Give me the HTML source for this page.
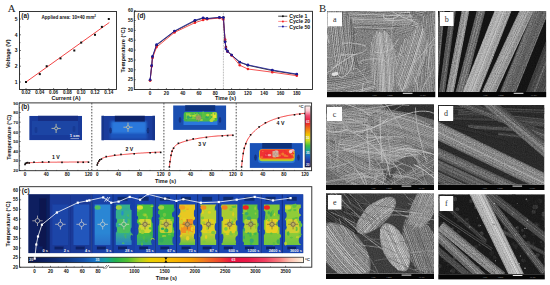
<!DOCTYPE html>
<html><head><meta charset="utf-8"><style>
html,body{margin:0;padding:0;background:#fff;}
body{width:550px;height:285px;overflow:hidden;}
svg{display:block;font-family:"Liberation Sans",sans-serif;}
</style></head><body>
<svg width="550" height="285" viewBox="0 0 550 285">
<defs>
<filter id="bl1" x="-20%" y="-20%" width="140%" height="140%"><feGaussianBlur stdDeviation="0.7"/></filter>
<filter id="bl0" x="-5%" y="-5%" width="110%" height="110%"><feGaussianBlur stdDeviation="0.45"/></filter>
<filter id="bl15" x="-20%" y="-20%" width="140%" height="140%"><feGaussianBlur stdDeviation="1.3"/></filter>
<filter id="grain" x="0" y="0" width="100%" height="100%" color-interpolation-filters="sRGB"><feTurbulence type="fractalNoise" baseFrequency="0.9" numOctaves="2" seed="3"/><feColorMatrix values="0.33 0.33 0.33 0 0  0.33 0.33 0.33 0 0  0.33 0.33 0.33 0 0  0 0 0 0 1"/></filter>
<filter id="bl2" x="-30%" y="-30%" width="160%" height="160%"><feGaussianBlur stdDeviation="2.5"/></filter>
</defs>
<rect width="550" height="285" fill="#fff"/>
<rect x="19.5" y="11.5" width="97.0" height="78.0" fill="none" stroke="#222" stroke-width="0.9"/>
<line x1="19.5" y1="82.0" x2="21.0" y2="82.0" stroke="#222" stroke-width="0.6"/>
<text x="16.2" y="83.8" font-size="5" text-anchor="middle" font-weight="bold" fill="#111" >1</text>
<line x1="19.5" y1="66.2" x2="21.0" y2="66.2" stroke="#222" stroke-width="0.6"/>
<text x="16.2" y="68.0" font-size="5" text-anchor="middle" font-weight="bold" fill="#111" >2</text>
<line x1="19.5" y1="50.5" x2="21.0" y2="50.5" stroke="#222" stroke-width="0.6"/>
<text x="16.2" y="52.3" font-size="5" text-anchor="middle" font-weight="bold" fill="#111" >3</text>
<line x1="19.5" y1="34.8" x2="21.0" y2="34.8" stroke="#222" stroke-width="0.6"/>
<text x="16.2" y="36.5" font-size="5" text-anchor="middle" font-weight="bold" fill="#111" >4</text>
<line x1="19.5" y1="19.0" x2="21.0" y2="19.0" stroke="#222" stroke-width="0.6"/>
<text x="16.2" y="20.8" font-size="5" text-anchor="middle" font-weight="bold" fill="#111" >5</text>
<line x1="19.5" y1="74.1" x2="20.5" y2="74.1" stroke="#222" stroke-width="0.5"/>
<line x1="19.5" y1="58.4" x2="20.5" y2="58.4" stroke="#222" stroke-width="0.5"/>
<line x1="19.5" y1="42.6" x2="20.5" y2="42.6" stroke="#222" stroke-width="0.5"/>
<line x1="19.5" y1="26.9" x2="20.5" y2="26.9" stroke="#222" stroke-width="0.5"/>
<line x1="26.0" y1="89.5" x2="26.0" y2="88.0" stroke="#222" stroke-width="0.6"/>
<text x="26.0" y="94.3" font-size="4.6" text-anchor="middle" font-weight="bold" fill="#111" >0.02</text>
<line x1="39.8" y1="89.5" x2="39.8" y2="88.0" stroke="#222" stroke-width="0.6"/>
<text x="39.8" y="94.3" font-size="4.6" text-anchor="middle" font-weight="bold" fill="#111" >0.04</text>
<line x1="53.6" y1="89.5" x2="53.6" y2="88.0" stroke="#222" stroke-width="0.6"/>
<text x="53.6" y="94.3" font-size="4.6" text-anchor="middle" font-weight="bold" fill="#111" >0.06</text>
<line x1="67.4" y1="89.5" x2="67.4" y2="88.0" stroke="#222" stroke-width="0.6"/>
<text x="67.4" y="94.3" font-size="4.6" text-anchor="middle" font-weight="bold" fill="#111" >0.08</text>
<line x1="81.2" y1="89.5" x2="81.2" y2="88.0" stroke="#222" stroke-width="0.6"/>
<text x="81.2" y="94.3" font-size="4.6" text-anchor="middle" font-weight="bold" fill="#111" >0.10</text>
<line x1="95.0" y1="89.5" x2="95.0" y2="88.0" stroke="#222" stroke-width="0.6"/>
<text x="95.0" y="94.3" font-size="4.6" text-anchor="middle" font-weight="bold" fill="#111" >0.12</text>
<line x1="108.8" y1="89.5" x2="108.8" y2="88.0" stroke="#222" stroke-width="0.6"/>
<text x="108.8" y="94.3" font-size="4.6" text-anchor="middle" font-weight="bold" fill="#111" >0.14</text>
<text x="66.0" y="99.6" font-size="5.5" text-anchor="middle" font-weight="bold" fill="#111" >Current (A)</text>
<text transform="translate(9.8,53.7) rotate(-90)" font-size="5.6" text-anchor="middle" font-weight="bold" fill="#111">Voltage (V)</text>
<text x="21.3" y="18.2" font-size="6.4" text-anchor="start" font-weight="bold" fill="#111" >(a)</text>
<text x="41.5" y="18.5" font-size="4.6" text-anchor="start" font-weight="bold" fill="#111" >Applied area: 10×40 mm<tspan font-size="3" dy="-2">2</tspan></text>
<line x1="26.0" y1="82.0" x2="109.3" y2="22.5" stroke="#f03030" stroke-width="0.9"/>
<rect x="25.0" y="81.0" width="2" height="2" fill="#111"/>
<rect x="38.8" y="73.1" width="2" height="2" fill="#111"/>
<rect x="45.7" y="65.2" width="2" height="2" fill="#111"/>
<rect x="59.5" y="57.4" width="2" height="2" fill="#111"/>
<rect x="73.3" y="49.5" width="2" height="2" fill="#111"/>
<rect x="80.2" y="41.6" width="2" height="2" fill="#111"/>
<rect x="94.0" y="33.8" width="2" height="2" fill="#111"/>
<rect x="100.9" y="25.9" width="2" height="2" fill="#111"/>
<rect x="107.8" y="18.0" width="2" height="2" fill="#111"/>
<rect x="134.3" y="11.3" width="178.2" height="78.2" fill="none" stroke="#222" stroke-width="0.9"/>
<line x1="134.3" y1="89.5" x2="135.8" y2="89.5" stroke="#222" stroke-width="0.6"/>
<text x="130.5" y="91.2" font-size="4.6" text-anchor="middle" font-weight="bold" fill="#111" >20</text>
<line x1="134.3" y1="79.7" x2="135.8" y2="79.7" stroke="#222" stroke-width="0.6"/>
<text x="130.5" y="81.4" font-size="4.6" text-anchor="middle" font-weight="bold" fill="#111" >25</text>
<line x1="134.3" y1="69.8" x2="135.8" y2="69.8" stroke="#222" stroke-width="0.6"/>
<text x="130.5" y="71.5" font-size="4.6" text-anchor="middle" font-weight="bold" fill="#111" >30</text>
<line x1="134.3" y1="60.0" x2="135.8" y2="60.0" stroke="#222" stroke-width="0.6"/>
<text x="130.5" y="61.7" font-size="4.6" text-anchor="middle" font-weight="bold" fill="#111" >35</text>
<line x1="134.3" y1="50.1" x2="135.8" y2="50.1" stroke="#222" stroke-width="0.6"/>
<text x="130.5" y="51.8" font-size="4.6" text-anchor="middle" font-weight="bold" fill="#111" >40</text>
<line x1="134.3" y1="40.2" x2="135.8" y2="40.2" stroke="#222" stroke-width="0.6"/>
<text x="130.5" y="42.0" font-size="4.6" text-anchor="middle" font-weight="bold" fill="#111" >45</text>
<line x1="134.3" y1="30.4" x2="135.8" y2="30.4" stroke="#222" stroke-width="0.6"/>
<text x="130.5" y="32.1" font-size="4.6" text-anchor="middle" font-weight="bold" fill="#111" >50</text>
<line x1="134.3" y1="20.5" x2="135.8" y2="20.5" stroke="#222" stroke-width="0.6"/>
<text x="130.5" y="22.2" font-size="4.6" text-anchor="middle" font-weight="bold" fill="#111" >55</text>
<line x1="134.3" y1="10.7" x2="135.8" y2="10.7" stroke="#222" stroke-width="0.6"/>
<text x="130.5" y="12.4" font-size="4.6" text-anchor="middle" font-weight="bold" fill="#111" >60</text>
<line x1="134.3" y1="89.5" x2="135.10000000000002" y2="89.5" stroke="#222" stroke-width="0.4"/>
<line x1="134.3" y1="87.5" x2="135.10000000000002" y2="87.5" stroke="#222" stroke-width="0.4"/>
<line x1="134.3" y1="85.6" x2="135.10000000000002" y2="85.6" stroke="#222" stroke-width="0.4"/>
<line x1="134.3" y1="83.6" x2="135.10000000000002" y2="83.6" stroke="#222" stroke-width="0.4"/>
<line x1="134.3" y1="81.6" x2="135.10000000000002" y2="81.6" stroke="#222" stroke-width="0.4"/>
<line x1="134.3" y1="79.7" x2="135.10000000000002" y2="79.7" stroke="#222" stroke-width="0.4"/>
<line x1="134.3" y1="77.7" x2="135.10000000000002" y2="77.7" stroke="#222" stroke-width="0.4"/>
<line x1="134.3" y1="75.7" x2="135.10000000000002" y2="75.7" stroke="#222" stroke-width="0.4"/>
<line x1="134.3" y1="73.7" x2="135.10000000000002" y2="73.7" stroke="#222" stroke-width="0.4"/>
<line x1="134.3" y1="71.8" x2="135.10000000000002" y2="71.8" stroke="#222" stroke-width="0.4"/>
<line x1="134.3" y1="69.8" x2="135.10000000000002" y2="69.8" stroke="#222" stroke-width="0.4"/>
<line x1="134.3" y1="67.8" x2="135.10000000000002" y2="67.8" stroke="#222" stroke-width="0.4"/>
<line x1="134.3" y1="65.9" x2="135.10000000000002" y2="65.9" stroke="#222" stroke-width="0.4"/>
<line x1="134.3" y1="63.9" x2="135.10000000000002" y2="63.9" stroke="#222" stroke-width="0.4"/>
<line x1="134.3" y1="61.9" x2="135.10000000000002" y2="61.9" stroke="#222" stroke-width="0.4"/>
<line x1="134.3" y1="60.0" x2="135.10000000000002" y2="60.0" stroke="#222" stroke-width="0.4"/>
<line x1="134.3" y1="58.0" x2="135.10000000000002" y2="58.0" stroke="#222" stroke-width="0.4"/>
<line x1="134.3" y1="56.0" x2="135.10000000000002" y2="56.0" stroke="#222" stroke-width="0.4"/>
<line x1="134.3" y1="54.0" x2="135.10000000000002" y2="54.0" stroke="#222" stroke-width="0.4"/>
<line x1="134.3" y1="52.1" x2="135.10000000000002" y2="52.1" stroke="#222" stroke-width="0.4"/>
<line x1="134.3" y1="50.1" x2="135.10000000000002" y2="50.1" stroke="#222" stroke-width="0.4"/>
<line x1="134.3" y1="48.1" x2="135.10000000000002" y2="48.1" stroke="#222" stroke-width="0.4"/>
<line x1="134.3" y1="46.2" x2="135.10000000000002" y2="46.2" stroke="#222" stroke-width="0.4"/>
<line x1="134.3" y1="44.2" x2="135.10000000000002" y2="44.2" stroke="#222" stroke-width="0.4"/>
<line x1="134.3" y1="42.2" x2="135.10000000000002" y2="42.2" stroke="#222" stroke-width="0.4"/>
<line x1="134.3" y1="40.2" x2="135.10000000000002" y2="40.2" stroke="#222" stroke-width="0.4"/>
<line x1="134.3" y1="38.3" x2="135.10000000000002" y2="38.3" stroke="#222" stroke-width="0.4"/>
<line x1="134.3" y1="36.3" x2="135.10000000000002" y2="36.3" stroke="#222" stroke-width="0.4"/>
<line x1="134.3" y1="34.3" x2="135.10000000000002" y2="34.3" stroke="#222" stroke-width="0.4"/>
<line x1="134.3" y1="32.4" x2="135.10000000000002" y2="32.4" stroke="#222" stroke-width="0.4"/>
<line x1="134.3" y1="30.4" x2="135.10000000000002" y2="30.4" stroke="#222" stroke-width="0.4"/>
<line x1="134.3" y1="28.4" x2="135.10000000000002" y2="28.4" stroke="#222" stroke-width="0.4"/>
<line x1="134.3" y1="26.5" x2="135.10000000000002" y2="26.5" stroke="#222" stroke-width="0.4"/>
<line x1="134.3" y1="24.5" x2="135.10000000000002" y2="24.5" stroke="#222" stroke-width="0.4"/>
<line x1="134.3" y1="22.5" x2="135.10000000000002" y2="22.5" stroke="#222" stroke-width="0.4"/>
<line x1="134.3" y1="20.5" x2="135.10000000000002" y2="20.5" stroke="#222" stroke-width="0.4"/>
<line x1="134.3" y1="18.6" x2="135.10000000000002" y2="18.6" stroke="#222" stroke-width="0.4"/>
<line x1="134.3" y1="16.6" x2="135.10000000000002" y2="16.6" stroke="#222" stroke-width="0.4"/>
<line x1="134.3" y1="14.6" x2="135.10000000000002" y2="14.6" stroke="#222" stroke-width="0.4"/>
<line x1="134.3" y1="12.7" x2="135.10000000000002" y2="12.7" stroke="#222" stroke-width="0.4"/>
<line x1="134.3" y1="10.7" x2="135.10000000000002" y2="10.7" stroke="#222" stroke-width="0.4"/>
<line x1="150.1" y1="89.5" x2="150.1" y2="88.0" stroke="#222" stroke-width="0.6"/>
<text x="150.1" y="94.5" font-size="4.6" text-anchor="middle" font-weight="bold" fill="#111" >0</text>
<line x1="166.4" y1="89.5" x2="166.4" y2="88.0" stroke="#222" stroke-width="0.6"/>
<text x="166.4" y="94.5" font-size="4.6" text-anchor="middle" font-weight="bold" fill="#111" >20</text>
<line x1="182.7" y1="89.5" x2="182.7" y2="88.0" stroke="#222" stroke-width="0.6"/>
<text x="182.7" y="94.5" font-size="4.6" text-anchor="middle" font-weight="bold" fill="#111" >40</text>
<line x1="199.0" y1="89.5" x2="199.0" y2="88.0" stroke="#222" stroke-width="0.6"/>
<text x="199.0" y="94.5" font-size="4.6" text-anchor="middle" font-weight="bold" fill="#111" >60</text>
<line x1="215.3" y1="89.5" x2="215.3" y2="88.0" stroke="#222" stroke-width="0.6"/>
<text x="215.3" y="94.5" font-size="4.6" text-anchor="middle" font-weight="bold" fill="#111" >80</text>
<line x1="231.6" y1="89.5" x2="231.6" y2="88.0" stroke="#222" stroke-width="0.6"/>
<text x="231.6" y="94.5" font-size="4.6" text-anchor="middle" font-weight="bold" fill="#111" >100</text>
<line x1="247.9" y1="89.5" x2="247.9" y2="88.0" stroke="#222" stroke-width="0.6"/>
<text x="247.9" y="94.5" font-size="4.6" text-anchor="middle" font-weight="bold" fill="#111" >120</text>
<line x1="264.2" y1="89.5" x2="264.2" y2="88.0" stroke="#222" stroke-width="0.6"/>
<text x="264.2" y="94.5" font-size="4.6" text-anchor="middle" font-weight="bold" fill="#111" >140</text>
<line x1="280.5" y1="89.5" x2="280.5" y2="88.0" stroke="#222" stroke-width="0.6"/>
<text x="280.5" y="94.5" font-size="4.6" text-anchor="middle" font-weight="bold" fill="#111" >160</text>
<line x1="296.8" y1="89.5" x2="296.8" y2="88.0" stroke="#222" stroke-width="0.6"/>
<text x="296.8" y="94.5" font-size="4.6" text-anchor="middle" font-weight="bold" fill="#111" >180</text>
<line x1="158.2" y1="89.5" x2="158.2" y2="88.6" stroke="#222" stroke-width="0.5"/>
<line x1="174.5" y1="89.5" x2="174.5" y2="88.6" stroke="#222" stroke-width="0.5"/>
<line x1="190.8" y1="89.5" x2="190.8" y2="88.6" stroke="#222" stroke-width="0.5"/>
<line x1="207.1" y1="89.5" x2="207.1" y2="88.6" stroke="#222" stroke-width="0.5"/>
<line x1="223.4" y1="89.5" x2="223.4" y2="88.6" stroke="#222" stroke-width="0.5"/>
<line x1="239.8" y1="89.5" x2="239.8" y2="88.6" stroke="#222" stroke-width="0.5"/>
<line x1="256.0" y1="89.5" x2="256.0" y2="88.6" stroke="#222" stroke-width="0.5"/>
<line x1="272.3" y1="89.5" x2="272.3" y2="88.6" stroke="#222" stroke-width="0.5"/>
<line x1="288.6" y1="89.5" x2="288.6" y2="88.6" stroke="#222" stroke-width="0.5"/>
<text x="225.5" y="100.0" font-size="5.5" text-anchor="middle" font-weight="bold" fill="#111" >Time (s)</text>
<text transform="translate(124.6,50) rotate(-90)" font-size="5.6" text-anchor="middle" font-weight="bold" fill="#111">Temperature (°C)</text>
<text x="137.3" y="18.2" font-size="6.4" text-anchor="start" font-weight="bold" fill="#111" >(d)</text>
<line x1="223.4" y1="11.3" x2="223.4" y2="89.5" stroke="#555" stroke-width="0.5" stroke-dasharray="0.8,0.8"/>
<polyline points="150.1,80.2 151.7,65.9 152.5,57.0 156.6,45.2 174.5,31.4 194.9,20.9 203.1,18.2 207.1,18.6 219.4,17.6 223.4,17.6 225.1,41.2 225.9,47.1 227.5,51.1 231.6,55.0 239.8,62.3 247.9,65.3 272.3,70.6 296.8,74.5" fill="none" stroke="#111" stroke-width="0.8"/>
<circle cx="150.1" cy="80.2" r="1.3" fill="#111"/>
<circle cx="151.7" cy="65.9" r="1.3" fill="#111"/>
<circle cx="152.5" cy="57.0" r="1.3" fill="#111"/>
<circle cx="156.6" cy="45.2" r="1.3" fill="#111"/>
<circle cx="174.5" cy="31.4" r="1.3" fill="#111"/>
<circle cx="194.9" cy="20.9" r="1.3" fill="#111"/>
<circle cx="203.1" cy="18.2" r="1.3" fill="#111"/>
<circle cx="207.1" cy="18.6" r="1.3" fill="#111"/>
<circle cx="219.4" cy="17.6" r="1.3" fill="#111"/>
<circle cx="223.4" cy="17.6" r="1.3" fill="#111"/>
<circle cx="225.1" cy="41.2" r="1.3" fill="#111"/>
<circle cx="225.9" cy="47.1" r="1.3" fill="#111"/>
<circle cx="227.5" cy="51.1" r="1.3" fill="#111"/>
<circle cx="231.6" cy="55.0" r="1.3" fill="#111"/>
<circle cx="239.8" cy="62.3" r="1.3" fill="#111"/>
<circle cx="247.9" cy="65.3" r="1.3" fill="#111"/>
<circle cx="272.3" cy="70.6" r="1.3" fill="#111"/>
<circle cx="296.8" cy="74.5" r="1.3" fill="#111"/>
<polyline points="150.1,80.6 151.7,66.3 152.5,58.0 156.6,47.1 174.5,32.4 194.9,22.7 203.1,20.0 207.1,19.2 219.4,18.0 223.4,19.6 225.1,39.5 225.9,47.7 227.5,51.7 231.6,55.4 239.8,65.3 247.9,69.0 272.3,72.2 296.8,75.7" fill="none" stroke="#f02525" stroke-width="0.8"/>
<circle cx="150.1" cy="80.6" r="1.3" fill="#f02525"/>
<circle cx="151.7" cy="66.3" r="1.3" fill="#f02525"/>
<circle cx="152.5" cy="58.0" r="1.3" fill="#f02525"/>
<circle cx="156.6" cy="47.1" r="1.3" fill="#f02525"/>
<circle cx="174.5" cy="32.4" r="1.3" fill="#f02525"/>
<circle cx="194.9" cy="22.7" r="1.3" fill="#f02525"/>
<circle cx="203.1" cy="20.0" r="1.3" fill="#f02525"/>
<circle cx="207.1" cy="19.2" r="1.3" fill="#f02525"/>
<circle cx="219.4" cy="18.0" r="1.3" fill="#f02525"/>
<circle cx="223.4" cy="19.6" r="1.3" fill="#f02525"/>
<circle cx="225.1" cy="39.5" r="1.3" fill="#f02525"/>
<circle cx="225.9" cy="47.7" r="1.3" fill="#f02525"/>
<circle cx="227.5" cy="51.7" r="1.3" fill="#f02525"/>
<circle cx="231.6" cy="55.4" r="1.3" fill="#f02525"/>
<circle cx="239.8" cy="65.3" r="1.3" fill="#f02525"/>
<circle cx="247.9" cy="69.0" r="1.3" fill="#f02525"/>
<circle cx="272.3" cy="72.2" r="1.3" fill="#f02525"/>
<circle cx="296.8" cy="75.7" r="1.3" fill="#f02525"/>
<polyline points="150.1,79.8 151.7,65.5 152.5,56.4 156.6,44.6 174.5,31.0 194.9,20.2 203.1,17.8 207.1,18.6 219.4,17.4 223.4,17.6 225.1,42.0 225.9,48.9 227.5,51.5 231.6,55.0 239.8,62.1 247.9,64.9 272.3,70.0 296.8,74.1" fill="none" stroke="#1a1a9a" stroke-width="0.8"/>
<circle cx="150.1" cy="79.8" r="1.3" fill="#1a1a9a"/>
<circle cx="151.7" cy="65.5" r="1.3" fill="#1a1a9a"/>
<circle cx="152.5" cy="56.4" r="1.3" fill="#1a1a9a"/>
<circle cx="156.6" cy="44.6" r="1.3" fill="#1a1a9a"/>
<circle cx="174.5" cy="31.0" r="1.3" fill="#1a1a9a"/>
<circle cx="194.9" cy="20.2" r="1.3" fill="#1a1a9a"/>
<circle cx="203.1" cy="17.8" r="1.3" fill="#1a1a9a"/>
<circle cx="207.1" cy="18.6" r="1.3" fill="#1a1a9a"/>
<circle cx="219.4" cy="17.4" r="1.3" fill="#1a1a9a"/>
<circle cx="223.4" cy="17.6" r="1.3" fill="#1a1a9a"/>
<circle cx="225.1" cy="42.0" r="1.3" fill="#1a1a9a"/>
<circle cx="225.9" cy="48.9" r="1.3" fill="#1a1a9a"/>
<circle cx="227.5" cy="51.5" r="1.3" fill="#1a1a9a"/>
<circle cx="231.6" cy="55.0" r="1.3" fill="#1a1a9a"/>
<circle cx="239.8" cy="62.1" r="1.3" fill="#1a1a9a"/>
<circle cx="247.9" cy="64.9" r="1.3" fill="#1a1a9a"/>
<circle cx="272.3" cy="70.0" r="1.3" fill="#1a1a9a"/>
<circle cx="296.8" cy="74.1" r="1.3" fill="#1a1a9a"/>
<line x1="278.2" y1="16.2" x2="287.3" y2="16.2" stroke="#111" stroke-width="0.8"/>
<circle cx="282.9" cy="16.2" r="1" fill="#111"/>
<text x="289.2" y="18.1" font-size="5.2" text-anchor="start" font-weight="bold" fill="#111" >Cycle 1</text>
<line x1="278.2" y1="21.4" x2="287.3" y2="21.4" stroke="#ff7070" stroke-width="0.8"/>
<circle cx="282.9" cy="21.4" r="1" fill="#f02525"/>
<text x="289.2" y="23.3" font-size="5.2" text-anchor="start" font-weight="bold" fill="#111" >Cycle 20</text>
<line x1="278.2" y1="26.6" x2="287.3" y2="26.6" stroke="#8080d0" stroke-width="0.8"/>
<circle cx="282.9" cy="26.6" r="1" fill="#1a1a9a"/>
<text x="289.2" y="28.5" font-size="5.2" text-anchor="start" font-weight="bold" fill="#111" >Cycle 50</text>
<rect x="19.2" y="102.9" width="292.40000000000003" height="67.79999999999998" fill="none" stroke="#222" stroke-width="0.9"/>
<line x1="19.2" y1="170.5" x2="20.7" y2="170.5" stroke="#222" stroke-width="0.6"/>
<text x="15.8" y="172.1" font-size="4.4" text-anchor="middle" font-weight="bold" fill="#111" >20</text>
<line x1="19.2" y1="160.8" x2="20.7" y2="160.8" stroke="#222" stroke-width="0.6"/>
<text x="15.8" y="162.4" font-size="4.4" text-anchor="middle" font-weight="bold" fill="#111" >30</text>
<line x1="19.2" y1="151.2" x2="20.7" y2="151.2" stroke="#222" stroke-width="0.6"/>
<text x="15.8" y="152.8" font-size="4.4" text-anchor="middle" font-weight="bold" fill="#111" >40</text>
<line x1="19.2" y1="141.5" x2="20.7" y2="141.5" stroke="#222" stroke-width="0.6"/>
<text x="15.8" y="143.1" font-size="4.4" text-anchor="middle" font-weight="bold" fill="#111" >50</text>
<line x1="19.2" y1="131.9" x2="20.7" y2="131.9" stroke="#222" stroke-width="0.6"/>
<text x="15.8" y="133.5" font-size="4.4" text-anchor="middle" font-weight="bold" fill="#111" >60</text>
<line x1="19.2" y1="122.2" x2="20.7" y2="122.2" stroke="#222" stroke-width="0.6"/>
<text x="15.8" y="123.8" font-size="4.4" text-anchor="middle" font-weight="bold" fill="#111" >70</text>
<line x1="19.2" y1="112.5" x2="20.7" y2="112.5" stroke="#222" stroke-width="0.6"/>
<text x="15.8" y="114.1" font-size="4.4" text-anchor="middle" font-weight="bold" fill="#111" >80</text>
<line x1="19.2" y1="102.9" x2="20.7" y2="102.9" stroke="#222" stroke-width="0.6"/>
<text x="15.8" y="104.5" font-size="4.4" text-anchor="middle" font-weight="bold" fill="#111" >90</text>
<line x1="19.2" y1="165.7" x2="20.099999999999998" y2="165.7" stroke="#222" stroke-width="0.5"/>
<line x1="19.2" y1="156.0" x2="20.099999999999998" y2="156.0" stroke="#222" stroke-width="0.5"/>
<line x1="19.2" y1="146.3" x2="20.099999999999998" y2="146.3" stroke="#222" stroke-width="0.5"/>
<line x1="19.2" y1="136.7" x2="20.099999999999998" y2="136.7" stroke="#222" stroke-width="0.5"/>
<line x1="19.2" y1="127.0" x2="20.099999999999998" y2="127.0" stroke="#222" stroke-width="0.5"/>
<line x1="19.2" y1="117.4" x2="20.099999999999998" y2="117.4" stroke="#222" stroke-width="0.5"/>
<line x1="19.2" y1="107.7" x2="20.099999999999998" y2="107.7" stroke="#222" stroke-width="0.5"/>
<line x1="25.0" y1="170.7" x2="25.0" y2="169.29999999999998" stroke="#222" stroke-width="0.6"/>
<text x="25.0" y="176.2" font-size="4.6" text-anchor="middle" font-weight="bold" fill="#111" >0</text>
<line x1="46.2" y1="170.7" x2="46.2" y2="169.29999999999998" stroke="#222" stroke-width="0.6"/>
<text x="46.2" y="176.2" font-size="4.6" text-anchor="middle" font-weight="bold" fill="#111" >40</text>
<line x1="67.3" y1="170.7" x2="67.3" y2="169.29999999999998" stroke="#222" stroke-width="0.6"/>
<text x="67.3" y="176.2" font-size="4.6" text-anchor="middle" font-weight="bold" fill="#111" >80</text>
<line x1="88.5" y1="170.7" x2="88.5" y2="169.29999999999998" stroke="#222" stroke-width="0.6"/>
<text x="88.5" y="176.2" font-size="4.6" text-anchor="middle" font-weight="bold" fill="#111" >120</text>
<line x1="35.6" y1="170.7" x2="35.6" y2="169.89999999999998" stroke="#222" stroke-width="0.5"/>
<line x1="56.7" y1="170.7" x2="56.7" y2="169.89999999999998" stroke="#222" stroke-width="0.5"/>
<line x1="77.9" y1="170.7" x2="77.9" y2="169.89999999999998" stroke="#222" stroke-width="0.5"/>
<line x1="97.2" y1="170.7" x2="97.2" y2="169.29999999999998" stroke="#222" stroke-width="0.6"/>
<text x="97.2" y="176.2" font-size="4.6" text-anchor="middle" font-weight="bold" fill="#111" >0</text>
<line x1="118.4" y1="170.7" x2="118.4" y2="169.29999999999998" stroke="#222" stroke-width="0.6"/>
<text x="118.4" y="176.2" font-size="4.6" text-anchor="middle" font-weight="bold" fill="#111" >40</text>
<line x1="139.5" y1="170.7" x2="139.5" y2="169.29999999999998" stroke="#222" stroke-width="0.6"/>
<text x="139.5" y="176.2" font-size="4.6" text-anchor="middle" font-weight="bold" fill="#111" >80</text>
<line x1="160.7" y1="170.7" x2="160.7" y2="169.29999999999998" stroke="#222" stroke-width="0.6"/>
<text x="160.7" y="176.2" font-size="4.6" text-anchor="middle" font-weight="bold" fill="#111" >120</text>
<line x1="107.8" y1="170.7" x2="107.8" y2="169.89999999999998" stroke="#222" stroke-width="0.5"/>
<line x1="128.9" y1="170.7" x2="128.9" y2="169.89999999999998" stroke="#222" stroke-width="0.5"/>
<line x1="150.1" y1="170.7" x2="150.1" y2="169.89999999999998" stroke="#222" stroke-width="0.5"/>
<line x1="169.4" y1="170.7" x2="169.4" y2="169.29999999999998" stroke="#222" stroke-width="0.6"/>
<text x="169.4" y="176.2" font-size="4.6" text-anchor="middle" font-weight="bold" fill="#111" >0</text>
<line x1="190.6" y1="170.7" x2="190.6" y2="169.29999999999998" stroke="#222" stroke-width="0.6"/>
<text x="190.6" y="176.2" font-size="4.6" text-anchor="middle" font-weight="bold" fill="#111" >40</text>
<line x1="211.7" y1="170.7" x2="211.7" y2="169.29999999999998" stroke="#222" stroke-width="0.6"/>
<text x="211.7" y="176.2" font-size="4.6" text-anchor="middle" font-weight="bold" fill="#111" >80</text>
<line x1="232.9" y1="170.7" x2="232.9" y2="169.29999999999998" stroke="#222" stroke-width="0.6"/>
<text x="232.9" y="176.2" font-size="4.6" text-anchor="middle" font-weight="bold" fill="#111" >120</text>
<line x1="180.0" y1="170.7" x2="180.0" y2="169.89999999999998" stroke="#222" stroke-width="0.5"/>
<line x1="201.1" y1="170.7" x2="201.1" y2="169.89999999999998" stroke="#222" stroke-width="0.5"/>
<line x1="222.3" y1="170.7" x2="222.3" y2="169.89999999999998" stroke="#222" stroke-width="0.5"/>
<line x1="241.6" y1="170.7" x2="241.6" y2="169.29999999999998" stroke="#222" stroke-width="0.6"/>
<text x="241.6" y="176.2" font-size="4.6" text-anchor="middle" font-weight="bold" fill="#111" >0</text>
<line x1="262.8" y1="170.7" x2="262.8" y2="169.29999999999998" stroke="#222" stroke-width="0.6"/>
<text x="262.8" y="176.2" font-size="4.6" text-anchor="middle" font-weight="bold" fill="#111" >40</text>
<line x1="283.9" y1="170.7" x2="283.9" y2="169.29999999999998" stroke="#222" stroke-width="0.6"/>
<text x="283.9" y="176.2" font-size="4.6" text-anchor="middle" font-weight="bold" fill="#111" >80</text>
<line x1="305.1" y1="170.7" x2="305.1" y2="169.29999999999998" stroke="#222" stroke-width="0.6"/>
<text x="305.1" y="176.2" font-size="4.6" text-anchor="middle" font-weight="bold" fill="#111" >120</text>
<line x1="252.2" y1="170.7" x2="252.2" y2="169.89999999999998" stroke="#222" stroke-width="0.5"/>
<line x1="273.3" y1="170.7" x2="273.3" y2="169.89999999999998" stroke="#222" stroke-width="0.5"/>
<line x1="294.5" y1="170.7" x2="294.5" y2="169.89999999999998" stroke="#222" stroke-width="0.5"/>
<line x1="91.8" y1="102.9" x2="91.8" y2="170.7" stroke="#505050" stroke-width="1.0" stroke-dasharray="1.6,1.4"/>
<line x1="163.9" y1="102.9" x2="163.9" y2="170.7" stroke="#505050" stroke-width="1.0" stroke-dasharray="1.6,1.4"/>
<line x1="236.2" y1="102.9" x2="236.2" y2="170.7" stroke="#505050" stroke-width="1.0" stroke-dasharray="1.6,1.4"/>
<text x="165.5" y="182.8" font-size="5.5" text-anchor="middle" font-weight="bold" fill="#111" >Time (s)</text>
<text transform="translate(11,137.3) rotate(-90)" font-size="5.6" text-anchor="middle" font-weight="bold" fill="#111">Temperature (°C)</text>
<text x="21.2" y="109.4" font-size="6.4" text-anchor="start" font-weight="bold" fill="#111" >(b)</text>
<polyline points="25.0,164.2 26.1,163.5 27.1,163.1 28.2,162.9 29.2,162.8 30.3,162.7 31.3,162.6 32.4,162.6 33.5,162.6 34.5,162.5 35.6,162.5 36.6,162.5 37.7,162.5 38.8,162.4 39.8,162.4 40.9,162.4 41.9,162.4 43.0,162.4 44.0,162.3 45.1,162.3 46.2,162.3 47.2,162.3 48.3,162.3 49.3,162.3 50.4,162.2 51.5,162.2 52.5,162.2 53.6,162.2 54.6,162.2 55.7,162.2 56.7,162.2 57.8,162.1 58.9,162.1 59.9,162.1 61.0,162.1 62.0,162.1 63.1,162.1 64.1,162.1 65.2,162.1 66.3,162.1 67.3,162.1 68.4,162.1 69.4,162.0 70.5,162.0 71.6,162.0 72.6,162.0 73.7,162.0 74.7,162.0 75.8,162.0 76.8,162.0 77.9,162.0 79.0,162.0 80.0,162.0 81.1,162.0 82.1,162.0 83.2,162.0 84.2,162.0 85.3,162.0 86.4,161.9 87.4,161.9 88.5,161.9" fill="none" stroke="#f03535" stroke-width="0.9"/>
<rect x="24.2" y="163.7" width="1.6" height="1.6" fill="#111"/>
<rect x="24.7" y="162.6" width="1.6" height="1.6" fill="#111"/>
<rect x="25.8" y="162.1" width="1.6" height="1.6" fill="#111"/>
<rect x="26.8" y="161.8" width="1.6" height="1.6" fill="#111"/>
<rect x="28.4" y="162.2" width="1.6" height="1.6" fill="#111"/>
<rect x="33.2" y="161.4" width="1.6" height="1.6" fill="#111"/>
<rect x="41.7" y="161.2" width="1.6" height="1.6" fill="#111"/>
<rect x="48.0" y="161.1" width="1.6" height="1.6" fill="#111"/>
<rect x="61.2" y="161.6" width="1.6" height="1.6" fill="#111"/>
<rect x="77.1" y="161.5" width="1.6" height="1.6" fill="#111"/>
<rect x="82.4" y="161.5" width="1.6" height="1.6" fill="#111"/>
<rect x="87.7" y="161.4" width="1.6" height="1.6" fill="#111"/>
<polyline points="97.2,164.7 98.3,162.4 99.3,160.8 100.4,159.7 101.4,158.9 102.5,158.2 103.5,157.8 104.6,157.4 105.7,157.1 106.7,156.8 107.8,156.6 108.8,156.4 109.9,156.2 111.0,156.1 112.0,155.9 113.1,155.7 114.1,155.6 115.2,155.5 116.2,155.3 117.3,155.2 118.4,155.1 119.4,154.9 120.5,154.8 121.5,154.7 122.6,154.6 123.7,154.5 124.7,154.4 125.8,154.3 126.8,154.2 127.9,154.1 128.9,154.0 130.0,153.9 131.1,153.8 132.1,153.7 133.2,153.6 134.2,153.5 135.3,153.5 136.3,153.4 137.4,153.3 138.5,153.2 139.5,153.2 140.6,153.1 141.6,153.0 142.7,153.0 143.8,152.9 144.8,152.8 145.9,152.8 146.9,152.7 148.0,152.7 149.0,152.6 150.1,152.5 151.2,152.5 152.2,152.4 153.3,152.4 154.3,152.3 155.4,152.3 156.4,152.3 157.5,152.2 158.6,152.2 159.6,152.1 160.7,152.1" fill="none" stroke="#f03535" stroke-width="0.9"/>
<rect x="96.4" y="164.2" width="1.6" height="1.6" fill="#111"/>
<rect x="96.9" y="162.3" width="1.6" height="1.6" fill="#111"/>
<rect x="98.0" y="160.4" width="1.6" height="1.6" fill="#111"/>
<rect x="99.0" y="159.0" width="1.6" height="1.6" fill="#111"/>
<rect x="100.6" y="158.3" width="1.6" height="1.6" fill="#111"/>
<rect x="105.4" y="155.8" width="1.6" height="1.6" fill="#111"/>
<rect x="113.9" y="154.3" width="1.6" height="1.6" fill="#111"/>
<rect x="120.2" y="153.6" width="1.6" height="1.6" fill="#111"/>
<rect x="133.4" y="153.0" width="1.6" height="1.6" fill="#111"/>
<rect x="149.3" y="152.0" width="1.6" height="1.6" fill="#111"/>
<rect x="154.6" y="151.8" width="1.6" height="1.6" fill="#111"/>
<rect x="159.9" y="151.6" width="1.6" height="1.6" fill="#111"/>
<polyline points="169.4,166.6 170.5,158.5 171.5,153.4 172.6,150.1 173.6,147.9 174.7,146.5 175.7,145.4 176.8,144.6 177.9,144.0 178.9,143.4 180.0,143.0 181.0,142.6 182.1,142.2 183.2,141.9 184.2,141.5 185.3,141.2 186.3,140.9 187.4,140.6 188.4,140.4 189.5,140.1 190.6,139.9 191.6,139.6 192.7,139.4 193.7,139.2 194.8,139.0 195.9,138.8 196.9,138.6 198.0,138.4 199.0,138.2 200.1,138.0 201.1,137.9 202.2,137.7 203.3,137.6 204.3,137.4 205.4,137.3 206.4,137.1 207.5,137.0 208.5,136.9 209.6,136.7 210.7,136.6 211.7,136.5 212.8,136.4 213.8,136.3 214.9,136.2 216.0,136.1 217.0,136.0 218.1,135.9 219.1,135.9 220.2,135.8 221.2,135.7 222.3,135.6 223.4,135.6 224.4,135.5 225.5,135.4 226.5,135.4 227.6,135.3 228.6,135.2 229.7,135.2 230.8,135.1 231.8,135.1 232.9,135.0" fill="none" stroke="#f03535" stroke-width="0.9"/>
<rect x="168.6" y="166.1" width="1.6" height="1.6" fill="#111"/>
<rect x="169.1" y="160.9" width="1.6" height="1.6" fill="#111"/>
<rect x="170.2" y="154.5" width="1.6" height="1.6" fill="#111"/>
<rect x="171.2" y="150.4" width="1.6" height="1.6" fill="#111"/>
<rect x="172.8" y="147.4" width="1.6" height="1.6" fill="#111"/>
<rect x="177.6" y="142.5" width="1.6" height="1.6" fill="#111"/>
<rect x="186.1" y="139.6" width="1.6" height="1.6" fill="#111"/>
<rect x="192.4" y="138.1" width="1.6" height="1.6" fill="#111"/>
<rect x="205.6" y="136.6" width="1.6" height="1.6" fill="#111"/>
<rect x="221.5" y="135.1" width="1.6" height="1.6" fill="#111"/>
<rect x="226.8" y="134.8" width="1.6" height="1.6" fill="#111"/>
<rect x="232.1" y="134.5" width="1.6" height="1.6" fill="#111"/>
<polyline points="241.6,166.6 242.7,157.3 243.7,151.0 244.8,146.6 245.8,143.5 246.9,141.0 247.9,139.0 249.0,137.3 250.1,135.9 251.1,134.6 252.2,133.4 253.2,132.3 254.3,131.2 255.4,130.3 256.4,129.3 257.5,128.5 258.5,127.6 259.6,126.9 260.6,126.1 261.7,125.4 262.8,124.7 263.8,124.1 264.9,123.5 265.9,122.9 267.0,122.3 268.1,121.8 269.1,121.3 270.2,120.8 271.2,120.4 272.3,120.0 273.3,119.5 274.4,119.2 275.5,118.8 276.5,118.4 277.6,118.1 278.6,117.8 279.7,117.5 280.7,117.2 281.8,116.9 282.9,116.7 283.9,116.4 285.0,116.2 286.0,116.0 287.1,115.7 288.2,115.5 289.2,115.3 290.3,115.2 291.3,115.0 292.4,114.8 293.4,114.7 294.5,114.5 295.6,114.4 296.6,114.2 297.7,114.1 298.7,114.0 299.8,113.9 300.8,113.7 301.9,113.6 303.0,113.5 304.0,113.4 305.1,113.4" fill="none" stroke="#f03535" stroke-width="0.9"/>
<rect x="240.8" y="166.1" width="1.6" height="1.6" fill="#111"/>
<rect x="241.3" y="160.3" width="1.6" height="1.6" fill="#111"/>
<rect x="242.4" y="152.7" width="1.6" height="1.6" fill="#111"/>
<rect x="243.4" y="147.5" width="1.6" height="1.6" fill="#111"/>
<rect x="245.0" y="142.9" width="1.6" height="1.6" fill="#111"/>
<rect x="249.8" y="134.0" width="1.6" height="1.6" fill="#111"/>
<rect x="258.3" y="126.1" width="1.6" height="1.6" fill="#111"/>
<rect x="264.6" y="122.0" width="1.6" height="1.6" fill="#111"/>
<rect x="277.8" y="117.3" width="1.6" height="1.6" fill="#111"/>
<rect x="293.7" y="114.0" width="1.6" height="1.6" fill="#111"/>
<rect x="299.0" y="113.3" width="1.6" height="1.6" fill="#111"/>
<rect x="304.3" y="112.8" width="1.6" height="1.6" fill="#111"/>
<text x="55.8" y="159.4" font-size="5.2" text-anchor="middle" font-weight="bold" fill="#111" >1 V</text>
<text x="129.3" y="150.6" font-size="5.2" text-anchor="middle" font-weight="bold" fill="#111" >2 V</text>
<text x="202.2" y="145.5" font-size="5.2" text-anchor="middle" font-weight="bold" fill="#111" >3 V</text>
<text x="280.5" y="125.3" font-size="5.2" text-anchor="middle" font-weight="bold" fill="#111" >4 V</text>
<clipPath id="cT1"><rect x="29.2" y="115.8" width="52.8" height="24.500000000000014"/></clipPath>
<g clip-path="url(#cT1)"><rect x="29.2" y="115.8" width="52.8" height="24.500000000000014" fill="#183a9a"/><g filter="url(#bl1)"><rect x="38" y="115" width="40" height="6.5" fill="#142e84"/><rect x="32" y="121" width="46" height="14" fill="#1d44a4"/><ellipse cx="36" cy="130" rx="1.5" ry="3" fill="#183a94"/><ellipse cx="74" cy="129" rx="1.5" ry="3" fill="#183a94"/></g></g>
<g stroke="#c8c8a8" stroke-width="0.85" fill="none"><circle cx="56.1" cy="128.4" r="1.5"/><line x1="51.5" y1="128.4" x2="54.6" y2="128.4"/><line x1="57.6" y1="128.4" x2="60.7" y2="128.4"/><line x1="56.1" y1="123.80000000000001" x2="56.1" y2="126.9"/><line x1="56.1" y1="129.9" x2="56.1" y2="133.0"/></g>
<text x="74.6" y="137.4" font-size="4.2" text-anchor="middle" font-weight="bold" fill="#fff" >1 cm</text>
<line x1="70.5" y1="138.6" x2="79" y2="138.6" stroke="#fff" stroke-width="0.5"/>
<clipPath id="cT2"><rect x="101.5" y="115.8" width="53.5" height="24.500000000000014"/></clipPath>
<g clip-path="url(#cT2)"><rect x="101.5" y="115.8" width="53.5" height="24.500000000000014" fill="#1a3c9c"/><g filter="url(#bl15)"><rect x="110" y="121" width="37" height="18" fill="#1e54bc"/><rect x="112" y="121.6" width="34" height="11.5" fill="#2c78dc"/></g><g filter="url(#bl1)"><rect x="114.8" y="115" width="30" height="6.6" fill="#0c2468"/><rect x="101" y="115" width="3" height="26" fill="#14358c"/><rect x="152.5" y="115" width="3" height="26" fill="#14358c"/><ellipse cx="110.5" cy="130.5" rx="1.3" ry="3" fill="#123080"/><ellipse cx="148" cy="130.5" rx="1.3" ry="3" fill="#123080"/></g></g>
<g stroke="#c8c0a0" stroke-width="0.85" fill="none"><circle cx="128" cy="127.2" r="1.5"/><line x1="123.4" y1="127.2" x2="126.5" y2="127.2"/><line x1="129.5" y1="127.2" x2="132.6" y2="127.2"/><line x1="128" y1="122.60000000000001" x2="128" y2="125.7"/><line x1="128" y1="128.7" x2="128" y2="131.8"/></g>
<clipPath id="cT3"><rect x="173.1" y="105.3" width="53.20000000000002" height="24.60000000000001"/></clipPath>
<g clip-path="url(#cT3)"><rect x="173.1" y="105.3" width="53.20000000000002" height="24.60000000000001" fill="#1a4eb0"/><g filter="url(#bl1)"><rect x="183.5" y="119" width="34" height="6" fill="#2a78dc"/><rect x="183.7" y="112" width="33.7" height="9.5" rx="2" fill="#48b84a"/><rect x="186" y="113" width="12" height="6" fill="#7ccc3a"/><rect x="202" y="113.5" width="9" height="5" fill="#5cc040"/><rect x="212.5" y="112.5" width="4" height="5.5" fill="#e8e030"/><ellipse cx="195.0" cy="113.8" rx="1.7" ry="0.7" fill="#30a868"/><ellipse cx="187.9" cy="117.5" rx="2.1" ry="0.9" fill="#9ad040"/><ellipse cx="198.4" cy="113.1" rx="0.9" ry="1.1" fill="#30a868"/><ellipse cx="188.8" cy="114.4" rx="1.7" ry="1.7" fill="#30a868"/><ellipse cx="203.2" cy="112.9" rx="1.1" ry="1.3" fill="#60c048"/><ellipse cx="194.0" cy="113.7" rx="1.0" ry="1.0" fill="#80c840"/><ellipse cx="190.6" cy="117.4" rx="1.7" ry="1.1" fill="#30a868"/><ellipse cx="207.1" cy="117.3" rx="1.7" ry="1.2" fill="#30a868"/><ellipse cx="198.3" cy="115.2" rx="1.6" ry="1.1" fill="#40b050"/><ellipse cx="192.7" cy="114.0" rx="1.9" ry="0.7" fill="#40b050"/><ellipse cx="201.3" cy="119.9" rx="1.8" ry="1.0" fill="#9ad040"/><ellipse cx="188.7" cy="116.1" rx="1.9" ry="0.8" fill="#b8d838"/><ellipse cx="198.1" cy="120.7" rx="0.9" ry="1.3" fill="#40b050"/><ellipse cx="195.5" cy="115.5" rx="1.5" ry="1.5" fill="#9ad040"/><ellipse cx="211.0" cy="120.5" rx="1.5" ry="1.4" fill="#9ad040"/><ellipse cx="207.7" cy="115.1" rx="1.6" ry="1.4" fill="#b8d838"/><ellipse cx="193.8" cy="115.8" rx="1.7" ry="0.7" fill="#b8d838"/><ellipse cx="196.0" cy="117.7" rx="1.5" ry="0.9" fill="#40b050"/><ellipse cx="189.0" cy="114.6" rx="1.3" ry="1.6" fill="#9ad040"/><ellipse cx="190.2" cy="115.9" rx="1.2" ry="0.8" fill="#b8d838"/><ellipse cx="211.8" cy="114.9" rx="1.4" ry="1.0" fill="#b8d838"/><ellipse cx="214.7" cy="113.8" rx="1.0" ry="0.9" fill="#60c048"/><ellipse cx="185.4" cy="119.6" rx="1.1" ry="1.0" fill="#60c048"/><ellipse cx="198.0" cy="115.6" rx="1.6" ry="1.7" fill="#80c840"/><ellipse cx="211.6" cy="120.6" rx="1.7" ry="1.5" fill="#b8d838"/><ellipse cx="212.9" cy="119.1" rx="2.0" ry="1.5" fill="#b8d838"/><ellipse cx="197.3" cy="115.9" rx="1.5" ry="1.1" fill="#60c048"/><ellipse cx="187.1" cy="114.3" rx="1.0" ry="1.0" fill="#9ad040"/><ellipse cx="188.2" cy="117.3" rx="1.6" ry="1.7" fill="#30a868"/><ellipse cx="185.8" cy="119.9" rx="1.7" ry="0.8" fill="#40b050"/><rect x="185.2" y="104" width="30" height="6.9" fill="#11307c"/><ellipse cx="180" cy="120" rx="1.3" ry="3" fill="#123080"/><ellipse cx="220" cy="120" rx="1.3" ry="3" fill="#123080"/></g><rect x="196" y="115.5" width="5" height="4.5" fill="#a89060" opacity="0.8"/></g>
<g stroke="#b09a70" stroke-width="0.5" fill="none"><circle cx="198.6" cy="117.8" r="1.4"/><line x1="194.79999999999998" y1="117.8" x2="197.2" y2="117.8"/><line x1="200.0" y1="117.8" x2="202.4" y2="117.8"/><line x1="198.6" y1="114.0" x2="198.6" y2="116.39999999999999"/><line x1="198.6" y1="119.2" x2="198.6" y2="121.6"/></g>
<clipPath id="cT4"><rect x="249.6" y="143.1" width="53.29999999999998" height="24.80000000000001"/></clipPath>
<g clip-path="url(#cT4)"><rect x="249.6" y="143.1" width="53.29999999999998" height="24.80000000000001" fill="#1a52b8"/><g filter="url(#bl1)"><rect x="258" y="156" width="37" height="7" rx="3" fill="#2a7ad8"/><rect x="259" y="149.2" width="35.5" height="12" rx="3" fill="#a8d030"/><rect x="259.5" y="149.3" width="35" height="10.5" rx="3" fill="#f0a020"/><rect x="260" y="149.4" width="33" height="9" rx="2" fill="#f03030"/><rect x="262.2" y="142" width="29.6" height="6.3" fill="#11307c"/><ellipse cx="291.6" cy="154.5" rx="1.5" ry="0.8" fill="#f86040"/><ellipse cx="292.8" cy="153.5" rx="1.5" ry="0.7" fill="#f03030"/><ellipse cx="285.0" cy="155.6" rx="1.5" ry="1.4" fill="#f07830"/><ellipse cx="261.7" cy="157.1" rx="1.5" ry="0.8" fill="#f07830"/><ellipse cx="290.3" cy="155.7" rx="1.2" ry="1.4" fill="#f03030"/><ellipse cx="283.3" cy="152.0" rx="1.3" ry="0.8" fill="#f04828"/><ellipse cx="278.0" cy="155.8" rx="1.3" ry="0.9" fill="#f04828"/><ellipse cx="286.8" cy="156.1" rx="1.8" ry="0.9" fill="#f07830"/><ellipse cx="276.8" cy="155.5" rx="2.2" ry="1.5" fill="#f86040"/><ellipse cx="269.3" cy="155.2" rx="2.1" ry="1.1" fill="#f8a0a0"/><ellipse cx="292.6" cy="157.2" rx="1.3" ry="0.9" fill="#f04828"/><ellipse cx="276.0" cy="152.5" rx="1.5" ry="1.7" fill="#f07830"/><ellipse cx="287.9" cy="153.6" rx="1.7" ry="1.5" fill="#f03030"/><ellipse cx="287.7" cy="150.9" rx="1.3" ry="1.4" fill="#f04828"/><ellipse cx="276.3" cy="151.3" rx="1.9" ry="1.0" fill="#f8a0a0"/><ellipse cx="273.7" cy="153.0" rx="2.1" ry="1.5" fill="#f04828"/><ellipse cx="292.8" cy="150.2" rx="1.6" ry="1.2" fill="#f8a0a0"/><ellipse cx="265.7" cy="156.2" rx="2.2" ry="1.4" fill="#e82838"/><ellipse cx="266.0" cy="154.1" rx="0.8" ry="1.5" fill="#f8a0a0"/><ellipse cx="281.8" cy="153.9" rx="2.1" ry="1.1" fill="#f04828"/><ellipse cx="287.4" cy="151.6" rx="1.2" ry="1.0" fill="#f04828"/><ellipse cx="285.4" cy="152.4" rx="1.6" ry="1.6" fill="#f03030"/><ellipse cx="290.1" cy="152.7" rx="1.4" ry="1.3" fill="#f07830"/><ellipse cx="274.5" cy="156.9" rx="1.5" ry="1.2" fill="#f07830"/><ellipse cx="277.3" cy="156.5" rx="1.9" ry="1.3" fill="#f04828"/><ellipse cx="266.5" cy="153.6" rx="1.8" ry="1.3" fill="#e82838"/><ellipse cx="282.8" cy="154.0" rx="1.5" ry="1.5" fill="#f07830"/><ellipse cx="262.8" cy="151.4" rx="0.9" ry="0.7" fill="#f86040"/><ellipse cx="279.0" cy="155.7" rx="2.1" ry="1.1" fill="#f07830"/><ellipse cx="292.1" cy="154.5" rx="1.1" ry="1.0" fill="#f07830"/><circle cx="290.7" cy="151.5" r="1.8" fill="#f8c8c8"/><ellipse cx="255.5" cy="157.5" rx="1.3" ry="3" fill="#123080"/><ellipse cx="298.5" cy="157.5" rx="1.3" ry="3" fill="#123080"/></g><rect x="272.5" y="151" width="6" height="6" fill="#d0c0b0" opacity="0.8"/></g>
<g stroke="#a09890" stroke-width="0.5" fill="none"><circle cx="275.6" cy="154.2" r="1.4"/><line x1="271.8" y1="154.2" x2="274.20000000000005" y2="154.2"/><line x1="277.0" y1="154.2" x2="279.40000000000003" y2="154.2"/><line x1="275.6" y1="150.39999999999998" x2="275.6" y2="152.79999999999998"/><line x1="275.6" y1="155.6" x2="275.6" y2="158.0"/></g>
<linearGradient id="gcb" x1="0" y1="0" x2="0" y2="1"><stop offset="0" stop-color="#fff4f0"/><stop offset="0.08" stop-color="#fcc8d0"/><stop offset="0.16" stop-color="#f04a70"/><stop offset="0.26" stop-color="#e81430"/><stop offset="0.37" stop-color="#f07418"/><stop offset="0.47" stop-color="#f2c400"/><stop offset="0.56" stop-color="#d4e020"/><stop offset="0.65" stop-color="#40c040"/><stop offset="0.74" stop-color="#14a0a0"/><stop offset="0.82" stop-color="#1a62c0"/><stop offset="0.91" stop-color="#2234a0"/><stop offset="1" stop-color="#14145a"/></linearGradient>
<rect x="305" y="106" width="5.6" height="61" fill="url(#gcb)" stroke="#222" stroke-width="0.6"/>
<text x="307.8" y="123.2" font-size="3.2" text-anchor="middle" font-weight="bold" fill="#f4f4f4" >65</text>
<text x="307.8" y="138.7" font-size="3.2" text-anchor="middle" font-weight="bold" fill="#f4f4f4" >50</text>
<text x="307.8" y="153.5" font-size="3.2" text-anchor="middle" font-weight="bold" fill="#f4f4f4" >35</text>
<text x="307.8" y="166.4" font-size="3.2" text-anchor="middle" font-weight="bold" fill="#f4f4f4" >20</text>
<text x="301.2" y="107.6" font-size="4.2" text-anchor="middle" font-weight="bold" fill="#111" >°C</text>
<clipPath id="cS"><rect x="28.4" y="194.2" width="275.0" height="59.10000000000002"/></clipPath>
<g clip-path="url(#cS)"><rect x="28.4" y="194.2" width="275.0" height="59.10000000000002" fill="#122a78"/>
<rect x="28.40" y="194.2" width="21.15" height="59.10000000000002" fill="#0e1f60"/>
<g filter="url(#bl1)">
<rect x="39.40" y="198.2" width="7" height="51.10000000000002" fill="#0b1850"/>
<rect x="33.40" y="246.5" width="9" height="3" fill="#0e2468"/>
</g>
<line x1="28.40" y1="194.2" x2="28.40" y2="253.3" stroke="#0c1c58" stroke-width="0.5"/>
<g stroke="#e4dccc" stroke-width="0.65" fill="none"><circle cx="37.5" cy="220.8" r="2.2"/><line x1="32.3" y1="220.8" x2="35.3" y2="220.8"/><line x1="39.7" y1="220.8" x2="42.7" y2="220.8"/><line x1="37.5" y1="215.60000000000002" x2="37.5" y2="218.60000000000002"/><line x1="37.5" y1="223.0" x2="37.5" y2="226.0"/></g>
<text x="48.0" y="252.2" font-size="3.9" text-anchor="end" font-weight="bold" fill="#f0f0f0" >0 s</text>
<rect x="49.55" y="194.2" width="21.15" height="59.10000000000002" fill="#1a3a98"/>
<g filter="url(#bl1)">
<linearGradient id="gs1" x1="0" y1="0" x2="0" y2="1"><stop offset="0" stop-color="#1c44a8"/><stop offset="0.7" stop-color="#1c44a8"/><stop offset="1" stop-color="#1c44a8"/></linearGradient>
<rect x="52.35" y="204.5" width="15.75" height="40.5" fill="url(#gs1)"/>
<rect x="54.55" y="246.5" width="9" height="3" fill="#0e2468"/>
</g>
<line x1="49.55" y1="194.2" x2="49.55" y2="253.3" stroke="#0c1c58" stroke-width="0.5"/>
<g stroke="#e4dccc" stroke-width="0.65" fill="none"><circle cx="60.4" cy="224.3" r="2.2"/><line x1="55.199999999999996" y1="224.3" x2="58.199999999999996" y2="224.3"/><line x1="62.6" y1="224.3" x2="65.6" y2="224.3"/><line x1="60.4" y1="219.10000000000002" x2="60.4" y2="222.10000000000002"/><line x1="60.4" y1="226.5" x2="60.4" y2="229.5"/></g>
<text x="69.1" y="252.2" font-size="3.9" text-anchor="end" font-weight="bold" fill="#f0f0f0" >2 s</text>
<rect x="70.71" y="194.2" width="21.15" height="59.10000000000002" fill="#1a3a98"/>
<g filter="url(#bl1)">
<linearGradient id="gs2" x1="0" y1="0" x2="0" y2="1"><stop offset="0" stop-color="#2256bc"/><stop offset="0.7" stop-color="#2256bc"/><stop offset="1" stop-color="#2256bc"/></linearGradient>
<rect x="73.51" y="204.5" width="15.75" height="40.5" fill="url(#gs2)"/>
<rect x="75.71" y="246.5" width="9" height="3" fill="#0e2468"/>
</g>
<line x1="91.86" y1="194.2" x2="91.86" y2="253.3" stroke="#8aa0d0" stroke-width="0.5"/>
<g stroke="#e4dccc" stroke-width="0.65" fill="none"><circle cx="81.6" cy="224.3" r="2.2"/><line x1="76.39999999999999" y1="224.3" x2="79.39999999999999" y2="224.3"/><line x1="83.8" y1="224.3" x2="86.8" y2="224.3"/><line x1="81.6" y1="219.10000000000002" x2="81.6" y2="222.10000000000002"/><line x1="81.6" y1="226.5" x2="81.6" y2="229.5"/></g>
<text x="90.3" y="252.2" font-size="3.9" text-anchor="end" font-weight="bold" fill="#f0f0f0" >4 s</text>
<rect x="91.86" y="194.2" width="21.15" height="59.10000000000002" fill="#1a42a8"/>
<g filter="url(#bl1)">
<linearGradient id="gs3" x1="0" y1="0" x2="0" y2="1"><stop offset="0" stop-color="#2a86d4"/><stop offset="0.7" stop-color="#2a86d4"/><stop offset="1" stop-color="#2a70c8"/></linearGradient>
<rect x="94.66" y="204.5" width="15.75" height="40.5" fill="url(#gs3)"/>
<ellipse cx="97.66" cy="207.5" rx="3" ry="2.2" fill="#50c060"/>
<rect x="96.86" y="246.5" width="9" height="3" fill="#0e2468"/>
</g>
<line x1="91.86" y1="194.2" x2="91.86" y2="253.3" stroke="#0c1c58" stroke-width="0.5"/>
<g stroke="#e4dccc" stroke-width="0.65" fill="none"><circle cx="102.7" cy="224.3" r="2.2"/><line x1="97.5" y1="224.3" x2="100.5" y2="224.3"/><line x1="104.9" y1="224.3" x2="107.9" y2="224.3"/><line x1="102.7" y1="219.10000000000002" x2="102.7" y2="222.10000000000002"/><line x1="102.7" y1="226.5" x2="102.7" y2="229.5"/></g>
<text x="111.4" y="252.2" font-size="3.9" text-anchor="end" font-weight="bold" fill="#f0f0f0" >9 s</text>
<rect x="113.02" y="194.2" width="21.15" height="59.10000000000002" fill="#1840a8"/>
<g filter="url(#bl1)">
<linearGradient id="gs4" x1="0" y1="0" x2="0" y2="1"><stop offset="0" stop-color="#34b08c"/><stop offset="0.7" stop-color="#34b08c"/><stop offset="1" stop-color="#2a7cc8"/></linearGradient>
<rect x="115.82" y="204.5" width="15.75" height="40.5" fill="url(#gs4)"/>
<rect x="117.32" y="219" width="12.75" height="14" rx="2" fill="#48c060"/>
<ellipse cx="122.9" cy="226.8" rx="2.1" ry="1.5" fill="#40b070"/>
<ellipse cx="118.7" cy="225.0" rx="1.7" ry="2.1" fill="#30a8a0"/>
<ellipse cx="122.9" cy="210.5" rx="1.6" ry="2.2" fill="#30a8a0"/>
<ellipse cx="125.2" cy="220.5" rx="1.4" ry="2.0" fill="#40b070"/>
<ellipse cx="125.6" cy="237.4" rx="0.9" ry="0.9" fill="#40b070"/>
<ellipse cx="125.3" cy="235.3" rx="1.3" ry="1.7" fill="#40b070"/>
<ellipse cx="124.0" cy="230.0" rx="1.5" ry="1.9" fill="#50b860"/>
<ellipse cx="126.1" cy="220.9" rx="1.6" ry="2.3" fill="#30a8a0"/>
<ellipse cx="127.0" cy="217.3" rx="1.1" ry="1.3" fill="#30a8a0"/>
<ellipse cx="124.7" cy="209.2" rx="1.0" ry="1.3" fill="#30a8a0"/>
<ellipse cx="130.9" cy="238.0" rx="0.8" ry="1.1" fill="#30a8a0"/>
<ellipse cx="123.2" cy="243.2" rx="1.4" ry="0.9" fill="#40b070"/>
<ellipse cx="128.1" cy="215.5" rx="0.9" ry="1.3" fill="#50b860"/>
<ellipse cx="127.8" cy="209.6" rx="1.1" ry="1.0" fill="#30a8a0"/>
<ellipse cx="123.1" cy="224.0" rx="1.8" ry="1.1" fill="#40b070"/>
<ellipse cx="131.3" cy="235.0" rx="1.4" ry="1.4" fill="#50b860"/>
<ellipse cx="122.4" cy="213.3" rx="1.2" ry="2.4" fill="#2890c8"/>
<ellipse cx="131.5" cy="205.8" rx="1.1" ry="2.4" fill="#30a8a0"/>
<ellipse cx="115.8" cy="207.6" rx="1.1" ry="2.9" fill="#1840a8"/>
<ellipse cx="131.6" cy="206.4" rx="1.6" ry="3.7" fill="#1840a8"/>
<ellipse cx="115.8" cy="220.7" rx="1.1" ry="2.4" fill="#1840a8"/>
<ellipse cx="131.6" cy="230.2" rx="1.0" ry="2.7" fill="#1840a8"/>
<ellipse cx="115.8" cy="229.6" rx="1.1" ry="3.2" fill="#1840a8"/>
<ellipse cx="131.6" cy="237.6" rx="1.1" ry="2.8" fill="#1840a8"/>
<ellipse cx="118.82" cy="207.5" rx="3" ry="2.2" fill="#a0d040"/>
<rect x="118.02" y="246.5" width="9" height="3" fill="#0e2468"/>
<rect x="117.52" y="196.8" width="10" height="4" fill="#0f2a70"/>
</g>
<line x1="113.02" y1="194.2" x2="113.02" y2="253.3" stroke="#0c1c58" stroke-width="0.5"/>
<g stroke="#e4dccc" stroke-width="0.65" fill="none"><circle cx="123.9" cy="224.3" r="2.2"/><line x1="118.7" y1="224.3" x2="121.7" y2="224.3"/><line x1="126.10000000000001" y1="224.3" x2="129.1" y2="224.3"/><line x1="123.9" y1="219.10000000000002" x2="123.9" y2="222.10000000000002"/><line x1="123.9" y1="226.5" x2="123.9" y2="229.5"/></g>
<text x="132.6" y="252.2" font-size="3.9" text-anchor="end" font-weight="bold" fill="#f0f0f0" >28 s</text>
<rect x="134.17" y="194.2" width="21.15" height="59.10000000000002" fill="#1a44b0"/>
<g filter="url(#bl1)">
<linearGradient id="gs5" x1="0" y1="0" x2="0" y2="1"><stop offset="0" stop-color="#48c040"/><stop offset="0.7" stop-color="#48c040"/><stop offset="1" stop-color="#30a088"/></linearGradient>
<rect x="136.97" y="204.5" width="15.75" height="40.5" fill="url(#gs5)"/>
<rect x="138.47" y="219" width="12.75" height="14" rx="2" fill="#d0d830"/>
<ellipse cx="146.9" cy="217.1" rx="1.1" ry="1.8" fill="#80c838"/>
<ellipse cx="139.5" cy="229.5" rx="1.6" ry="1.9" fill="#a0d030"/>
<ellipse cx="150.9" cy="228.5" rx="1.4" ry="1.0" fill="#50c040"/>
<ellipse cx="145.0" cy="215.0" rx="1.8" ry="1.4" fill="#a0d030"/>
<ellipse cx="149.9" cy="228.3" rx="1.2" ry="1.1" fill="#50c040"/>
<ellipse cx="139.0" cy="223.7" rx="1.7" ry="1.8" fill="#50c040"/>
<ellipse cx="141.4" cy="240.8" rx="1.1" ry="0.8" fill="#38b050"/>
<ellipse cx="143.5" cy="214.7" rx="0.9" ry="1.3" fill="#80c838"/>
<ellipse cx="138.4" cy="210.4" rx="1.4" ry="1.3" fill="#80c838"/>
<ellipse cx="146.3" cy="241.0" rx="1.5" ry="1.4" fill="#38b050"/>
<ellipse cx="152.1" cy="205.8" rx="1.7" ry="1.6" fill="#38b050"/>
<ellipse cx="142.0" cy="244.0" rx="0.9" ry="1.7" fill="#50c040"/>
<ellipse cx="151.2" cy="233.7" rx="1.8" ry="2.1" fill="#38b050"/>
<ellipse cx="142.5" cy="231.7" rx="2.1" ry="2.2" fill="#a0d030"/>
<ellipse cx="151.8" cy="206.2" rx="1.5" ry="0.8" fill="#a0d030"/>
<ellipse cx="142.9" cy="205.5" rx="0.9" ry="0.9" fill="#50c040"/>
<ellipse cx="152.6" cy="239.3" rx="1.8" ry="1.4" fill="#a0d030"/>
<ellipse cx="143.9" cy="237.7" rx="0.9" ry="2.0" fill="#50c040"/>
<ellipse cx="137.0" cy="217.8" rx="1.1" ry="2.0" fill="#1a44b0"/>
<ellipse cx="152.7" cy="242.4" rx="1.1" ry="3.6" fill="#1a44b0"/>
<ellipse cx="137.0" cy="231.1" rx="1.5" ry="3.8" fill="#1a44b0"/>
<ellipse cx="152.7" cy="220.0" rx="1.1" ry="3.2" fill="#1a44b0"/>
<ellipse cx="137.0" cy="225.7" rx="1.8" ry="2.7" fill="#1a44b0"/>
<ellipse cx="152.7" cy="241.4" rx="1.5" ry="2.5" fill="#1a44b0"/>
<ellipse cx="139.97" cy="207.5" rx="3" ry="2.2" fill="#d8e030"/>
<rect x="139.17" y="246.5" width="9" height="3" fill="#0e2468"/>
<rect x="138.67" y="196.8" width="10" height="4" fill="#0f2a70"/>
</g>
<line x1="155.32" y1="194.2" x2="155.32" y2="253.3" stroke="#8aa0d0" stroke-width="0.5"/>
<rect x="142.4" y="221.7" width="5.2" height="5.2" fill="#b0a070" opacity="0.7"/>
<g stroke="#605838" stroke-width="0.6" fill="none"><circle cx="145.0" cy="224.3" r="2.0"/><line x1="140.0" y1="224.3" x2="143.0" y2="224.3"/><line x1="147.0" y1="224.3" x2="150.0" y2="224.3"/><line x1="145.0" y1="219.3" x2="145.0" y2="222.3"/><line x1="145.0" y1="226.3" x2="145.0" y2="229.3"/></g>
<text x="153.7" y="252.2" font-size="3.9" text-anchor="end" font-weight="bold" fill="#f0f0f0" >55 s</text>
<rect x="155.32" y="194.2" width="21.15" height="59.10000000000002" fill="#1a46b2"/>
<g filter="url(#bl1)">
<linearGradient id="gs6" x1="0" y1="0" x2="0" y2="1"><stop offset="0" stop-color="#40bc40"/><stop offset="0.7" stop-color="#40bc40"/><stop offset="1" stop-color="#40b060"/></linearGradient>
<rect x="158.12" y="204.5" width="15.75" height="40.5" fill="url(#gs6)"/>
<rect x="159.62" y="219" width="12.75" height="14" rx="2" fill="#c8d030"/>
<ellipse cx="164.5" cy="214.8" rx="1.7" ry="2.1" fill="#70c440"/>
<ellipse cx="172.0" cy="220.0" rx="1.6" ry="1.3" fill="#70c440"/>
<ellipse cx="160.2" cy="218.7" rx="2.1" ry="0.9" fill="#40bc40"/>
<ellipse cx="173.1" cy="215.8" rx="1.0" ry="1.5" fill="#30a860"/>
<ellipse cx="172.7" cy="237.4" rx="1.3" ry="1.6" fill="#30a860"/>
<ellipse cx="169.4" cy="237.8" rx="1.7" ry="1.3" fill="#40bc40"/>
<ellipse cx="162.5" cy="228.7" rx="1.7" ry="1.2" fill="#30a860"/>
<ellipse cx="163.0" cy="235.9" rx="0.8" ry="1.0" fill="#a0cc38"/>
<ellipse cx="161.1" cy="235.0" rx="1.2" ry="2.0" fill="#40bc40"/>
<ellipse cx="173.6" cy="209.5" rx="1.0" ry="1.7" fill="#30a860"/>
<ellipse cx="173.2" cy="231.7" rx="1.1" ry="1.6" fill="#70c440"/>
<ellipse cx="169.4" cy="234.4" rx="1.5" ry="0.9" fill="#70c440"/>
<ellipse cx="162.4" cy="218.5" rx="1.8" ry="1.6" fill="#70c440"/>
<ellipse cx="164.3" cy="235.9" rx="2.1" ry="0.9" fill="#a0cc38"/>
<ellipse cx="160.2" cy="222.7" rx="1.7" ry="2.3" fill="#a0cc38"/>
<ellipse cx="166.8" cy="230.5" rx="1.5" ry="2.1" fill="#30a860"/>
<ellipse cx="165.4" cy="230.4" rx="1.1" ry="2.0" fill="#40bc40"/>
<ellipse cx="161.5" cy="240.1" rx="2.2" ry="2.4" fill="#30a860"/>
<ellipse cx="158.1" cy="216.0" rx="1.7" ry="2.0" fill="#1a46b2"/>
<ellipse cx="173.9" cy="225.2" rx="1.0" ry="2.7" fill="#1a46b2"/>
<ellipse cx="158.1" cy="222.0" rx="1.3" ry="3.8" fill="#1a46b2"/>
<ellipse cx="173.9" cy="214.3" rx="1.9" ry="2.9" fill="#1a46b2"/>
<ellipse cx="158.1" cy="207.3" rx="1.5" ry="3.4" fill="#1a46b2"/>
<ellipse cx="173.9" cy="240.8" rx="1.5" ry="4.0" fill="#1a46b2"/>
<ellipse cx="161.12" cy="207.5" rx="3" ry="2.2" fill="#a0d040"/>
<rect x="160.32" y="246.5" width="9" height="3" fill="#0e2468"/>
<rect x="159.82" y="196.8" width="10" height="4" fill="#0f2a70"/>
</g>
<line x1="155.32" y1="194.2" x2="155.32" y2="253.3" stroke="#0c1c58" stroke-width="0.5"/>
<rect x="163.6" y="221.7" width="5.2" height="5.2" fill="#b0a070" opacity="0.7"/>
<g stroke="#605838" stroke-width="0.6" fill="none"><circle cx="166.2" cy="224.3" r="2.0"/><line x1="161.2" y1="224.3" x2="164.2" y2="224.3"/><line x1="168.2" y1="224.3" x2="171.2" y2="224.3"/><line x1="166.2" y1="219.3" x2="166.2" y2="222.3"/><line x1="166.2" y1="226.3" x2="166.2" y2="229.3"/></g>
<text x="174.9" y="252.2" font-size="3.9" text-anchor="end" font-weight="bold" fill="#f0f0f0" >67 s</text>
<rect x="176.48" y="194.2" width="21.15" height="59.10000000000002" fill="#1a46b2"/>
<g filter="url(#bl1)">
<linearGradient id="gs7" x1="0" y1="0" x2="0" y2="1"><stop offset="0" stop-color="#e8c820"/><stop offset="0.7" stop-color="#e8c820"/><stop offset="1" stop-color="#60c048"/></linearGradient>
<rect x="179.28" y="204.5" width="15.75" height="40.5" fill="url(#gs7)"/>
<rect x="180.78" y="219" width="12.75" height="14" rx="2" fill="#f09020"/>
<ellipse cx="193.5" cy="225.2" rx="1.7" ry="1.5" fill="#c8d030"/>
<ellipse cx="188.4" cy="231.9" rx="1.9" ry="1.5" fill="#f0a828"/>
<ellipse cx="192.4" cy="226.9" rx="1.0" ry="1.6" fill="#f0a828"/>
<ellipse cx="184.2" cy="219.9" rx="2.0" ry="2.2" fill="#e8d028"/>
<ellipse cx="184.1" cy="210.5" rx="1.6" ry="1.2" fill="#c8d030"/>
<ellipse cx="182.4" cy="225.9" rx="1.5" ry="1.8" fill="#f0c020"/>
<ellipse cx="187.8" cy="206.7" rx="2.1" ry="1.7" fill="#f0c020"/>
<ellipse cx="187.0" cy="231.9" rx="0.9" ry="1.7" fill="#c8d030"/>
<ellipse cx="193.8" cy="236.2" rx="1.4" ry="1.2" fill="#c8d030"/>
<ellipse cx="181.3" cy="221.9" rx="1.9" ry="2.2" fill="#c8d030"/>
<ellipse cx="187.5" cy="209.2" rx="1.4" ry="0.8" fill="#f0a828"/>
<ellipse cx="181.3" cy="235.4" rx="0.8" ry="1.1" fill="#e8d028"/>
<ellipse cx="179.5" cy="216.1" rx="1.8" ry="1.2" fill="#c8d030"/>
<ellipse cx="180.9" cy="233.5" rx="1.0" ry="1.6" fill="#f0a828"/>
<ellipse cx="190.6" cy="232.4" rx="2.0" ry="0.8" fill="#c8d030"/>
<ellipse cx="192.3" cy="229.0" rx="1.6" ry="2.2" fill="#e8d028"/>
<ellipse cx="187.6" cy="238.2" rx="1.7" ry="2.2" fill="#e8d028"/>
<ellipse cx="193.7" cy="229.5" rx="1.3" ry="1.1" fill="#f0a828"/>
<ellipse cx="179.3" cy="239.8" rx="1.2" ry="3.6" fill="#1a46b2"/>
<ellipse cx="195.0" cy="213.4" rx="1.1" ry="3.8" fill="#1a46b2"/>
<ellipse cx="179.3" cy="211.0" rx="1.1" ry="2.8" fill="#1a46b2"/>
<ellipse cx="195.0" cy="222.5" rx="1.9" ry="3.1" fill="#1a46b2"/>
<ellipse cx="179.3" cy="232.8" rx="1.2" ry="3.3" fill="#1a46b2"/>
<ellipse cx="195.0" cy="236.4" rx="1.1" ry="3.1" fill="#1a46b2"/>
<ellipse cx="182.28" cy="207.5" rx="3" ry="2.2" fill="#f0a020"/>
<rect x="181.48" y="246.5" width="9" height="3" fill="#0e2468"/>
<rect x="180.98" y="196.8" width="10" height="4" fill="#0f2a70"/>
</g>
<line x1="176.48" y1="194.2" x2="176.48" y2="253.3" stroke="#0c1c58" stroke-width="0.5"/>
<rect x="184.8" y="221.7" width="5.2" height="5.2" fill="#b0a070" opacity="0.7"/>
<g stroke="#605838" stroke-width="0.6" fill="none"><circle cx="187.4" cy="224.3" r="2.0"/><line x1="182.4" y1="224.3" x2="185.4" y2="224.3"/><line x1="189.4" y1="224.3" x2="192.4" y2="224.3"/><line x1="187.4" y1="219.3" x2="187.4" y2="222.3"/><line x1="187.4" y1="226.3" x2="187.4" y2="229.3"/></g>
<text x="196.0" y="252.2" font-size="3.9" text-anchor="end" font-weight="bold" fill="#f0f0f0" >73 s</text>
<rect x="197.63" y="194.2" width="21.15" height="59.10000000000002" fill="#1a46b2"/>
<g filter="url(#bl1)">
<linearGradient id="gs8" x1="0" y1="0" x2="0" y2="1"><stop offset="0" stop-color="#b8d030"/><stop offset="0.7" stop-color="#b8d030"/><stop offset="1" stop-color="#80c840"/></linearGradient>
<rect x="200.43" y="204.5" width="15.75" height="40.5" fill="url(#gs8)"/>
<rect x="201.93" y="219" width="12.75" height="14" rx="2" fill="#e0d020"/>
<ellipse cx="206.1" cy="237.0" rx="1.3" ry="1.9" fill="#e0d020"/>
<ellipse cx="208.4" cy="231.7" rx="1.1" ry="0.9" fill="#c0d030"/>
<ellipse cx="200.8" cy="234.7" rx="1.7" ry="2.2" fill="#80c840"/>
<ellipse cx="202.7" cy="212.2" rx="1.1" ry="2.1" fill="#e0d020"/>
<ellipse cx="215.0" cy="208.7" rx="0.9" ry="2.3" fill="#80c840"/>
<ellipse cx="201.7" cy="208.8" rx="1.3" ry="1.5" fill="#e0d020"/>
<ellipse cx="207.2" cy="228.4" rx="0.8" ry="1.9" fill="#a8cc30"/>
<ellipse cx="203.3" cy="222.7" rx="1.8" ry="1.4" fill="#a8cc30"/>
<ellipse cx="210.0" cy="208.7" rx="1.9" ry="1.3" fill="#c0d030"/>
<ellipse cx="213.1" cy="232.5" rx="2.0" ry="1.8" fill="#80c840"/>
<ellipse cx="209.4" cy="212.4" rx="1.6" ry="1.3" fill="#e0d020"/>
<ellipse cx="204.8" cy="209.5" rx="1.8" ry="1.1" fill="#80c840"/>
<ellipse cx="202.5" cy="217.9" rx="1.6" ry="1.4" fill="#80c840"/>
<ellipse cx="212.5" cy="220.8" rx="1.8" ry="0.9" fill="#e0d020"/>
<ellipse cx="205.2" cy="208.9" rx="2.0" ry="2.4" fill="#c0d030"/>
<ellipse cx="204.1" cy="241.8" rx="1.7" ry="1.3" fill="#80c840"/>
<ellipse cx="209.4" cy="225.8" rx="1.3" ry="2.4" fill="#a8cc30"/>
<ellipse cx="211.5" cy="234.7" rx="2.2" ry="0.8" fill="#c0d030"/>
<ellipse cx="200.4" cy="234.1" rx="1.3" ry="2.8" fill="#1a46b2"/>
<ellipse cx="216.2" cy="207.9" rx="1.2" ry="2.8" fill="#1a46b2"/>
<ellipse cx="200.4" cy="209.7" rx="1.3" ry="3.8" fill="#1a46b2"/>
<ellipse cx="216.2" cy="226.9" rx="1.5" ry="3.9" fill="#1a46b2"/>
<ellipse cx="200.4" cy="227.6" rx="2.0" ry="3.3" fill="#1a46b2"/>
<ellipse cx="216.2" cy="236.8" rx="1.1" ry="3.2" fill="#1a46b2"/>
<ellipse cx="203.43" cy="207.5" rx="3" ry="2.2" fill="#f09020"/>
<rect x="202.63" y="246.5" width="9" height="3" fill="#0e2468"/>
<rect x="202.13" y="196.8" width="10" height="4" fill="#0f2a70"/>
</g>
<line x1="197.63" y1="194.2" x2="197.63" y2="253.3" stroke="#0c1c58" stroke-width="0.5"/>
<rect x="205.9" y="221.7" width="5.2" height="5.2" fill="#b0a070" opacity="0.7"/>
<g stroke="#605838" stroke-width="0.6" fill="none"><circle cx="208.5" cy="224.3" r="2.0"/><line x1="203.5" y1="224.3" x2="206.5" y2="224.3"/><line x1="210.5" y1="224.3" x2="213.5" y2="224.3"/><line x1="208.5" y1="219.3" x2="208.5" y2="222.3"/><line x1="208.5" y1="226.3" x2="208.5" y2="229.3"/></g>
<text x="217.2" y="252.2" font-size="3.9" text-anchor="end" font-weight="bold" fill="#f0f0f0" >87 s</text>
<rect x="218.78" y="194.2" width="21.15" height="59.10000000000002" fill="#1a46b2"/>
<g filter="url(#bl1)">
<linearGradient id="gs9" x1="0" y1="0" x2="0" y2="1"><stop offset="0" stop-color="#a8cc30"/><stop offset="0.7" stop-color="#a8cc30"/><stop offset="1" stop-color="#70c040"/></linearGradient>
<rect x="221.58" y="204.5" width="15.75" height="40.5" fill="url(#gs9)"/>
<rect x="223.08" y="219" width="12.75" height="14" rx="2" fill="#e0d020"/>
<ellipse cx="233.5" cy="206.8" rx="2.1" ry="1.1" fill="#60c040"/>
<ellipse cx="236.9" cy="238.4" rx="1.6" ry="1.8" fill="#60c040"/>
<ellipse cx="236.5" cy="221.4" rx="1.5" ry="1.8" fill="#d8d020"/>
<ellipse cx="229.9" cy="223.8" rx="1.2" ry="2.3" fill="#d8d020"/>
<ellipse cx="222.0" cy="235.1" rx="1.6" ry="1.8" fill="#60c040"/>
<ellipse cx="233.5" cy="220.2" rx="2.1" ry="2.0" fill="#a8cc30"/>
<ellipse cx="230.7" cy="233.2" rx="1.2" ry="2.1" fill="#80c840"/>
<ellipse cx="228.4" cy="223.6" rx="2.2" ry="1.2" fill="#a8cc30"/>
<ellipse cx="236.4" cy="233.2" rx="1.5" ry="2.4" fill="#80c840"/>
<ellipse cx="231.1" cy="209.5" rx="1.7" ry="1.5" fill="#80c840"/>
<ellipse cx="235.2" cy="218.9" rx="1.0" ry="1.4" fill="#80c840"/>
<ellipse cx="232.1" cy="222.8" rx="1.2" ry="1.7" fill="#60c040"/>
<ellipse cx="227.3" cy="234.0" rx="1.9" ry="1.0" fill="#d8d020"/>
<ellipse cx="233.2" cy="214.3" rx="1.0" ry="2.2" fill="#d8d020"/>
<ellipse cx="225.9" cy="228.8" rx="1.8" ry="1.9" fill="#80c840"/>
<ellipse cx="231.6" cy="234.4" rx="1.1" ry="1.2" fill="#80c840"/>
<ellipse cx="235.4" cy="206.5" rx="0.9" ry="1.2" fill="#60c040"/>
<ellipse cx="222.0" cy="206.5" rx="1.1" ry="1.2" fill="#a8cc30"/>
<ellipse cx="221.6" cy="240.7" rx="1.2" ry="2.5" fill="#1a46b2"/>
<ellipse cx="237.3" cy="243.3" rx="1.5" ry="2.7" fill="#1a46b2"/>
<ellipse cx="221.6" cy="218.9" rx="1.5" ry="2.3" fill="#1a46b2"/>
<ellipse cx="237.3" cy="239.0" rx="1.8" ry="2.9" fill="#1a46b2"/>
<ellipse cx="221.6" cy="237.2" rx="1.8" ry="3.5" fill="#1a46b2"/>
<ellipse cx="237.3" cy="222.9" rx="1.7" ry="2.8" fill="#1a46b2"/>
<ellipse cx="224.58" cy="207.5" rx="3" ry="2.2" fill="#f08020"/>
<rect x="223.78" y="246.5" width="9" height="3" fill="#0e2468"/>
<rect x="223.28" y="196.8" width="10" height="4" fill="#0f2a70"/>
</g>
<line x1="218.78" y1="194.2" x2="218.78" y2="253.3" stroke="#0c1c58" stroke-width="0.5"/>
<rect x="227.1" y="221.7" width="5.2" height="5.2" fill="#b0a070" opacity="0.7"/>
<g stroke="#605838" stroke-width="0.6" fill="none"><circle cx="229.7" cy="224.3" r="2.0"/><line x1="224.7" y1="224.3" x2="227.7" y2="224.3"/><line x1="231.7" y1="224.3" x2="234.7" y2="224.3"/><line x1="229.7" y1="219.3" x2="229.7" y2="222.3"/><line x1="229.7" y1="226.3" x2="229.7" y2="229.3"/></g>
<text x="238.3" y="252.2" font-size="3.9" text-anchor="end" font-weight="bold" fill="#f0f0f0" >600 s</text>
<rect x="239.94" y="194.2" width="21.15" height="59.10000000000002" fill="#1a46b2"/>
<g filter="url(#bl1)">
<linearGradient id="gs10" x1="0" y1="0" x2="0" y2="1"><stop offset="0" stop-color="#60c040"/><stop offset="0.7" stop-color="#60c040"/><stop offset="1" stop-color="#60c040"/></linearGradient>
<rect x="242.74" y="204.5" width="15.75" height="40.5" fill="url(#gs10)"/>
<rect x="244.24" y="219" width="12.75" height="14" rx="2" fill="#b8d030"/>
<ellipse cx="245.1" cy="211.0" rx="2.0" ry="1.8" fill="#90cc38"/>
<ellipse cx="251.4" cy="234.1" rx="2.1" ry="1.5" fill="#90cc38"/>
<ellipse cx="251.9" cy="223.0" rx="1.3" ry="1.7" fill="#38a870"/>
<ellipse cx="251.6" cy="223.9" rx="1.8" ry="1.3" fill="#60c040"/>
<ellipse cx="243.9" cy="213.3" rx="1.7" ry="0.9" fill="#90cc38"/>
<ellipse cx="250.5" cy="234.8" rx="1.3" ry="2.2" fill="#40b850"/>
<ellipse cx="248.4" cy="233.3" rx="1.3" ry="1.0" fill="#38a870"/>
<ellipse cx="251.7" cy="240.8" rx="2.1" ry="2.3" fill="#38a870"/>
<ellipse cx="251.1" cy="243.7" rx="1.4" ry="1.2" fill="#40b850"/>
<ellipse cx="244.1" cy="237.3" rx="0.8" ry="1.9" fill="#38a870"/>
<ellipse cx="255.3" cy="233.8" rx="1.3" ry="1.4" fill="#40b850"/>
<ellipse cx="255.9" cy="226.9" rx="1.0" ry="2.0" fill="#90cc38"/>
<ellipse cx="255.5" cy="213.6" rx="0.9" ry="1.1" fill="#90cc38"/>
<ellipse cx="258.0" cy="230.4" rx="1.9" ry="0.9" fill="#90cc38"/>
<ellipse cx="255.2" cy="208.3" rx="0.9" ry="2.0" fill="#90cc38"/>
<ellipse cx="244.1" cy="229.7" rx="1.0" ry="2.0" fill="#38a870"/>
<ellipse cx="246.6" cy="213.6" rx="1.9" ry="1.6" fill="#38a870"/>
<ellipse cx="249.0" cy="218.2" rx="2.2" ry="1.9" fill="#38a870"/>
<ellipse cx="242.7" cy="224.5" rx="1.8" ry="2.1" fill="#1a46b2"/>
<ellipse cx="258.5" cy="229.5" rx="1.0" ry="3.5" fill="#1a46b2"/>
<ellipse cx="242.7" cy="243.5" rx="1.3" ry="2.0" fill="#1a46b2"/>
<ellipse cx="258.5" cy="220.4" rx="1.1" ry="2.9" fill="#1a46b2"/>
<ellipse cx="242.7" cy="226.6" rx="1.0" ry="2.7" fill="#1a46b2"/>
<ellipse cx="258.5" cy="206.4" rx="1.1" ry="3.8" fill="#1a46b2"/>
<ellipse cx="245.74" cy="207.5" rx="3" ry="2.2" fill="#f02020"/>
<rect x="244.94" y="246.5" width="9" height="3" fill="#0e2468"/>
<rect x="244.44" y="196.8" width="10" height="4" fill="#0f2a70"/>
</g>
<line x1="261.09" y1="194.2" x2="261.09" y2="253.3" stroke="#8aa0d0" stroke-width="0.5"/>
<rect x="248.2" y="221.7" width="5.2" height="5.2" fill="#b0a070" opacity="0.7"/>
<g stroke="#605838" stroke-width="0.6" fill="none"><circle cx="250.8" cy="224.3" r="2.0"/><line x1="245.8" y1="224.3" x2="248.8" y2="224.3"/><line x1="252.8" y1="224.3" x2="255.8" y2="224.3"/><line x1="250.8" y1="219.3" x2="250.8" y2="222.3"/><line x1="250.8" y1="226.3" x2="250.8" y2="229.3"/></g>
<text x="259.5" y="252.2" font-size="3.9" text-anchor="end" font-weight="bold" fill="#f0f0f0" >1200 s</text>
<rect x="261.09" y="194.2" width="21.15" height="59.10000000000002" fill="#1a46b2"/>
<g filter="url(#bl1)">
<linearGradient id="gs11" x1="0" y1="0" x2="0" y2="1"><stop offset="0" stop-color="#80c838"/><stop offset="0.7" stop-color="#80c838"/><stop offset="1" stop-color="#70c440"/></linearGradient>
<rect x="263.89" y="204.5" width="15.75" height="40.5" fill="url(#gs11)"/>
<rect x="265.39" y="219" width="12.75" height="14" rx="2" fill="#e8d020"/>
<ellipse cx="278.3" cy="214.6" rx="1.0" ry="1.8" fill="#60c040"/>
<ellipse cx="268.9" cy="220.2" rx="1.5" ry="1.2" fill="#80c838"/>
<ellipse cx="271.3" cy="233.5" rx="1.2" ry="1.0" fill="#60c040"/>
<ellipse cx="278.3" cy="234.4" rx="0.8" ry="1.6" fill="#80c838"/>
<ellipse cx="268.8" cy="212.7" rx="1.3" ry="1.7" fill="#40b050"/>
<ellipse cx="273.3" cy="213.7" rx="1.1" ry="1.2" fill="#60c040"/>
<ellipse cx="278.2" cy="241.6" rx="1.7" ry="2.3" fill="#40b050"/>
<ellipse cx="277.3" cy="223.9" rx="1.4" ry="2.3" fill="#80c838"/>
<ellipse cx="271.5" cy="213.6" rx="0.9" ry="2.3" fill="#40b050"/>
<ellipse cx="279.3" cy="236.0" rx="1.9" ry="2.1" fill="#80c838"/>
<ellipse cx="274.3" cy="214.3" rx="0.8" ry="1.6" fill="#c8d028"/>
<ellipse cx="271.0" cy="214.6" rx="1.4" ry="2.2" fill="#40b050"/>
<ellipse cx="266.4" cy="217.6" rx="1.2" ry="2.2" fill="#60c040"/>
<ellipse cx="273.9" cy="243.7" rx="1.2" ry="1.7" fill="#60c040"/>
<ellipse cx="272.9" cy="212.0" rx="1.1" ry="2.3" fill="#60c040"/>
<ellipse cx="276.8" cy="208.2" rx="1.2" ry="1.9" fill="#80c838"/>
<ellipse cx="277.9" cy="232.1" rx="0.9" ry="2.0" fill="#c8d028"/>
<ellipse cx="264.2" cy="212.3" rx="1.1" ry="1.9" fill="#40b050"/>
<ellipse cx="263.9" cy="213.9" rx="1.5" ry="3.1" fill="#1a46b2"/>
<ellipse cx="279.6" cy="212.0" rx="1.8" ry="2.6" fill="#1a46b2"/>
<ellipse cx="263.9" cy="217.8" rx="1.1" ry="2.6" fill="#1a46b2"/>
<ellipse cx="279.6" cy="223.8" rx="1.7" ry="2.7" fill="#1a46b2"/>
<ellipse cx="263.9" cy="232.1" rx="1.1" ry="2.8" fill="#1a46b2"/>
<ellipse cx="279.6" cy="223.5" rx="2.0" ry="3.7" fill="#1a46b2"/>
<ellipse cx="266.89" cy="207.5" rx="3" ry="2.2" fill="#f02020"/>
<rect x="266.09" y="246.5" width="9" height="3" fill="#0e2468"/>
<rect x="265.59" y="196.8" width="10" height="4" fill="#0f2a70"/>
</g>
<line x1="261.09" y1="194.2" x2="261.09" y2="253.3" stroke="#0c1c58" stroke-width="0.5"/>
<rect x="269.4" y="221.7" width="5.2" height="5.2" fill="#b0a070" opacity="0.7"/>
<g stroke="#605838" stroke-width="0.6" fill="none"><circle cx="272.0" cy="224.3" r="2.0"/><line x1="267.0" y1="224.3" x2="270.0" y2="224.3"/><line x1="274.0" y1="224.3" x2="277.0" y2="224.3"/><line x1="272.0" y1="219.3" x2="272.0" y2="222.3"/><line x1="272.0" y1="226.3" x2="272.0" y2="229.3"/></g>
<text x="280.6" y="252.2" font-size="3.9" text-anchor="end" font-weight="bold" fill="#f0f0f0" >2400 s</text>
<rect x="282.25" y="194.2" width="21.15" height="59.10000000000002" fill="#1a46b2"/>
<g filter="url(#bl1)">
<linearGradient id="gs12" x1="0" y1="0" x2="0" y2="1"><stop offset="0" stop-color="#90cc38"/><stop offset="0.7" stop-color="#90cc38"/><stop offset="1" stop-color="#70c440"/></linearGradient>
<rect x="285.05" y="204.5" width="15.75" height="40.5" fill="url(#gs12)"/>
<rect x="286.55" y="219" width="12.75" height="14" rx="2" fill="#d0d030"/>
<ellipse cx="295.3" cy="205.5" rx="1.3" ry="1.9" fill="#60c040"/>
<ellipse cx="289.7" cy="209.4" rx="1.9" ry="2.2" fill="#60c040"/>
<ellipse cx="299.2" cy="210.9" rx="1.7" ry="2.3" fill="#b8d030"/>
<ellipse cx="300.1" cy="234.4" rx="1.6" ry="0.9" fill="#60c040"/>
<ellipse cx="288.2" cy="233.5" rx="1.3" ry="2.3" fill="#48b848"/>
<ellipse cx="296.4" cy="217.9" rx="2.0" ry="0.9" fill="#60c040"/>
<ellipse cx="294.8" cy="210.1" rx="1.7" ry="1.1" fill="#60c040"/>
<ellipse cx="291.4" cy="237.6" rx="1.6" ry="0.9" fill="#60c040"/>
<ellipse cx="285.6" cy="243.5" rx="1.4" ry="2.0" fill="#b8d030"/>
<ellipse cx="299.5" cy="221.7" rx="1.5" ry="1.8" fill="#60c040"/>
<ellipse cx="298.0" cy="220.1" rx="1.3" ry="1.5" fill="#90cc38"/>
<ellipse cx="296.5" cy="228.9" rx="1.2" ry="2.1" fill="#60c040"/>
<ellipse cx="295.4" cy="228.7" rx="0.8" ry="1.3" fill="#b8d030"/>
<ellipse cx="289.9" cy="222.2" rx="1.6" ry="1.1" fill="#b8d030"/>
<ellipse cx="297.5" cy="237.2" rx="1.7" ry="1.1" fill="#b8d030"/>
<ellipse cx="293.7" cy="218.7" rx="1.5" ry="1.0" fill="#60c040"/>
<ellipse cx="300.6" cy="225.1" rx="1.8" ry="2.1" fill="#60c040"/>
<ellipse cx="294.0" cy="206.0" rx="1.7" ry="2.0" fill="#60c040"/>
<ellipse cx="285.0" cy="215.3" rx="1.6" ry="3.4" fill="#1a46b2"/>
<ellipse cx="300.8" cy="218.5" rx="1.9" ry="2.7" fill="#1a46b2"/>
<ellipse cx="285.0" cy="223.6" rx="1.1" ry="3.9" fill="#1a46b2"/>
<ellipse cx="300.8" cy="211.2" rx="1.9" ry="3.1" fill="#1a46b2"/>
<ellipse cx="285.0" cy="227.3" rx="1.6" ry="2.5" fill="#1a46b2"/>
<ellipse cx="300.8" cy="240.6" rx="2.0" ry="3.6" fill="#1a46b2"/>
<ellipse cx="288.05" cy="207.5" rx="3" ry="2.2" fill="#d0d830"/>
<rect x="287.25" y="246.5" width="9" height="3" fill="#0e2468"/>
<rect x="286.75" y="196.8" width="10" height="4" fill="#0f2a70"/>
</g>
<line x1="282.25" y1="194.2" x2="282.25" y2="253.3" stroke="#0c1c58" stroke-width="0.5"/>
<rect x="290.5" y="221.7" width="5.2" height="5.2" fill="#b0a070" opacity="0.7"/>
<g stroke="#605838" stroke-width="0.6" fill="none"><circle cx="293.1" cy="224.3" r="2.0"/><line x1="288.1" y1="224.3" x2="291.1" y2="224.3"/><line x1="295.1" y1="224.3" x2="298.1" y2="224.3"/><line x1="293.1" y1="219.3" x2="293.1" y2="222.3"/><line x1="293.1" y1="226.3" x2="293.1" y2="229.3"/></g>
<text x="301.8" y="252.2" font-size="3.9" text-anchor="end" font-weight="bold" fill="#f0f0f0" >3600 s</text>
</g>
<rect x="19.6" y="186.7" width="292.2" height="80.5" fill="none" stroke="#222" stroke-width="0.9"/>
<line x1="19.6" y1="267.3" x2="21.1" y2="267.3" stroke="#222" stroke-width="0.6"/>
<text x="15.6" y="268.9" font-size="4.6" text-anchor="middle" font-weight="bold" fill="#111" >20</text>
<line x1="19.6" y1="257.7" x2="21.1" y2="257.7" stroke="#222" stroke-width="0.6"/>
<text x="15.6" y="259.3" font-size="4.6" text-anchor="middle" font-weight="bold" fill="#111" >25</text>
<line x1="19.6" y1="248.0" x2="21.1" y2="248.0" stroke="#222" stroke-width="0.6"/>
<text x="15.6" y="249.6" font-size="4.6" text-anchor="middle" font-weight="bold" fill="#111" >30</text>
<line x1="19.6" y1="238.4" x2="21.1" y2="238.4" stroke="#222" stroke-width="0.6"/>
<text x="15.6" y="240.0" font-size="4.6" text-anchor="middle" font-weight="bold" fill="#111" >35</text>
<line x1="19.6" y1="228.7" x2="21.1" y2="228.7" stroke="#222" stroke-width="0.6"/>
<text x="15.6" y="230.3" font-size="4.6" text-anchor="middle" font-weight="bold" fill="#111" >40</text>
<line x1="19.6" y1="219.1" x2="21.1" y2="219.1" stroke="#222" stroke-width="0.6"/>
<text x="15.6" y="220.7" font-size="4.6" text-anchor="middle" font-weight="bold" fill="#111" >45</text>
<line x1="19.6" y1="209.4" x2="21.1" y2="209.4" stroke="#222" stroke-width="0.6"/>
<text x="15.6" y="211.0" font-size="4.6" text-anchor="middle" font-weight="bold" fill="#111" >50</text>
<line x1="19.6" y1="199.8" x2="21.1" y2="199.8" stroke="#222" stroke-width="0.6"/>
<text x="15.6" y="201.3" font-size="4.6" text-anchor="middle" font-weight="bold" fill="#111" >55</text>
<line x1="19.6" y1="190.1" x2="21.1" y2="190.1" stroke="#222" stroke-width="0.6"/>
<text x="15.6" y="191.7" font-size="4.6" text-anchor="middle" font-weight="bold" fill="#111" >60</text>
<line x1="34.6" y1="267.2" x2="34.6" y2="265.8" stroke="#222" stroke-width="0.6"/>
<text x="34.6" y="272.8" font-size="4.6" text-anchor="middle" font-weight="bold" fill="#111" >0</text>
<line x1="50.5" y1="267.2" x2="50.5" y2="265.8" stroke="#222" stroke-width="0.6"/>
<text x="50.5" y="272.8" font-size="4.6" text-anchor="middle" font-weight="bold" fill="#111" >20</text>
<line x1="66.3" y1="267.2" x2="66.3" y2="265.8" stroke="#222" stroke-width="0.6"/>
<text x="66.3" y="272.8" font-size="4.6" text-anchor="middle" font-weight="bold" fill="#111" >40</text>
<line x1="82.2" y1="267.2" x2="82.2" y2="265.8" stroke="#222" stroke-width="0.6"/>
<text x="82.2" y="272.8" font-size="4.6" text-anchor="middle" font-weight="bold" fill="#111" >60</text>
<line x1="98.0" y1="267.2" x2="98.0" y2="265.8" stroke="#222" stroke-width="0.6"/>
<text x="98.0" y="272.8" font-size="4.6" text-anchor="middle" font-weight="bold" fill="#111" >80</text>
<line x1="42.5" y1="267.2" x2="42.5" y2="266.4" stroke="#222" stroke-width="0.5"/>
<line x1="58.4" y1="267.2" x2="58.4" y2="266.4" stroke="#222" stroke-width="0.5"/>
<line x1="74.2" y1="267.2" x2="74.2" y2="266.4" stroke="#222" stroke-width="0.5"/>
<line x1="90.1" y1="267.2" x2="90.1" y2="266.4" stroke="#222" stroke-width="0.5"/>
<line x1="105.9" y1="267.2" x2="105.9" y2="266.4" stroke="#222" stroke-width="0.5"/>
<line x1="134.4" y1="267.2" x2="134.4" y2="265.8" stroke="#222" stroke-width="0.6"/>
<text x="134.4" y="272.8" font-size="4.6" text-anchor="middle" font-weight="bold" fill="#111" >1000</text>
<line x1="164.7" y1="267.2" x2="164.7" y2="265.8" stroke="#222" stroke-width="0.6"/>
<text x="164.7" y="272.8" font-size="4.6" text-anchor="middle" font-weight="bold" fill="#111" >1500</text>
<line x1="194.9" y1="267.2" x2="194.9" y2="265.8" stroke="#222" stroke-width="0.6"/>
<text x="194.9" y="272.8" font-size="4.6" text-anchor="middle" font-weight="bold" fill="#111" >2000</text>
<line x1="225.2" y1="267.2" x2="225.2" y2="265.8" stroke="#222" stroke-width="0.6"/>
<text x="225.2" y="272.8" font-size="4.6" text-anchor="middle" font-weight="bold" fill="#111" >2500</text>
<line x1="255.4" y1="267.2" x2="255.4" y2="265.8" stroke="#222" stroke-width="0.6"/>
<text x="255.4" y="272.8" font-size="4.6" text-anchor="middle" font-weight="bold" fill="#111" >3000</text>
<line x1="285.6" y1="267.2" x2="285.6" y2="265.8" stroke="#222" stroke-width="0.6"/>
<text x="285.6" y="272.8" font-size="4.6" text-anchor="middle" font-weight="bold" fill="#111" >3500</text>
<line x1="149.5" y1="267.2" x2="149.5" y2="266.4" stroke="#222" stroke-width="0.5"/>
<line x1="179.8" y1="267.2" x2="179.8" y2="266.4" stroke="#222" stroke-width="0.5"/>
<line x1="210.0" y1="267.2" x2="210.0" y2="266.4" stroke="#222" stroke-width="0.5"/>
<line x1="240.3" y1="267.2" x2="240.3" y2="266.4" stroke="#222" stroke-width="0.5"/>
<line x1="270.5" y1="267.2" x2="270.5" y2="266.4" stroke="#222" stroke-width="0.5"/>
<line x1="300.8" y1="267.2" x2="300.8" y2="266.4" stroke="#222" stroke-width="0.5"/>
<rect x="104" y="265.5" width="5" height="3.5" fill="#fff"/>
<g stroke="#222" stroke-width="0.6"><line x1="103.5" y1="269" x2="107" y2="265"/><line x1="105.5" y1="269" x2="109" y2="265"/></g>
<text x="166.3" y="279.6" font-size="5.5" text-anchor="middle" font-weight="bold" fill="#111" >Time (s)</text>
<text transform="translate(9.8,224) rotate(-90)" font-size="5.6" text-anchor="middle" font-weight="bold" fill="#111">Temperature (°C)</text>
<text x="21.8" y="192.6" font-size="6.4" text-anchor="start" font-weight="bold" fill="#111" >(c)</text>
<linearGradient id="gcc" x1="0" y1="0" x2="1" y2="0"><stop offset="0" stop-color="#0a1248"/><stop offset="0.1" stop-color="#0e2a70"/><stop offset="0.2" stop-color="#1450a8"/><stop offset="0.245" stop-color="#1a78c8"/><stop offset="0.28" stop-color="#12a0a0"/><stop offset="0.315" stop-color="#20b050"/><stop offset="0.36" stop-color="#50c030"/><stop offset="0.405" stop-color="#b0d020"/><stop offset="0.44" stop-color="#e8d000"/><stop offset="0.5" stop-color="#f8c000"/><stop offset="0.59" stop-color="#f8a000"/><stop offset="0.64" stop-color="#f07820"/><stop offset="0.7" stop-color="#f04030"/><stop offset="0.74" stop-color="#e81040"/><stop offset="0.8" stop-color="#ea1a48"/><stop offset="0.86" stop-color="#f04060"/><stop offset="0.915" stop-color="#f88080"/><stop offset="0.95" stop-color="#fcc0b0"/><stop offset="1" stop-color="#fff4e0"/></linearGradient>
<rect x="28.6" y="257.2" width="274.8" height="5.5" fill="url(#gcc)" stroke="#111" stroke-width="0.7"/>
<text x="31.2" y="261.4" font-size="3.4" text-anchor="middle" font-weight="bold" fill="#f0f0f0" >20</text>
<text x="97.4" y="261.4" font-size="3.4" text-anchor="middle" font-weight="bold" fill="#f0f0f0" >35</text>
<text x="233.5" y="261.4" font-size="3.4" text-anchor="middle" font-weight="bold" fill="#f0f0f0" >65</text>
<path d="M164.2,257.2 L167.6,257.2 L165.9,259.9 Z M164.2,262.7 L167.6,262.7 L165.9,260 Z" fill="#111"/>
<text x="307.5" y="261.4" font-size="4.4" text-anchor="middle" font-weight="bold" fill="#111" >°C</text>
<polyline points="34.7,258.6 36.3,244.5 38,236.5 41.9,224.7 56.9,212.5 77.8,202.7 87,200.9 89.3,200.4 103.2,197.4" fill="none" stroke="#fff" stroke-width="0.8"/>
<polyline points="111.2,202.7 118.6,201.6 129.7,196.9 140.1,199.7 147.7,194.2 165.1,198.6 176.4,200.9 183.4,199.3 200.8,202.7 218.8,202 236.7,199.7 254.7,196.9 273,200.4 290.6,198.1" fill="none" stroke="#fff" stroke-width="0.8"/>
<line x1="103.2" y1="197.4" x2="111.2" y2="202.7" stroke="#fff" stroke-width="0.8"/>
<rect x="33.6" y="257.5" width="2.2" height="2.2" fill="#fff"/>
<rect x="35.2" y="243.4" width="2.2" height="2.2" fill="#fff"/>
<rect x="36.9" y="235.4" width="2.2" height="2.2" fill="#fff"/>
<rect x="40.8" y="223.6" width="2.2" height="2.2" fill="#fff"/>
<rect x="55.8" y="211.4" width="2.2" height="2.2" fill="#fff"/>
<rect x="76.7" y="201.6" width="2.2" height="2.2" fill="#fff"/>
<rect x="85.9" y="199.8" width="2.2" height="2.2" fill="#fff"/>
<rect x="88.2" y="199.3" width="2.2" height="2.2" fill="#fff"/>
<rect x="102.1" y="196.3" width="2.2" height="2.2" fill="#fff"/>
<rect x="110.1" y="201.6" width="2.2" height="2.2" fill="#fff"/>
<rect x="117.5" y="200.5" width="2.2" height="2.2" fill="#fff"/>
<rect x="128.6" y="195.8" width="2.2" height="2.2" fill="#fff"/>
<rect x="139.0" y="198.6" width="2.2" height="2.2" fill="#fff"/>
<rect x="146.6" y="193.1" width="2.2" height="2.2" fill="#fff"/>
<rect x="164.0" y="197.5" width="2.2" height="2.2" fill="#fff"/>
<rect x="175.3" y="199.8" width="2.2" height="2.2" fill="#fff"/>
<rect x="182.3" y="198.2" width="2.2" height="2.2" fill="#fff"/>
<rect x="199.7" y="201.6" width="2.2" height="2.2" fill="#fff"/>
<rect x="217.7" y="200.9" width="2.2" height="2.2" fill="#fff"/>
<rect x="235.6" y="198.6" width="2.2" height="2.2" fill="#fff"/>
<rect x="253.6" y="195.8" width="2.2" height="2.2" fill="#fff"/>
<rect x="271.9" y="199.3" width="2.2" height="2.2" fill="#fff"/>
<rect x="289.5" y="197.0" width="2.2" height="2.2" fill="#fff"/>
<g stroke="#fff" stroke-width="0.8"><line x1="104.5" y1="201.5" x2="108" y2="197"/><line x1="106.5" y1="201.5" x2="110" y2="197"/></g>
<clipPath id="cla"><rect x="327" y="11" width="108.3" height="81.0"/></clipPath>
<g clip-path="url(#cla)">
<rect x="327" y="11" width="108.3" height="81.0" fill="#808080"/>
<g transform="translate(327,11)" filter="url(#bl0)">
<ellipse cx="92.0" cy="14.0" rx="34.0" ry="16.0" transform="rotate(12 92.0 14.0)" fill="#737373"/>
<path d="M85.1,-3.0Q94.8,0.8 105.2,1.3" stroke="#aaaaaa" stroke-width="0.68" fill="none"/>
<path d="M80.7,-2.9Q94.6,1.8 109.2,3.2" stroke="#717171" stroke-width="0.94" fill="none"/>
<path d="M79.3,-2.4Q94.4,2.6 110.3,4.2" stroke="#b0b0b0" stroke-width="0.77" fill="none"/>
<path d="M76.3,-1.8Q94.2,3.7 112.8,5.9" stroke="#6a6a6a" stroke-width="0.91" fill="none"/>
<path d="M71.5,-2.1Q94.0,4.4 117.3,7.6" stroke="#b6b6b6" stroke-width="0.57" fill="none"/>
<path d="M71.2,-1.4Q93.9,5.2 117.3,8.4" stroke="#838383" stroke-width="0.74" fill="none"/>
<path d="M69.9,-0.6Q93.7,6.2 118.2,9.6" stroke="#919191" stroke-width="0.67" fill="none"/>
<path d="M68.0,0.0Q93.5,7.2 119.6,11.0" stroke="#656565" stroke-width="0.67" fill="none"/>
<path d="M67.0,0.6Q93.3,8.0 120.2,12.0" stroke="#9e9e9e" stroke-width="0.57" fill="none"/>
<path d="M65.2,1.4Q93.0,9.1 121.6,13.4" stroke="#797979" stroke-width="0.65" fill="none"/>
<path d="M62.8,1.9Q92.8,10.1 123.6,14.8" stroke="#999999" stroke-width="0.72" fill="none"/>
<path d="M62.8,2.7Q92.7,10.8 123.3,15.6" stroke="#888888" stroke-width="0.76" fill="none"/>
<path d="M62.2,3.6Q92.5,11.8 123.4,16.6" stroke="#a2a2a2" stroke-width="0.84" fill="none"/>
<path d="M60.7,4.2Q92.3,12.7 124.5,17.8" stroke="#757575" stroke-width="0.84" fill="none"/>
<path d="M63.4,5.4Q92.2,13.2 121.6,17.8" stroke="#b9b9b9" stroke-width="0.76" fill="none"/>
<path d="M61.4,6.0Q92.0,14.2 123.2,19.1" stroke="#7f7f7f" stroke-width="0.88" fill="none"/>
<path d="M61.7,7.0Q91.8,15.2 122.5,20.0" stroke="#acacac" stroke-width="0.93" fill="none"/>
<path d="M61.7,8.0Q91.5,16.1 122.1,20.9" stroke="#757575" stroke-width="0.57" fill="none"/>
<path d="M60.1,8.4Q91.4,16.8 123.4,21.9" stroke="#c1c1c1" stroke-width="0.84" fill="none"/>
<path d="M62.7,10.1Q91.2,17.9 120.4,22.3" stroke="#757575" stroke-width="1.03" fill="none"/>
<path d="M61.0,10.8Q91.0,18.9 121.6,23.7" stroke="#bbbbbb" stroke-width="0.67" fill="none"/>
<path d="M59.2,11.2Q90.8,19.7 123.1,24.8" stroke="#787878" stroke-width="0.78" fill="none"/>
<path d="M61.5,12.6Q90.6,20.5 120.5,25.1" stroke="#bfbfbf" stroke-width="0.56" fill="none"/>
<path d="M60.8,13.5Q90.4,21.6 120.7,26.3" stroke="#858585" stroke-width="0.92" fill="none"/>
<path d="M62.8,14.9Q90.2,22.5 118.3,26.7" stroke="#ababab" stroke-width="0.76" fill="none"/>
<path d="M61.7,15.3Q90.1,23.1 119.1,27.5" stroke="#757575" stroke-width="0.66" fill="none"/>
<path d="M64.4,17.0Q89.8,24.1 116.0,28.0" stroke="#a1a1a1" stroke-width="0.73" fill="none"/>
<path d="M64.9,18.1Q89.7,25.1 115.1,28.7" stroke="#757575" stroke-width="0.78" fill="none"/>
<path d="M67.4,19.3Q89.5,25.7 112.3,28.9" stroke="#979797" stroke-width="0.84" fill="none"/>
<path d="M67.3,20.6Q89.2,27.0 111.9,30.0" stroke="#7b7b7b" stroke-width="0.95" fill="none"/>
<path d="M68.5,21.5Q89.1,27.6 110.4,30.4" stroke="#ababab" stroke-width="0.60" fill="none"/>
<path d="M72.9,23.3Q88.9,28.4 105.7,30.2" stroke="#777777" stroke-width="0.68" fill="none"/>
<path d="M73.9,24.5Q88.7,29.4 104.3,30.9" stroke="#999999" stroke-width="0.59" fill="none"/>
<path d="M77.8,26.2Q88.5,30.3 100.0,31.0" stroke="#5a5a5a" stroke-width="0.69" fill="none"/>
<ellipse cx="46.0" cy="6.0" rx="46.0" ry="13.0" transform="rotate(2 46.0 6.0)" fill="#787878"/>
<path d="M31.0,-6.6Q46.4,-6.1 61.8,-5.6" stroke="#9b9b9b" stroke-width="0.79" fill="none"/>
<path d="M27.2,-6.2Q46.4,-5.5 65.6,-4.9" stroke="#6b6b6b" stroke-width="0.65" fill="none"/>
<path d="M20.5,-5.6Q46.4,-4.7 72.3,-3.8" stroke="#a7a7a7" stroke-width="0.66" fill="none"/>
<path d="M16.3,-4.7Q46.3,-3.6 76.4,-2.6" stroke="#5d5d5d" stroke-width="0.57" fill="none"/>
<path d="M14.4,-4.1Q46.3,-3.0 78.2,-1.8" stroke="#9a9a9a" stroke-width="0.90" fill="none"/>
<path d="M12.3,-3.1Q46.3,-1.9 80.3,-0.7" stroke="#686868" stroke-width="1.03" fill="none"/>
<path d="M10.4,-2.3Q46.2,-1.0 82.1,0.2" stroke="#a0a0a0" stroke-width="0.87" fill="none"/>
<path d="M8.7,-1.7Q46.2,-0.3 83.8,1.0" stroke="#6f6f6f" stroke-width="0.86" fill="none"/>
<path d="M9.1,-0.9Q46.2,0.4 83.3,1.7" stroke="#c3c3c3" stroke-width="0.98" fill="none"/>
<path d="M4.2,-0.2Q46.2,1.3 88.1,2.8" stroke="#707070" stroke-width="1.01" fill="none"/>
<path d="M5.9,0.9Q46.1,2.3 86.4,3.7" stroke="#a4a4a4" stroke-width="0.56" fill="none"/>
<path d="M7.7,1.9Q46.1,3.2 84.5,4.6" stroke="#888888" stroke-width="1.02" fill="none"/>
<path d="M6.3,2.5Q46.1,3.9 85.8,5.3" stroke="#c1c1c1" stroke-width="1.03" fill="none"/>
<path d="M3.6,3.3Q46.0,4.8 88.5,6.3" stroke="#757575" stroke-width="0.73" fill="none"/>
<path d="M2.3,3.9Q46.0,5.5 89.7,7.0" stroke="#adadad" stroke-width="0.65" fill="none"/>
<path d="M2.3,4.7Q46.0,6.3 89.7,7.8" stroke="#717171" stroke-width="0.80" fill="none"/>
<path d="M1.1,5.6Q46.0,7.2 90.9,8.8" stroke="#c2c2c2" stroke-width="0.57" fill="none"/>
<path d="M5.1,6.6Q45.9,8.0 86.8,9.4" stroke="#909090" stroke-width="0.94" fill="none"/>
<path d="M6.4,7.5Q45.9,8.9 85.4,10.3" stroke="#b8b8b8" stroke-width="0.96" fill="none"/>
<path d="M6.4,8.6Q45.9,10.0 85.3,11.3" stroke="#8a8a8a" stroke-width="0.89" fill="none"/>
<path d="M3.0,9.1Q45.8,10.6 88.7,12.1" stroke="#a3a3a3" stroke-width="0.91" fill="none"/>
<path d="M9.1,10.0Q45.8,11.3 82.6,12.6" stroke="#8b8b8b" stroke-width="0.66" fill="none"/>
<path d="M8.2,11.1Q45.8,12.4 83.4,13.7" stroke="#bcbcbc" stroke-width="0.74" fill="none"/>
<path d="M11.3,11.9Q45.8,13.1 80.2,14.3" stroke="#878787" stroke-width="0.85" fill="none"/>
<path d="M10.6,12.9Q45.7,14.2 80.9,15.4" stroke="#9a9a9a" stroke-width="0.82" fill="none"/>
<path d="M16.4,13.6Q45.7,14.7 75.0,15.7" stroke="#616161" stroke-width="0.98" fill="none"/>
<path d="M16.2,14.7Q45.7,15.8 75.2,16.8" stroke="#a1a1a1" stroke-width="0.86" fill="none"/>
<path d="M21.6,15.8Q45.6,16.6 69.7,17.5" stroke="#747474" stroke-width="0.67" fill="none"/>
<path d="M24.7,16.4Q45.6,17.2 66.5,17.9" stroke="#b7b7b7" stroke-width="0.83" fill="none"/>
<path d="M32.5,17.9Q45.6,18.4 58.7,18.8" stroke="#636363" stroke-width="0.94" fill="none"/>
<ellipse cx="12.0" cy="42.0" rx="58.0" ry="20.0" transform="rotate(82 12.0 42.0)" fill="#787878"/>
<path d="M28.3,22.9Q26.0,40.0 33.0,55.9" stroke="#ababab" stroke-width="0.60" fill="none"/>
<path d="M26.8,16.3Q25.5,40.1 33.3,62.7" stroke="#595959" stroke-width="0.68" fill="none"/>
<path d="M25.0,12.0Q24.2,40.3 32.7,67.3" stroke="#949494" stroke-width="0.64" fill="none"/>
<path d="M23.8,8.2Q23.7,40.4 32.7,71.3" stroke="#5f5f5f" stroke-width="1.00" fill="none"/>
<path d="M22.2,3.6Q22.7,40.5 32.4,76.0" stroke="#bababa" stroke-width="0.70" fill="none"/>
<path d="M21.4,3.9Q21.9,40.6 31.6,76.0" stroke="#606060" stroke-width="0.87" fill="none"/>
<path d="M20.8,4.8Q21.1,40.7 30.7,75.4" stroke="#bfbfbf" stroke-width="0.70" fill="none"/>
<path d="M18.9,-0.4Q20.0,40.9 30.3,80.8" stroke="#6c6c6c" stroke-width="0.59" fill="none"/>
<path d="M17.1,-5.9Q19.0,41.0 30.1,86.7" stroke="#c0c0c0" stroke-width="0.61" fill="none"/>
<path d="M16.7,-4.5Q18.4,41.1 29.3,85.4" stroke="#8b8b8b" stroke-width="0.82" fill="none"/>
<path d="M15.3,-6.5Q17.4,41.2 28.6,87.7" stroke="#a2a2a2" stroke-width="0.82" fill="none"/>
<path d="M14.9,-4.4Q16.7,41.3 27.6,85.8" stroke="#646464" stroke-width="0.69" fill="none"/>
<path d="M13.3,-7.2Q15.5,41.5 26.9,88.9" stroke="#b5b5b5" stroke-width="0.87" fill="none"/>
<path d="M12.4,-7.6Q14.7,41.6 26.1,89.5" stroke="#707070" stroke-width="0.72" fill="none"/>
<path d="M11.2,-11.8Q14.0,41.7 26.1,94.0" stroke="#c1c1c1" stroke-width="0.71" fill="none"/>
<path d="M10.5,-10.0Q13.1,41.8 24.9,92.4" stroke="#7d7d7d" stroke-width="0.85" fill="none"/>
<path d="M10.2,-6.2Q12.3,42.0 23.6,88.8" stroke="#a4a4a4" stroke-width="0.59" fill="none"/>
<path d="M9.1,-7.0Q11.3,42.1 22.7,89.9" stroke="#676767" stroke-width="0.86" fill="none"/>
<path d="M7.4,-13.4Q10.5,42.2 22.9,96.5" stroke="#b0b0b0" stroke-width="0.97" fill="none"/>
<path d="M6.9,-11.1Q9.7,42.3 21.7,94.4" stroke="#888888" stroke-width="0.60" fill="none"/>
<path d="M6.1,-8.4Q8.5,42.5 20.2,92.1" stroke="#bdbdbd" stroke-width="1.03" fill="none"/>
<path d="M5.1,-9.6Q7.7,42.6 19.6,93.5" stroke="#696969" stroke-width="0.81" fill="none"/>
<path d="M4.2,-9.2Q6.8,42.7 18.6,93.4" stroke="#c2c2c2" stroke-width="0.63" fill="none"/>
<path d="M3.6,-6.8Q5.9,42.9 17.4,91.2" stroke="#727272" stroke-width="0.99" fill="none"/>
<path d="M1.8,-13.9Q5.1,43.0 17.6,98.6" stroke="#c0c0c0" stroke-width="0.92" fill="none"/>
<path d="M1.9,-7.3Q4.3,43.1 15.9,92.2" stroke="#777777" stroke-width="0.64" fill="none"/>
<path d="M0.5,-10.9Q3.4,43.2 15.5,96.0" stroke="#a5a5a5" stroke-width="0.59" fill="none"/>
<path d="M-0.6,-11.3Q2.4,43.3 14.6,96.7" stroke="#7c7c7c" stroke-width="0.82" fill="none"/>
<path d="M-0.9,-7.6Q1.6,43.5 13.3,93.2" stroke="#ababab" stroke-width="0.72" fill="none"/>
<path d="M-1.0,-3.4Q1.0,43.6 12.1,89.3" stroke="#7f7f7f" stroke-width="0.76" fill="none"/>
<path d="M-1.9,-2.7Q-0.0,43.7 11.0,88.8" stroke="#a8a8a8" stroke-width="0.63" fill="none"/>
<path d="M-2.7,-3.4Q-0.7,43.8 10.4,89.7" stroke="#878787" stroke-width="0.75" fill="none"/>
<path d="M-3.9,-4.7Q-1.7,43.9 9.6,91.3" stroke="#a1a1a1" stroke-width="0.56" fill="none"/>
<path d="M-4.5,-2.4Q-2.6,44.1 8.4,89.2" stroke="#7d7d7d" stroke-width="0.77" fill="none"/>
<path d="M-5.4,-2.3Q-3.6,44.2 7.5,89.4" stroke="#a0a0a0" stroke-width="0.80" fill="none"/>
<path d="M-5.5,2.9Q-4.4,44.3 6.0,84.5" stroke="#717171" stroke-width="0.83" fill="none"/>
<path d="M-6.9,0.6Q-5.4,44.4 5.3,87.0" stroke="#a0a0a0" stroke-width="0.87" fill="none"/>
<path d="M-6.5,7.4Q-6.0,44.5 3.8,80.4" stroke="#747474" stroke-width="0.98" fill="none"/>
<path d="M-7.7,5.6Q-6.9,44.7 3.1,82.4" stroke="#bababa" stroke-width="0.71" fill="none"/>
<path d="M-8.3,8.7Q-8.0,44.8 1.6,79.6" stroke="#6c6c6c" stroke-width="0.90" fill="none"/>
<path d="M-8.6,13.4Q-8.8,44.9 0.1,75.1" stroke="#b6b6b6" stroke-width="0.99" fill="none"/>
<path d="M-8.9,17.8Q-9.8,45.1 -1.5,71.0" stroke="#616161" stroke-width="0.68" fill="none"/>
<path d="M-9.1,20.9Q-10.4,45.1 -2.5,68.1" stroke="#b0b0b0" stroke-width="0.59" fill="none"/>
<path d="M-9.2,27.7Q-11.4,45.3 -4.5,61.6" stroke="#666666" stroke-width="0.81" fill="none"/>
<ellipse cx="100.0" cy="50.0" rx="52.0" ry="16.0" transform="rotate(95 100.0 50.0)" fill="#737373"/>
<path d="M116.5,36.0Q115.2,51.3 113.8,66.6" stroke="#898989" stroke-width="1.03" fill="none"/>
<path d="M116.1,28.1Q114.0,51.2 112.0,74.3" stroke="#5f5f5f" stroke-width="1.00" fill="none"/>
<path d="M115.4,25.6Q113.1,51.1 110.9,76.7" stroke="#aeaeae" stroke-width="0.96" fill="none"/>
<path d="M115.1,20.0Q112.4,51.1 109.7,82.2" stroke="#6a6a6a" stroke-width="1.00" fill="none"/>
<path d="M114.3,18.2Q111.4,51.0 108.5,83.8" stroke="#b1b1b1" stroke-width="0.77" fill="none"/>
<path d="M113.8,16.9Q110.9,51.0 107.9,85.0" stroke="#5e5e5e" stroke-width="1.00" fill="none"/>
<path d="M112.8,15.2Q109.7,50.8 106.6,86.5" stroke="#aaaaaa" stroke-width="0.76" fill="none"/>
<path d="M112.5,12.9Q109.2,50.8 105.9,88.7" stroke="#656565" stroke-width="0.92" fill="none"/>
<path d="M111.7,12.0Q108.4,50.7 105.0,89.5" stroke="#a5a5a5" stroke-width="0.57" fill="none"/>
<path d="M111.0,7.2Q107.3,50.6 103.5,94.0" stroke="#818181" stroke-width="0.66" fill="none"/>
<path d="M110.4,6.6Q106.5,50.6 102.7,94.6" stroke="#9f9f9f" stroke-width="0.84" fill="none"/>
<path d="M109.7,4.4Q105.7,50.5 101.6,96.6" stroke="#818181" stroke-width="0.95" fill="none"/>
<path d="M108.6,4.1Q104.5,50.4 100.5,96.7" stroke="#aaaaaa" stroke-width="0.97" fill="none"/>
<path d="M107.9,3.2Q103.8,50.3 99.6,97.4" stroke="#6f6f6f" stroke-width="0.70" fill="none"/>
<path d="M107.5,1.0Q103.2,50.3 98.8,99.6" stroke="#9a9a9a" stroke-width="0.92" fill="none"/>
<path d="M106.6,-0.9Q102.1,50.2 97.7,101.3" stroke="#818181" stroke-width="1.03" fill="none"/>
<path d="M105.6,2.4Q101.4,50.1 97.3,97.9" stroke="#afafaf" stroke-width="0.71" fill="none"/>
<path d="M104.5,3.2Q100.4,50.0 96.3,96.8" stroke="#777777" stroke-width="0.56" fill="none"/>
<path d="M103.8,2.5Q99.6,50.0 95.4,97.5" stroke="#a3a3a3" stroke-width="0.75" fill="none"/>
<path d="M102.9,0.7Q98.6,49.9 94.3,99.0" stroke="#757575" stroke-width="0.87" fill="none"/>
<path d="M101.9,4.6Q97.9,49.8 93.9,95.0" stroke="#959595" stroke-width="0.69" fill="none"/>
<path d="M101.3,-0.2Q97.0,49.7 92.6,99.7" stroke="#848484" stroke-width="0.81" fill="none"/>
<path d="M100.0,3.6Q95.9,49.6 91.9,95.7" stroke="#bababa" stroke-width="0.76" fill="none"/>
<path d="M99.5,0.3Q95.2,49.6 90.9,98.9" stroke="#6b6b6b" stroke-width="0.64" fill="none"/>
<path d="M98.3,4.5Q94.4,49.5 90.4,94.6" stroke="#a3a3a3" stroke-width="0.56" fill="none"/>
<path d="M97.4,6.1Q93.6,49.4 89.8,92.8" stroke="#6f6f6f" stroke-width="0.97" fill="none"/>
<path d="M96.5,5.2Q92.7,49.4 88.8,93.5" stroke="#bababa" stroke-width="0.92" fill="none"/>
<path d="M95.6,6.5Q91.8,49.3 88.1,92.1" stroke="#787878" stroke-width="0.87" fill="none"/>
<path d="M94.3,10.4Q90.9,49.2 87.5,88.0" stroke="#acacac" stroke-width="0.86" fill="none"/>
<path d="M93.4,10.2Q89.9,49.1 86.5,88.0" stroke="#7f7f7f" stroke-width="0.93" fill="none"/>
<path d="M92.3,13.4Q89.1,49.0 86.0,84.7" stroke="#9e9e9e" stroke-width="0.69" fill="none"/>
<path d="M91.3,14.4Q88.3,49.0 85.3,83.6" stroke="#6f6f6f" stroke-width="0.63" fill="none"/>
<path d="M90.0,19.6Q87.4,48.9 84.8,78.2" stroke="#a1a1a1" stroke-width="0.58" fill="none"/>
<path d="M89.1,21.5Q86.7,48.8 84.3,76.2" stroke="#686868" stroke-width="0.73" fill="none"/>
<path d="M87.5,28.9Q85.8,48.8 84.0,68.6" stroke="#a0a0a0" stroke-width="1.01" fill="none"/>
<path d="M86.2,33.6Q84.9,48.7 83.6,63.7" stroke="#717171" stroke-width="0.85" fill="none"/>
<ellipse cx="30.0" cy="74.0" rx="46.0" ry="15.0" transform="rotate(-12 30.0 74.0)" fill="#787878"/>
<path d="M14.6,62.7Q28.0,64.6 39.5,57.4" stroke="#b4b4b4" stroke-width="0.69" fill="none"/>
<path d="M7.7,65.0Q28.2,65.4 46.7,56.7" stroke="#707070" stroke-width="0.74" fill="none"/>
<path d="M3.1,67.0Q28.4,66.4 51.7,56.7" stroke="#979797" stroke-width="0.87" fill="none"/>
<path d="M-0.6,68.8Q28.6,67.3 55.8,56.8" stroke="#676767" stroke-width="0.85" fill="none"/>
<path d="M-1.4,69.6Q28.7,67.9 56.9,57.2" stroke="#9a9a9a" stroke-width="0.94" fill="none"/>
<path d="M-2.9,71.1Q28.9,69.0 58.9,58.0" stroke="#686868" stroke-width="1.02" fill="none"/>
<path d="M-7.2,72.8Q29.1,69.8 63.5,57.8" stroke="#969696" stroke-width="0.99" fill="none"/>
<path d="M-5.7,73.3Q29.3,70.6 62.3,58.9" stroke="#737373" stroke-width="0.93" fill="none"/>
<path d="M-6.2,74.4Q29.5,71.5 63.2,59.6" stroke="#b3b3b3" stroke-width="0.64" fill="none"/>
<path d="M-8.8,75.9Q29.7,72.4 66.2,59.9" stroke="#8b8b8b" stroke-width="0.91" fill="none"/>
<path d="M-8.4,76.5Q29.8,73.1 66.1,60.7" stroke="#b0b0b0" stroke-width="0.63" fill="none"/>
<path d="M-11.8,77.9Q29.9,73.8 69.8,60.6" stroke="#737373" stroke-width="0.92" fill="none"/>
<path d="M-12.4,79.0Q30.1,74.6 70.7,61.3" stroke="#b9b9b9" stroke-width="0.71" fill="none"/>
<path d="M-10.7,79.4Q30.3,75.4 69.4,62.4" stroke="#797979" stroke-width="0.61" fill="none"/>
<path d="M-8.6,79.9Q30.5,76.3 67.7,63.7" stroke="#b5b5b5" stroke-width="0.99" fill="none"/>
<path d="M-8.6,80.8Q30.7,77.1 68.0,64.5" stroke="#848484" stroke-width="0.95" fill="none"/>
<path d="M-12.4,82.8Q30.9,78.3 72.3,64.8" stroke="#a9a9a9" stroke-width="0.96" fill="none"/>
<path d="M-12.9,83.4Q31.0,78.8 73.0,65.1" stroke="#686868" stroke-width="0.75" fill="none"/>
<path d="M-10.4,83.9Q31.2,79.8 70.9,66.6" stroke="#a1a1a1" stroke-width="0.67" fill="none"/>
<path d="M-10.4,84.9Q31.4,80.7 71.4,67.5" stroke="#7e7e7e" stroke-width="0.66" fill="none"/>
<path d="M-9.0,85.4Q31.6,81.5 70.3,68.6" stroke="#b4b4b4" stroke-width="1.00" fill="none"/>
<path d="M-6.3,85.9Q31.8,82.5 68.0,70.1" stroke="#878787" stroke-width="0.97" fill="none"/>
<path d="M-7.9,86.8Q31.9,83.0 69.8,70.3" stroke="#b3b3b3" stroke-width="1.00" fill="none"/>
<path d="M-9.9,88.1Q32.1,83.9 72.2,70.7" stroke="#848484" stroke-width="0.63" fill="none"/>
<path d="M-3.1,87.8Q32.3,84.9 65.8,73.1" stroke="#9e9e9e" stroke-width="0.88" fill="none"/>
<path d="M-4.5,88.6Q32.4,85.4 67.4,73.3" stroke="#666666" stroke-width="0.78" fill="none"/>
<path d="M-5.3,90.0Q32.7,86.6 68.7,74.2" stroke="#979797" stroke-width="0.59" fill="none"/>
<path d="M1.3,89.4Q32.9,87.4 62.5,76.4" stroke="#6b6b6b" stroke-width="0.62" fill="none"/>
<path d="M2.7,89.7Q33.0,88.0 61.4,77.2" stroke="#b0b0b0" stroke-width="0.92" fill="none"/>
<path d="M1.7,91.0Q33.2,89.0 62.8,78.0" stroke="#7a7a7a" stroke-width="0.75" fill="none"/>
<path d="M4.0,91.4Q33.4,89.9 60.8,79.3" stroke="#aeaeae" stroke-width="0.68" fill="none"/>
<path d="M6.8,91.4Q33.5,90.5 58.3,80.5" stroke="#757575" stroke-width="0.73" fill="none"/>
<path d="M13.4,91.1Q33.7,91.5 52.2,82.9" stroke="#a6a6a6" stroke-width="0.59" fill="none"/>
<path d="M18.7,90.8Q33.9,92.3 47.2,84.7" stroke="#606060" stroke-width="0.98" fill="none"/>
<ellipse cx="84.0" cy="48.0" rx="34.0" ry="14.0" transform="rotate(-72 84.0 48.0)" fill="#828282"/>
<path d="M68.2,53.9Q73.0,44.4 74.7,33.9" stroke="#b7b7b7" stroke-width="0.92" fill="none"/>
<path d="M67.5,58.8Q73.9,44.7 77.0,29.6" stroke="#6e6e6e" stroke-width="1.03" fill="none"/>
<path d="M67.2,61.4Q74.4,44.9 78.3,27.3" stroke="#c0c0c0" stroke-width="0.97" fill="none"/>
<path d="M67.9,61.5Q75.0,45.1 78.9,27.6" stroke="#898989" stroke-width="0.79" fill="none"/>
<path d="M67.1,66.8Q75.9,45.4 81.4,22.8" stroke="#9e9e9e" stroke-width="0.82" fill="none"/>
<path d="M68.3,65.8Q76.6,45.6 81.7,24.3" stroke="#797979" stroke-width="0.90" fill="none"/>
<path d="M68.8,67.3Q77.5,45.9 83.0,23.5" stroke="#b6b6b6" stroke-width="0.60" fill="none"/>
<path d="M69.1,68.8Q78.2,46.1 84.1,22.4" stroke="#6b6b6b" stroke-width="0.74" fill="none"/>
<path d="M69.1,70.8Q78.9,46.3 85.4,20.8" stroke="#a6a6a6" stroke-width="0.94" fill="none"/>
<path d="M68.8,74.3Q79.6,46.6 87.2,17.8" stroke="#797979" stroke-width="0.76" fill="none"/>
<path d="M69.6,73.7Q80.1,46.7 87.5,18.7" stroke="#b0b0b0" stroke-width="0.72" fill="none"/>
<path d="M69.6,76.7Q81.1,47.0 89.3,16.3" stroke="#878787" stroke-width="0.61" fill="none"/>
<path d="M70.9,75.1Q81.7,47.3 89.3,18.4" stroke="#cfcfcf" stroke-width="0.91" fill="none"/>
<path d="M71.1,77.0Q82.5,47.5 90.7,17.0" stroke="#858585" stroke-width="0.99" fill="none"/>
<path d="M72.4,75.7Q83.2,47.8 90.9,18.8" stroke="#ababab" stroke-width="0.74" fill="none"/>
<path d="M73.2,75.1Q83.8,47.9 91.2,19.7" stroke="#7d7d7d" stroke-width="0.84" fill="none"/>
<path d="M72.6,78.9Q84.4,48.1 92.9,16.3" stroke="#c1c1c1" stroke-width="0.71" fill="none"/>
<path d="M74.1,77.0Q85.2,48.4 93.0,18.7" stroke="#7d7d7d" stroke-width="0.92" fill="none"/>
<path d="M74.6,78.1Q86.0,48.6 94.1,18.1" stroke="#ababab" stroke-width="1.00" fill="none"/>
<path d="M75.6,77.3Q86.6,48.9 94.4,19.3" stroke="#717171" stroke-width="1.03" fill="none"/>
<path d="M75.5,80.2Q87.4,49.1 96.1,17.0" stroke="#cdcdcd" stroke-width="1.03" fill="none"/>
<path d="M76.4,80.2Q88.2,49.4 96.8,17.5" stroke="#979797" stroke-width="0.94" fill="none"/>
<path d="M77.6,78.2Q88.7,49.5 96.6,19.8" stroke="#bdbdbd" stroke-width="1.04" fill="none"/>
<path d="M78.5,78.7Q89.7,49.8 97.6,19.9" stroke="#8e8e8e" stroke-width="0.73" fill="none"/>
<path d="M79.6,78.1Q90.4,50.1 98.1,21.0" stroke="#b4b4b4" stroke-width="0.78" fill="none"/>
<path d="M80.7,77.1Q91.2,50.3 98.4,22.5" stroke="#737373" stroke-width="0.63" fill="none"/>
<path d="M81.5,76.8Q91.8,50.5 98.9,23.2" stroke="#cacaca" stroke-width="0.65" fill="none"/>
<path d="M82.1,76.9Q92.4,50.7 99.5,23.5" stroke="#6c6c6c" stroke-width="0.61" fill="none"/>
<path d="M83.9,74.2Q93.2,51.0 99.3,26.8" stroke="#a4a4a4" stroke-width="0.69" fill="none"/>
<path d="M84.7,74.2Q93.9,51.2 99.9,27.2" stroke="#6c6c6c" stroke-width="0.59" fill="none"/>
<path d="M85.8,73.3Q94.7,51.5 100.4,28.6" stroke="#a5a5a5" stroke-width="0.97" fill="none"/>
<path d="M86.8,71.6Q95.1,51.6 100.2,30.6" stroke="#8c8c8c" stroke-width="0.90" fill="none"/>
<path d="M87.8,71.4Q95.9,51.9 100.9,31.3" stroke="#b6b6b6" stroke-width="0.98" fill="none"/>
<path d="M90.2,67.4Q96.9,52.2 100.4,35.9" stroke="#828282" stroke-width="0.82" fill="none"/>
<path d="M91.6,65.4Q97.6,52.4 100.4,38.4" stroke="#b8b8b8" stroke-width="0.95" fill="none"/>
<path d="M94.0,60.4Q98.4,52.7 99.4,43.8" stroke="#696969" stroke-width="0.92" fill="none"/>
<ellipse cx="56.0" cy="52.0" rx="34.0" ry="13.0" transform="rotate(86 56.0 52.0)" fill="#8a8a8a"/>
<path d="M67.3,39.8Q69.8,51.0 68.9,62.5" stroke="#b5b5b5" stroke-width="0.75" fill="none"/>
<path d="M66.2,35.2Q69.0,51.1 68.4,67.3" stroke="#858585" stroke-width="0.58" fill="none"/>
<path d="M65.3,33.3Q68.3,51.1 67.8,69.2" stroke="#ababab" stroke-width="0.70" fill="none"/>
<path d="M64.6,32.7Q67.6,51.2 67.2,69.9" stroke="#737373" stroke-width="0.71" fill="none"/>
<path d="M63.5,28.1Q66.8,51.2 66.7,74.6" stroke="#d0d0d0" stroke-width="0.82" fill="none"/>
<path d="M62.8,27.5Q66.2,51.3 66.2,75.3" stroke="#878787" stroke-width="0.82" fill="none"/>
<path d="M61.7,24.3Q65.3,51.3 65.5,78.7" stroke="#b9b9b9" stroke-width="0.86" fill="none"/>
<path d="M61.3,26.1Q64.8,51.4 64.9,76.9" stroke="#888888" stroke-width="0.84" fill="none"/>
<path d="M60.2,22.0Q64.0,51.4 64.3,81.1" stroke="#b0b0b0" stroke-width="0.87" fill="none"/>
<path d="M59.3,22.0Q63.0,51.5 63.4,81.3" stroke="#8d8d8d" stroke-width="0.74" fill="none"/>
<path d="M58.7,20.5Q62.5,51.5 63.0,82.8" stroke="#d2d2d2" stroke-width="0.88" fill="none"/>
<path d="M57.7,19.8Q61.6,51.6 62.1,83.7" stroke="#9b9b9b" stroke-width="0.74" fill="none"/>
<path d="M57.1,20.0Q61.0,51.6 61.6,83.5" stroke="#bcbcbc" stroke-width="0.92" fill="none"/>
<path d="M56.5,21.9Q60.3,51.7 60.7,81.7" stroke="#8a8a8a" stroke-width="0.62" fill="none"/>
<path d="M55.8,21.3Q59.6,51.7 60.0,82.5" stroke="#acacac" stroke-width="0.64" fill="none"/>
<path d="M54.9,18.9Q58.9,51.8 59.5,85.0" stroke="#909090" stroke-width="0.70" fill="none"/>
<path d="M54.1,21.8Q57.9,51.9 58.3,82.1" stroke="#c3c3c3" stroke-width="0.91" fill="none"/>
<path d="M53.4,21.0Q57.2,51.9 57.7,83.0" stroke="#999999" stroke-width="0.79" fill="none"/>
<path d="M52.6,20.9Q56.5,52.0 57.0,83.3" stroke="#d8d8d8" stroke-width="0.90" fill="none"/>
<path d="M52.3,22.9Q56.0,52.0 56.4,81.4" stroke="#a1a1a1" stroke-width="0.67" fill="none"/>
<path d="M51.5,22.6Q55.3,52.0 55.7,81.8" stroke="#c1c1c1" stroke-width="1.02" fill="none"/>
<path d="M50.5,20.8Q54.4,52.1 54.9,83.7" stroke="#9b9b9b" stroke-width="0.60" fill="none"/>
<path d="M49.6,20.1Q53.6,52.2 54.1,84.4" stroke="#c3c3c3" stroke-width="0.82" fill="none"/>
<path d="M49.1,21.0Q52.9,52.2 53.4,83.6" stroke="#a0a0a0" stroke-width="0.61" fill="none"/>
<path d="M48.5,24.4Q52.1,52.3 52.4,80.4" stroke="#c7c7c7" stroke-width="0.62" fill="none"/>
<path d="M47.9,25.9Q51.5,52.3 51.7,79.0" stroke="#888888" stroke-width="0.94" fill="none"/>
<path d="M46.9,25.1Q50.5,52.4 50.7,79.9" stroke="#c6c6c6" stroke-width="0.60" fill="none"/>
<path d="M46.5,26.7Q50.0,52.4 50.1,78.4" stroke="#7e7e7e" stroke-width="0.80" fill="none"/>
<path d="M45.8,30.7Q49.0,52.5 48.9,74.5" stroke="#cccccc" stroke-width="0.61" fill="none"/>
<path d="M45.1,29.1Q48.5,52.5 48.4,76.2" stroke="#777777" stroke-width="0.81" fill="none"/>
<path d="M44.5,31.3Q47.7,52.6 47.5,74.1" stroke="#d0d0d0" stroke-width="0.70" fill="none"/>
<path d="M44.0,34.0Q47.0,52.6 46.6,71.5" stroke="#848484" stroke-width="0.66" fill="none"/>
<path d="M43.5,39.0Q46.1,52.7 45.4,66.6" stroke="#b6b6b6" stroke-width="0.56" fill="none"/>
<path d="M42.9,43.5Q45.3,52.7 44.3,62.3" stroke="#929292" stroke-width="1.02" fill="none"/>
<path d="M28.9,43.8 Q16.3,42.0 8.7,45.1 T-0.6,45.0" stroke="#b9b9b9" stroke-width="0.54" fill="none"/>
<path d="M60.6,48.5 Q71.3,46.5 77.1,39.3 T79.9,28.0" stroke="#bebebe" stroke-width="0.54" fill="none"/>
<path d="M39.7,38.1 Q34.5,43.5 23.0,44.0 T16.5,43.8" stroke="#c1c1c1" stroke-width="0.69" fill="none"/>
<path d="M69.7,65.8 Q74.6,57.1 75.9,50.2 T71.7,43.3" stroke="#b7b7b7" stroke-width="0.64" fill="none"/>
<path d="M75.9,45.6 Q69.7,41.2 60.1,32.3 T55.1,29.0" stroke="#b4b4b4" stroke-width="0.57" fill="none"/>
<path d="M66.5,6.8 Q63.7,20.4 64.9,31.2 T65.4,37.4" stroke="#c1c1c1" stroke-width="0.52" fill="none"/>
<path d="M27.1,62.4 Q20.6,60.9 15.3,56.7 T7.5,54.2" stroke="#b5b5b5" stroke-width="0.49" fill="none"/>
<path d="M15.0,32.3 Q22.9,31.2 30.9,33.0 T39.2,35.1" stroke="#d9d9d9" stroke-width="0.59" fill="none"/>
<path d="M86.8,51.9 Q96.1,42.9 102.6,33.5 T110.3,26.8" stroke="#cacaca" stroke-width="0.64" fill="none"/>
<path d="M42.5,72.8 Q38.7,67.6 34.4,61.6 T25.6,58.1" stroke="#c9c9c9" stroke-width="0.56" fill="none"/>
<path d="M29.3,42.9 Q22.9,45.4 13.7,51.8 T4.7,57.0" stroke="#d5d5d5" stroke-width="0.70" fill="none"/>
<path d="M73.9,2.5 Q69.1,7.9 62.0,8.0 T56.3,2.7" stroke="#d5d5d5" stroke-width="0.73" fill="none"/>
<path d="M36.2,72.0 Q35.0,81.0 35.0,87.9 T33.2,95.9" stroke="#cecece" stroke-width="0.72" fill="none"/>
<path d="M65.2,0.7 Q74.8,6.4 84.8,9.5 T89.5,17.9" stroke="#d3d3d3" stroke-width="0.66" fill="none"/>
<path d="M45.6,75.6 Q39.6,77.9 33.9,80.5 T27.9,80.6" stroke="#b5b5b5" stroke-width="0.51" fill="none"/>
<path d="M15.1,41.2 Q12.2,54.7 2.6,60.5 T-10.0,59.8" stroke="#bdbdbd" stroke-width="0.72" fill="none"/>
<path d="M25.9,45.6 Q26.0,57.8 19.7,63.5 T10.9,63.4" stroke="#cecece" stroke-width="0.78" fill="none"/>
<path d="M83.4,4.5 Q76.8,9.6 67.2,9.8 T56.9,5.8" stroke="#c8c8c8" stroke-width="0.50" fill="none"/>
<path d="M72.7,72.2 Q74.7,81.9 80.5,92.0 T77.9,97.6" stroke="#d7d7d7" stroke-width="0.59" fill="none"/>
<path d="M90.1,14.2 Q82.7,9.5 81.9,-1.7 T86.5,-10.2" stroke="#c6c6c6" stroke-width="0.63" fill="none"/>
<path d="M83.5,58.6 Q88.2,67.8 92.5,80.5 T90.1,87.2" stroke="#c3c3c3" stroke-width="0.51" fill="none"/>
<path d="M2.8,6.0 Q1.6,17.3 -3.8,23.6 T-4.1,37.4" stroke="#d5d5d5" stroke-width="0.76" fill="none"/>
<path d="M2.0,32.1 Q-1.4,19.3 -3.0,10.3 T-14.5,5.5" stroke="#dbdbdb" stroke-width="0.75" fill="none"/>
<path d="M71.5,27.7 Q65.3,39.7 58.0,40.9 T47.9,40.9" stroke="#c5c5c5" stroke-width="0.72" fill="none"/>
<path d="M101.1,58.7 Q101.8,47.5 103.0,39.6 T107.5,34.3" stroke="#cdcdcd" stroke-width="0.60" fill="none"/>
<path d="M60.5,52.0 Q55.1,46.2 41.6,48.2 T34.5,52.4" stroke="#c4c4c4" stroke-width="0.66" fill="none"/>
<path d="M106.5,57.3 Q101.9,65.7 97.4,73.9 T98.9,83.0" stroke="#c3c3c3" stroke-width="0.54" fill="none"/>
<path d="M88.2,29.2 Q94.2,40.4 93.3,51.4 T88.9,58.9" stroke="#b9b9b9" stroke-width="0.56" fill="none"/>
<ellipse cx="8" cy="63" rx="3.5" ry="1.8" fill="#e0e0e0" transform="rotate(-10 8 63)" opacity="1"/>
</g>
<rect x="327" y="11" width="108.3" height="81.0" filter="url(#grain)" opacity="0.6" style="mix-blend-mode:overlay"/>
</g>
<rect x="327" y="92.0" width="108.3" height="5.2" fill="#050505"/>
<g fill="#aaa" font-size="1.7" font-weight="normal"><text x="372.5" y="95.7">x 100</text><text x="387.6" y="95.7">0 3mm</text><text x="420.1" y="95.7">HV 1kV</text></g>
<rect x="402.8" y="92.8" width="9.7" height="1" fill="#eee"/>
<rect x="327.6" y="12.3" width="14.4" height="14" fill="#fff"/>
<text x="334.8" y="21.8" font-size="8" text-anchor="middle" font-family="Liberation Serif,serif" fill="#333">a</text>
<clipPath id="clb"><rect x="438" y="11" width="108.2" height="81.0"/></clipPath>
<g clip-path="url(#clb)">
<rect x="438" y="11" width="108.2" height="81.0" fill="#141414"/>
<g transform="translate(438,11)" filter="url(#bl0)">
<polygon points="2.2,-10.2 -7.8,90.7 -2.2,91.2 7.8,-9.7" fill="#4a4a4a" />
<line x1="7.0" y1="-9.8" x2="-3.0" y2="91.2" stroke="#757575" stroke-width="0.59"/>
<line x1="6.5" y1="-9.8" x2="-3.5" y2="91.1" stroke="#747474" stroke-width="0.91"/>
<line x1="5.4" y1="-9.9" x2="-4.6" y2="91.0" stroke="#5f5f5f" stroke-width="0.85"/>
<line x1="4.5" y1="-10.0" x2="-5.5" y2="90.9" stroke="#6d6d6d" stroke-width="0.64"/>
<line x1="3.7" y1="-10.1" x2="-6.3" y2="90.8" stroke="#5f5f5f" stroke-width="0.91"/>
<line x1="2.6" y1="-10.2" x2="-7.4" y2="90.7" stroke="#6f6f6f" stroke-width="0.82"/>
<polygon points="13.6,-10.3 -0.1,90.5 5.4,91.3 19.1,-9.5" fill="#4e4e4e" />
<line x1="18.6" y1="-9.6" x2="4.9" y2="91.2" stroke="#525252" stroke-width="0.58"/>
<line x1="17.8" y1="-9.7" x2="4.2" y2="91.1" stroke="#656565" stroke-width="0.71"/>
<line x1="16.8" y1="-9.8" x2="3.1" y2="91.0" stroke="#838383" stroke-width="0.81"/>
<line x1="15.9" y1="-10.0" x2="2.2" y2="90.8" stroke="#606060" stroke-width="0.57"/>
<line x1="15.1" y1="-10.1" x2="1.4" y2="90.7" stroke="#575757" stroke-width="0.80"/>
<line x1="14.0" y1="-10.2" x2="0.3" y2="90.6" stroke="#656565" stroke-width="0.65"/>
<polygon points="25.7,-10.5 6.5,90.1 13.8,91.5 33.0,-9.1" fill="#6b6b6b" />
<line x1="32.3" y1="-9.3" x2="13.0" y2="91.4" stroke="#969696" stroke-width="0.91"/>
<line x1="31.4" y1="-9.4" x2="12.1" y2="91.2" stroke="#9f9f9f" stroke-width="0.94"/>
<line x1="30.7" y1="-9.6" x2="11.5" y2="91.1" stroke="#b0b0b0" stroke-width="1.02"/>
<line x1="29.9" y1="-9.7" x2="10.7" y2="90.9" stroke="#a8a8a8" stroke-width="0.90"/>
<line x1="29.0" y1="-9.9" x2="9.7" y2="90.7" stroke="#9d9d9d" stroke-width="0.80"/>
<line x1="27.9" y1="-10.1" x2="8.7" y2="90.5" stroke="#969696" stroke-width="0.96"/>
<line x1="27.3" y1="-10.2" x2="8.0" y2="90.4" stroke="#a4a4a4" stroke-width="0.99"/>
<line x1="26.4" y1="-10.4" x2="7.1" y2="90.2" stroke="#888888" stroke-width="1.00"/>
<polygon points="41.5,-10.7 15.4,89.6 23.5,91.7 49.6,-8.6" fill="#545454" />
<line x1="48.9" y1="-8.8" x2="22.9" y2="91.6" stroke="#656565" stroke-width="0.67"/>
<line x1="48.3" y1="-9.0" x2="22.3" y2="91.4" stroke="#777777" stroke-width="0.64"/>
<line x1="47.3" y1="-9.2" x2="21.3" y2="91.1" stroke="#676767" stroke-width="1.00"/>
<line x1="46.7" y1="-9.4" x2="20.7" y2="91.0" stroke="#8e8e8e" stroke-width="0.90"/>
<line x1="45.9" y1="-9.6" x2="19.9" y2="90.8" stroke="#797979" stroke-width="0.87"/>
<line x1="45.1" y1="-9.8" x2="19.1" y2="90.6" stroke="#6f6f6f" stroke-width="0.66"/>
<line x1="44.4" y1="-10.0" x2="18.3" y2="90.4" stroke="#8d8d8d" stroke-width="0.86"/>
<line x1="43.7" y1="-10.1" x2="17.7" y2="90.2" stroke="#848484" stroke-width="0.91"/>
<line x1="42.7" y1="-10.4" x2="16.6" y2="89.9" stroke="#5b5b5b" stroke-width="0.92"/>
<line x1="42.2" y1="-10.5" x2="16.2" y2="89.8" stroke="#6f6f6f" stroke-width="0.69"/>
<polygon points="125.0,-12.7 85.7,86.9 103.0,93.7 142.3,-5.9" fill="#444444" />
<line x1="141.6" y1="-6.2" x2="102.3" y2="93.4" stroke="#616161" stroke-width="0.61"/>
<line x1="140.8" y1="-6.5" x2="101.4" y2="93.1" stroke="#646464" stroke-width="0.68"/>
<line x1="140.1" y1="-6.7" x2="100.8" y2="92.9" stroke="#676767" stroke-width="0.76"/>
<line x1="139.2" y1="-7.1" x2="99.8" y2="92.5" stroke="#3e3e3e" stroke-width="0.73"/>
<line x1="138.7" y1="-7.3" x2="99.3" y2="92.3" stroke="#626262" stroke-width="0.60"/>
<line x1="137.6" y1="-7.7" x2="98.3" y2="91.9" stroke="#424242" stroke-width="0.91"/>
<line x1="137.2" y1="-7.9" x2="97.9" y2="91.7" stroke="#4f4f4f" stroke-width="0.95"/>
<line x1="136.4" y1="-8.2" x2="97.1" y2="91.4" stroke="#4d4d4d" stroke-width="0.89"/>
<line x1="135.6" y1="-8.5" x2="96.2" y2="91.1" stroke="#474747" stroke-width="1.04"/>
<line x1="134.9" y1="-8.8" x2="95.6" y2="90.8" stroke="#474747" stroke-width="0.73"/>
<line x1="134.0" y1="-9.2" x2="94.7" y2="90.4" stroke="#6c6c6c" stroke-width="0.61"/>
<line x1="133.4" y1="-9.4" x2="94.0" y2="90.2" stroke="#474747" stroke-width="0.78"/>
<line x1="132.5" y1="-9.8" x2="93.1" y2="89.8" stroke="#6c6c6c" stroke-width="0.99"/>
<line x1="131.7" y1="-10.1" x2="92.4" y2="89.5" stroke="#727272" stroke-width="0.90"/>
<line x1="131.1" y1="-10.3" x2="91.7" y2="89.3" stroke="#4f4f4f" stroke-width="0.88"/>
<line x1="130.4" y1="-10.6" x2="91.0" y2="89.0" stroke="#484848" stroke-width="0.77"/>
<line x1="129.4" y1="-11.0" x2="90.1" y2="88.6" stroke="#474747" stroke-width="0.84"/>
<line x1="128.9" y1="-11.2" x2="89.5" y2="88.4" stroke="#5a5a5a" stroke-width="0.63"/>
<line x1="127.9" y1="-11.6" x2="88.6" y2="88.0" stroke="#494949" stroke-width="0.85"/>
<line x1="127.4" y1="-11.8" x2="88.0" y2="87.8" stroke="#3b3b3b" stroke-width="0.83"/>
<line x1="126.7" y1="-12.1" x2="87.4" y2="87.5" stroke="#3a3a3a" stroke-width="0.58"/>
<line x1="126.0" y1="-12.3" x2="86.6" y2="87.3" stroke="#393939" stroke-width="0.86"/>
<polygon points="99.9,-12.1 59.3,87.5 73.1,93.1 113.7,-6.5" fill="#515151" />
<line x1="112.9" y1="-6.8" x2="72.4" y2="92.8" stroke="#787878" stroke-width="1.01"/>
<line x1="112.0" y1="-7.1" x2="71.4" y2="92.4" stroke="#575757" stroke-width="0.77"/>
<line x1="111.5" y1="-7.3" x2="70.9" y2="92.2" stroke="#6c6c6c" stroke-width="0.86"/>
<line x1="110.5" y1="-7.7" x2="70.0" y2="91.8" stroke="#777777" stroke-width="0.68"/>
<line x1="109.9" y1="-8.0" x2="69.3" y2="91.5" stroke="#707070" stroke-width="0.56"/>
<line x1="109.3" y1="-8.2" x2="68.7" y2="91.3" stroke="#6c6c6c" stroke-width="0.61"/>
<line x1="108.2" y1="-8.7" x2="67.7" y2="90.9" stroke="#656565" stroke-width="0.61"/>
<line x1="107.7" y1="-8.9" x2="67.1" y2="90.6" stroke="#656565" stroke-width="0.66"/>
<line x1="106.8" y1="-9.3" x2="66.2" y2="90.3" stroke="#727272" stroke-width="0.71"/>
<line x1="106.0" y1="-9.6" x2="65.4" y2="89.9" stroke="#646464" stroke-width="1.00"/>
<line x1="105.1" y1="-10.0" x2="64.5" y2="89.6" stroke="#7e7e7e" stroke-width="0.77"/>
<line x1="104.5" y1="-10.2" x2="63.9" y2="89.3" stroke="#757575" stroke-width="0.58"/>
<line x1="103.7" y1="-10.5" x2="63.2" y2="89.0" stroke="#707070" stroke-width="0.65"/>
<line x1="103.1" y1="-10.8" x2="62.5" y2="88.8" stroke="#7c7c7c" stroke-width="0.74"/>
<line x1="102.1" y1="-11.1" x2="61.6" y2="88.4" stroke="#7e7e7e" stroke-width="0.85"/>
<line x1="101.5" y1="-11.4" x2="60.9" y2="88.1" stroke="#7e7e7e" stroke-width="0.74"/>
<line x1="100.8" y1="-11.7" x2="60.2" y2="87.8" stroke="#6a6a6a" stroke-width="0.61"/>
<polygon points="86.8,-11.8 40.9,87.3 52.7,92.8 98.6,-6.3" fill="#7b7b7b" />
<line x1="98.0" y1="-6.6" x2="52.1" y2="92.5" stroke="#a6a6a6" stroke-width="0.88"/>
<line x1="97.4" y1="-6.9" x2="51.5" y2="92.2" stroke="#999999" stroke-width="0.76"/>
<line x1="96.4" y1="-7.3" x2="50.5" y2="91.8" stroke="#959595" stroke-width="0.84"/>
<line x1="95.8" y1="-7.6" x2="49.9" y2="91.5" stroke="#9e9e9e" stroke-width="0.74"/>
<line x1="94.8" y1="-8.1" x2="48.9" y2="91.0" stroke="#9a9a9a" stroke-width="0.92"/>
<line x1="94.3" y1="-8.3" x2="48.4" y2="90.8" stroke="#b6b6b6" stroke-width="0.75"/>
<line x1="93.5" y1="-8.7" x2="47.6" y2="90.4" stroke="#c1c1c1" stroke-width="0.75"/>
<line x1="92.8" y1="-9.0" x2="46.9" y2="90.1" stroke="#a1a1a1" stroke-width="0.60"/>
<line x1="91.8" y1="-9.5" x2="45.9" y2="89.7" stroke="#bbbbbb" stroke-width="1.02"/>
<line x1="91.1" y1="-9.8" x2="45.2" y2="89.3" stroke="#999999" stroke-width="0.88"/>
<line x1="90.4" y1="-10.2" x2="44.5" y2="89.0" stroke="#bababa" stroke-width="0.80"/>
<line x1="89.8" y1="-10.4" x2="43.9" y2="88.7" stroke="#a9a9a9" stroke-width="0.94"/>
<line x1="89.0" y1="-10.8" x2="43.1" y2="88.4" stroke="#a7a7a7" stroke-width="0.79"/>
<line x1="88.0" y1="-11.2" x2="42.1" y2="87.9" stroke="#acacac" stroke-width="1.01"/>
<line x1="87.3" y1="-11.6" x2="41.4" y2="87.6" stroke="#898989" stroke-width="0.67"/>
<polygon points="61.3,-12.2 22.0,87.4 36.7,93.2 76.0,-6.4" fill="#878787" />
<line x1="75.3" y1="-6.7" x2="35.9" y2="92.9" stroke="#959595" stroke-width="0.77"/>
<line x1="74.4" y1="-7.0" x2="35.1" y2="92.6" stroke="#c0c0c0" stroke-width="0.84"/>
<line x1="73.6" y1="-7.4" x2="34.3" y2="92.2" stroke="#9c9c9c" stroke-width="0.73"/>
<line x1="72.8" y1="-7.7" x2="33.4" y2="91.9" stroke="#a4a4a4" stroke-width="0.76"/>
<line x1="72.3" y1="-7.9" x2="33.0" y2="91.7" stroke="#a4a4a4" stroke-width="0.99"/>
<line x1="71.2" y1="-8.3" x2="31.9" y2="91.3" stroke="#c7c7c7" stroke-width="0.62"/>
<line x1="70.7" y1="-8.5" x2="31.3" y2="91.1" stroke="#b3b3b3" stroke-width="0.88"/>
<line x1="69.8" y1="-8.9" x2="30.4" y2="90.7" stroke="#c0c0c0" stroke-width="0.81"/>
<line x1="69.2" y1="-9.1" x2="29.9" y2="90.5" stroke="#c6c6c6" stroke-width="1.02"/>
<line x1="68.2" y1="-9.5" x2="28.8" y2="90.1" stroke="#aeaeae" stroke-width="0.81"/>
<line x1="67.4" y1="-9.8" x2="28.1" y2="89.8" stroke="#b6b6b6" stroke-width="0.99"/>
<line x1="66.7" y1="-10.1" x2="27.4" y2="89.5" stroke="#cccccc" stroke-width="0.75"/>
<line x1="65.8" y1="-10.4" x2="26.4" y2="89.2" stroke="#cccccc" stroke-width="0.84"/>
<line x1="65.3" y1="-10.6" x2="26.0" y2="89.0" stroke="#b8b8b8" stroke-width="0.57"/>
<line x1="64.4" y1="-11.0" x2="25.0" y2="88.6" stroke="#c9c9c9" stroke-width="0.65"/>
<line x1="63.6" y1="-11.3" x2="24.3" y2="88.3" stroke="#afafaf" stroke-width="0.75"/>
<line x1="62.8" y1="-11.6" x2="23.4" y2="88.0" stroke="#c0c0c0" stroke-width="0.90"/>
<line x1="62.1" y1="-11.9" x2="22.7" y2="87.7" stroke="#bababa" stroke-width="0.72"/>
</g>
<rect x="438" y="11" width="108.2" height="81.0" filter="url(#grain)" opacity="0.6" style="mix-blend-mode:overlay"/>
</g>
<rect x="438" y="92.0" width="108.2" height="5.2" fill="#050505"/>
<g fill="#aaa" font-size="1.7" font-weight="normal"><text x="483.4" y="95.7">x 100</text><text x="498.6" y="95.7">0 3mm</text><text x="531.1" y="95.7">HV 1kV</text></g>
<rect x="513.7" y="92.8" width="9.7" height="1" fill="#eee"/>
<rect x="440" y="12" width="13.5" height="14" fill="#fff"/>
<text x="446.8" y="21.5" font-size="8" text-anchor="middle" font-family="Liberation Serif,serif" fill="#333">b</text>
<clipPath id="clc"><rect x="326" y="104.3" width="108.0" height="80.5"/></clipPath>
<g clip-path="url(#clc)">
<rect x="326" y="104.3" width="108.0" height="80.5" fill="#6e6e6e"/>
<g transform="translate(326,104.3)" filter="url(#bl0)">
<ellipse cx="95" cy="2" rx="20" ry="6" fill="#404040" transform="rotate(0 95 2)" opacity="1"/>
<ellipse cx="78" cy="64" rx="14" ry="8" fill="#505050" transform="rotate(-20 78 64)" opacity="1"/>
<ellipse cx="60" cy="72" rx="8" ry="5" fill="#484848" transform="rotate(0 60 72)" opacity="1"/>
<ellipse cx="25.0" cy="20.0" rx="48.0" ry="16.0" transform="rotate(-5 25.0 20.0)" fill="#737373"/>
<path d="M10.1,6.0Q23.9,7.2 37.3,3.6" stroke="#989898" stroke-width="0.85" fill="none"/>
<path d="M5.3,7.4Q24.0,8.1 42.2,4.1" stroke="#5c5c5c" stroke-width="0.96" fill="none"/>
<path d="M1.8,8.3Q24.0,8.8 45.8,4.5" stroke="#b5b5b5" stroke-width="0.79" fill="none"/>
<path d="M-3.0,9.7Q24.1,9.8 50.8,5.0" stroke="#787878" stroke-width="0.63" fill="none"/>
<path d="M-7.1,10.8Q24.2,10.5 55.0,5.4" stroke="#a5a5a5" stroke-width="0.92" fill="none"/>
<path d="M-5.4,11.4Q24.2,11.2 53.4,6.3" stroke="#7f7f7f" stroke-width="0.84" fill="none"/>
<path d="M-6.6,12.2Q24.3,11.9 54.8,6.8" stroke="#b5b5b5" stroke-width="0.79" fill="none"/>
<path d="M-13.4,13.7Q24.4,12.8 61.7,7.1" stroke="#808080" stroke-width="1.00" fill="none"/>
<path d="M-14.2,14.4Q24.4,13.5 62.6,7.7" stroke="#a6a6a6" stroke-width="1.01" fill="none"/>
<path d="M-11.5,15.2Q24.5,14.4 60.1,8.9" stroke="#6b6b6b" stroke-width="0.66" fill="none"/>
<path d="M-14.7,16.3Q24.6,15.2 63.5,9.4" stroke="#afafaf" stroke-width="0.70" fill="none"/>
<path d="M-15.1,16.9Q24.6,15.8 64.0,10.0" stroke="#757575" stroke-width="0.84" fill="none"/>
<path d="M-19.4,18.1Q24.7,16.6 68.4,10.4" stroke="#b2b2b2" stroke-width="1.01" fill="none"/>
<path d="M-20.9,19.1Q24.8,17.5 70.0,11.1" stroke="#838383" stroke-width="0.64" fill="none"/>
<path d="M-21.3,19.9Q24.8,18.3 70.6,11.9" stroke="#bdbdbd" stroke-width="0.83" fill="none"/>
<path d="M-16.5,20.2Q24.9,19.0 65.9,13.0" stroke="#8a8a8a" stroke-width="0.84" fill="none"/>
<path d="M-15.7,20.7Q25.0,19.6 65.2,13.7" stroke="#bbbbbb" stroke-width="1.04" fill="none"/>
<path d="M-21.2,21.9Q25.0,20.3 70.8,13.9" stroke="#7a7a7a" stroke-width="0.63" fill="none"/>
<path d="M-21.1,22.8Q25.1,21.1 70.9,14.7" stroke="#bcbcbc" stroke-width="0.58" fill="none"/>
<path d="M-16.0,23.2Q25.2,22.0 65.9,16.1" stroke="#868686" stroke-width="0.72" fill="none"/>
<path d="M-22.6,24.7Q25.3,22.9 72.7,16.4" stroke="#aeaeae" stroke-width="1.04" fill="none"/>
<path d="M-16.0,24.7Q25.3,23.5 66.2,17.5" stroke="#818181" stroke-width="0.58" fill="none"/>
<path d="M-18.1,25.6Q25.4,24.2 68.4,18.0" stroke="#b2b2b2" stroke-width="0.63" fill="none"/>
<path d="M-21.1,26.6Q25.4,24.9 71.5,18.5" stroke="#767676" stroke-width="1.02" fill="none"/>
<path d="M-16.9,27.3Q25.5,26.0 67.5,19.9" stroke="#ababab" stroke-width="0.81" fill="none"/>
<path d="M-17.9,28.1Q25.6,26.7 68.6,20.5" stroke="#7f7f7f" stroke-width="0.86" fill="none"/>
<path d="M-16.4,28.9Q25.7,27.6 67.3,21.5" stroke="#a9a9a9" stroke-width="0.91" fill="none"/>
<path d="M-14.5,29.2Q25.7,28.1 65.5,22.2" stroke="#8e8e8e" stroke-width="0.81" fill="none"/>
<path d="M-11.5,29.8Q25.8,29.0 62.7,23.3" stroke="#a7a7a7" stroke-width="0.84" fill="none"/>
<path d="M-14.6,30.7Q25.8,29.5 65.9,23.6" stroke="#7f7f7f" stroke-width="0.59" fill="none"/>
<path d="M-12.1,31.5Q25.9,30.6 63.5,24.9" stroke="#b0b0b0" stroke-width="0.73" fill="none"/>
<path d="M-12.2,32.3Q26.0,31.4 63.8,25.7" stroke="#656565" stroke-width="0.59" fill="none"/>
<path d="M-11.8,33.0Q26.1,32.1 63.5,26.4" stroke="#9d9d9d" stroke-width="0.78" fill="none"/>
<path d="M-6.5,33.3Q26.1,32.9 58.3,27.6" stroke="#717171" stroke-width="0.71" fill="none"/>
<path d="M-6.1,34.0Q26.2,33.5 58.1,28.4" stroke="#9d9d9d" stroke-width="0.74" fill="none"/>
<path d="M-0.6,34.4Q26.3,34.5 52.7,29.8" stroke="#767676" stroke-width="0.91" fill="none"/>
<path d="M0.5,34.9Q26.3,35.1 51.7,30.4" stroke="#afafaf" stroke-width="0.67" fill="none"/>
<path d="M2.5,35.5Q26.4,35.8 49.9,31.3" stroke="#797979" stroke-width="0.61" fill="none"/>
<path d="M6.9,35.9Q26.5,36.6 45.6,32.5" stroke="#adadad" stroke-width="0.77" fill="none"/>
<path d="M13.9,36.3Q26.5,37.6 38.8,34.1" stroke="#676767" stroke-width="0.87" fill="none"/>
<ellipse cx="82.0" cy="26.0" rx="42.0" ry="14.0" transform="rotate(18 82.0 26.0)" fill="#737373"/>
<path d="M72.8,9.3Q86.7,11.6 99.3,17.9" stroke="#939393" stroke-width="0.62" fill="none"/>
<path d="M69.7,8.9Q86.5,12.2 102.0,19.4" stroke="#7c7c7c" stroke-width="0.96" fill="none"/>
<path d="M66.6,8.6Q86.3,12.8 104.7,21.0" stroke="#adadad" stroke-width="0.87" fill="none"/>
<path d="M62.5,8.3Q86.0,13.7 108.2,23.1" stroke="#646464" stroke-width="0.70" fill="none"/>
<path d="M60.4,8.4Q85.8,14.4 109.8,24.5" stroke="#9e9e9e" stroke-width="0.76" fill="none"/>
<path d="M58.1,8.3Q85.6,15.0 111.8,25.7" stroke="#868686" stroke-width="0.63" fill="none"/>
<path d="M54.1,7.6Q85.4,15.6 115.4,27.5" stroke="#b6b6b6" stroke-width="1.03" fill="none"/>
<path d="M51.8,7.8Q85.1,16.4 117.1,29.0" stroke="#898989" stroke-width="0.67" fill="none"/>
<path d="M50.6,8.3Q84.8,17.3 117.8,30.2" stroke="#b0b0b0" stroke-width="0.81" fill="none"/>
<path d="M52.1,9.5Q84.7,17.8 115.9,30.2" stroke="#6f6f6f" stroke-width="0.59" fill="none"/>
<path d="M51.1,10.0Q84.4,18.7 116.4,31.3" stroke="#b7b7b7" stroke-width="0.58" fill="none"/>
<path d="M47.6,9.8Q84.1,19.5 119.3,33.1" stroke="#8c8c8c" stroke-width="0.99" fill="none"/>
<path d="M47.4,10.6Q83.9,20.2 119.1,33.9" stroke="#999999" stroke-width="0.92" fill="none"/>
<path d="M48.5,11.4Q83.7,20.6 117.7,33.9" stroke="#838383" stroke-width="0.81" fill="none"/>
<path d="M44.0,10.8Q83.5,21.5 121.7,36.1" stroke="#b1b1b1" stroke-width="0.72" fill="none"/>
<path d="M43.9,11.5Q83.3,22.1 121.3,36.7" stroke="#7c7c7c" stroke-width="0.94" fill="none"/>
<path d="M47.4,13.5Q83.0,22.9 117.4,36.2" stroke="#afafaf" stroke-width="0.95" fill="none"/>
<path d="M43.5,13.0Q82.8,23.5 120.8,38.1" stroke="#8e8e8e" stroke-width="0.95" fill="none"/>
<path d="M47.9,15.4Q82.5,24.5 115.8,37.5" stroke="#b3b3b3" stroke-width="0.97" fill="none"/>
<path d="M46.2,15.4Q82.4,24.9 117.2,38.4" stroke="#747474" stroke-width="0.81" fill="none"/>
<path d="M45.0,15.9Q82.1,25.8 117.9,39.6" stroke="#b8b8b8" stroke-width="0.56" fill="none"/>
<path d="M47.1,17.2Q81.9,26.3 115.4,39.4" stroke="#6e6e6e" stroke-width="0.59" fill="none"/>
<path d="M43.1,17.1Q81.5,27.4 118.7,41.7" stroke="#9c9c9c" stroke-width="0.80" fill="none"/>
<path d="M46.5,18.7Q81.4,27.9 115.0,41.0" stroke="#767676" stroke-width="0.87" fill="none"/>
<path d="M46.7,19.7Q81.1,28.7 114.3,41.7" stroke="#9f9f9f" stroke-width="0.72" fill="none"/>
<path d="M46.0,20.1Q80.9,29.2 114.6,42.4" stroke="#838383" stroke-width="0.74" fill="none"/>
<path d="M48.7,21.8Q80.7,29.9 111.4,42.1" stroke="#a5a5a5" stroke-width="0.85" fill="none"/>
<path d="M48.8,22.9Q80.4,30.9 110.7,43.0" stroke="#858585" stroke-width="0.86" fill="none"/>
<path d="M49.7,23.8Q80.2,31.5 109.4,43.2" stroke="#a8a8a8" stroke-width="0.90" fill="none"/>
<path d="M49.3,24.5Q80.0,32.2 109.3,44.0" stroke="#757575" stroke-width="0.68" fill="none"/>
<path d="M50.9,25.8Q79.7,33.0 107.2,44.1" stroke="#949494" stroke-width="0.76" fill="none"/>
<path d="M51.9,26.9Q79.5,33.7 105.9,44.4" stroke="#868686" stroke-width="0.74" fill="none"/>
<path d="M55.0,28.9Q79.2,34.6 102.2,44.2" stroke="#999999" stroke-width="0.78" fill="none"/>
<path d="M56.5,29.8Q79.1,35.0 100.4,44.1" stroke="#787878" stroke-width="0.99" fill="none"/>
<path d="M61.4,32.5Q78.8,36.0 94.9,43.4" stroke="#a9a9a9" stroke-width="0.83" fill="none"/>
<path d="M64.4,34.0Q78.6,36.4 91.6,42.8" stroke="#5b5b5b" stroke-width="0.63" fill="none"/>
<ellipse cx="24.0" cy="60.0" rx="40.0" ry="16.0" transform="rotate(28 24.0 60.0)" fill="#6e6e6e"/>
<path d="M20.6,41.2Q29.2,50.3 41.5,52.3" stroke="#898989" stroke-width="0.61" fill="none"/>
<path d="M16.4,39.9Q28.8,51.0 44.9,55.0" stroke="#585858" stroke-width="0.96" fill="none"/>
<path d="M12.7,38.5Q28.6,51.4 48.2,57.3" stroke="#a3a3a3" stroke-width="0.96" fill="none"/>
<path d="M9.6,38.0Q28.0,52.4 50.3,59.7" stroke="#7a7a7a" stroke-width="0.58" fill="none"/>
<path d="M7.8,37.9Q27.7,53.0 51.4,61.1" stroke="#a7a7a7" stroke-width="0.61" fill="none"/>
<path d="M4.2,36.8Q27.4,53.7 54.3,63.5" stroke="#5e5e5e" stroke-width="0.72" fill="none"/>
<path d="M2.9,36.9Q27.0,54.3 55.0,64.6" stroke="#979797" stroke-width="0.65" fill="none"/>
<path d="M2.3,37.4Q26.7,54.9 54.9,65.3" stroke="#7c7c7c" stroke-width="0.75" fill="none"/>
<path d="M1.6,37.9Q26.3,55.6 54.8,66.2" stroke="#9d9d9d" stroke-width="0.76" fill="none"/>
<path d="M-0.0,37.8Q26.0,56.2 55.8,67.5" stroke="#878787" stroke-width="0.76" fill="none"/>
<path d="M-0.1,39.0Q25.5,57.1 54.9,68.2" stroke="#adadad" stroke-width="0.92" fill="none"/>
<path d="M-2.8,38.3Q25.2,57.8 57.0,70.1" stroke="#757575" stroke-width="0.87" fill="none"/>
<path d="M-2.2,39.7Q24.8,58.5 55.5,70.3" stroke="#969696" stroke-width="0.92" fill="none"/>
<path d="M-4.9,39.1Q24.4,59.2 57.5,72.3" stroke="#757575" stroke-width="0.91" fill="none"/>
<path d="M-4.2,40.0Q24.2,59.7 56.3,72.2" stroke="#9b9b9b" stroke-width="0.84" fill="none"/>
<path d="M-4.8,40.7Q23.8,60.4 56.1,73.0" stroke="#7f7f7f" stroke-width="1.02" fill="none"/>
<path d="M-7.9,39.9Q23.4,61.1 58.6,75.2" stroke="#a4a4a4" stroke-width="0.97" fill="none"/>
<path d="M-6.3,41.7Q23.0,61.8 56.1,74.9" stroke="#6d6d6d" stroke-width="0.57" fill="none"/>
<path d="M-7.4,42.0Q22.7,62.5 56.5,76.0" stroke="#9b9b9b" stroke-width="0.73" fill="none"/>
<path d="M-9.9,41.5Q22.3,63.1 58.3,77.7" stroke="#6a6a6a" stroke-width="1.04" fill="none"/>
<path d="M-9.4,42.7Q21.9,63.9 57.0,78.0" stroke="#a7a7a7" stroke-width="0.96" fill="none"/>
<path d="M-9.5,43.7Q21.5,64.7 56.3,78.6" stroke="#787878" stroke-width="0.91" fill="none"/>
<path d="M-8.8,44.9Q21.1,65.4 54.9,78.8" stroke="#b2b2b2" stroke-width="1.02" fill="none"/>
<path d="M-8.1,46.0Q20.9,65.9 53.5,78.8" stroke="#6d6d6d" stroke-width="0.90" fill="none"/>
<path d="M-11.9,45.0Q20.4,66.7 56.5,81.3" stroke="#b6b6b6" stroke-width="0.68" fill="none"/>
<path d="M-8.3,47.5Q20.2,67.2 52.4,79.8" stroke="#6b6b6b" stroke-width="0.90" fill="none"/>
<path d="M-11.3,47.1Q19.7,68.1 54.5,82.1" stroke="#9d9d9d" stroke-width="0.98" fill="none"/>
<path d="M-8.8,49.1Q19.4,68.6 51.4,81.1" stroke="#7f7f7f" stroke-width="0.60" fill="none"/>
<path d="M-10.6,48.9Q19.1,69.2 52.5,82.4" stroke="#9d9d9d" stroke-width="0.73" fill="none"/>
<path d="M-9.3,50.7Q18.6,70.1 50.3,82.4" stroke="#616161" stroke-width="0.72" fill="none"/>
<path d="M-7.9,52.2Q18.3,70.7 48.3,82.1" stroke="#989898" stroke-width="0.84" fill="none"/>
<path d="M-6.7,54.0Q17.8,71.6 46.1,82.1" stroke="#757575" stroke-width="0.62" fill="none"/>
<path d="M-7.3,54.2Q17.6,72.0 46.3,82.7" stroke="#939393" stroke-width="0.99" fill="none"/>
<path d="M-3.8,57.3Q17.1,72.9 41.8,81.5" stroke="#828282" stroke-width="0.74" fill="none"/>
<path d="M-5.3,57.3Q16.8,73.6 42.6,82.8" stroke="#979797" stroke-width="0.88" fill="none"/>
<path d="M-4.1,58.7Q16.4,74.2 40.8,82.6" stroke="#656565" stroke-width="0.92" fill="none"/>
<path d="M-1.7,61.0Q16.0,75.0 37.5,81.9" stroke="#9e9e9e" stroke-width="0.61" fill="none"/>
<path d="M0.8,63.0Q15.7,75.5 34.5,81.0" stroke="#757575" stroke-width="0.89" fill="none"/>
<path d="M3.7,65.5Q15.4,76.2 30.8,79.9" stroke="#a0a0a0" stroke-width="0.86" fill="none"/>
<path d="M4.9,66.8Q15.1,76.8 29.0,79.7" stroke="#6f6f6f" stroke-width="0.62" fill="none"/>
<ellipse cx="90.0" cy="66.0" rx="30.0" ry="12.0" transform="rotate(-30 90.0 66.0)" fill="#5a5a5a"/>
<path d="M75.8,61.4Q84.5,56.4 93.2,51.4" stroke="#7f7f7f" stroke-width="0.91" fill="none"/>
<path d="M72.8,63.9Q84.8,57.0 96.7,50.1" stroke="#5d5d5d" stroke-width="0.78" fill="none"/>
<path d="M71.9,65.2Q85.1,57.5 98.3,49.9" stroke="#787878" stroke-width="0.90" fill="none"/>
<path d="M69.2,67.8Q85.6,58.4 102.0,48.9" stroke="#656565" stroke-width="0.73" fill="none"/>
<path d="M68.7,68.8Q85.9,58.9 103.0,49.0" stroke="#9b9b9b" stroke-width="0.58" fill="none"/>
<path d="M68.1,70.1Q86.3,59.6 104.5,49.1" stroke="#696969" stroke-width="0.73" fill="none"/>
<path d="M67.0,71.6Q86.7,60.2 106.3,48.9" stroke="#919191" stroke-width="0.93" fill="none"/>
<path d="M64.9,73.7Q87.1,60.9 109.2,48.1" stroke="#515151" stroke-width="0.69" fill="none"/>
<path d="M67.1,73.2Q87.4,61.5 107.7,49.8" stroke="#9c9c9c" stroke-width="0.91" fill="none"/>
<path d="M66.6,74.5Q87.8,62.2 109.0,49.9" stroke="#5f5f5f" stroke-width="0.92" fill="none"/>
<path d="M64.3,76.9Q88.3,63.1 112.3,49.2" stroke="#979797" stroke-width="0.63" fill="none"/>
<path d="M66.4,76.4Q88.6,63.6 110.8,50.8" stroke="#656565" stroke-width="0.83" fill="none"/>
<path d="M66.3,77.3Q89.0,64.2 111.7,51.1" stroke="#9f9f9f" stroke-width="0.57" fill="none"/>
<path d="M64.0,79.8Q89.5,65.1 114.9,50.4" stroke="#767676" stroke-width="0.74" fill="none"/>
<path d="M65.5,79.7Q89.8,65.7 114.2,51.6" stroke="#9a9a9a" stroke-width="1.03" fill="none"/>
<path d="M67.0,79.8Q90.2,66.4 113.5,53.0" stroke="#737373" stroke-width="0.79" fill="none"/>
<path d="M65.8,81.4Q90.6,67.0 115.4,52.7" stroke="#808080" stroke-width="0.93" fill="none"/>
<path d="M67.3,81.4Q91.0,67.7 114.7,54.1" stroke="#656565" stroke-width="0.78" fill="none"/>
<path d="M67.7,81.9Q91.3,68.2 114.9,54.6" stroke="#818181" stroke-width="0.80" fill="none"/>
<path d="M69.0,82.2Q91.8,69.1 114.5,55.9" stroke="#666666" stroke-width="1.02" fill="none"/>
<path d="M71.2,82.0Q92.2,69.8 113.2,57.7" stroke="#9e9e9e" stroke-width="0.86" fill="none"/>
<path d="M71.0,82.6Q92.4,70.2 113.9,57.8" stroke="#575757" stroke-width="0.60" fill="none"/>
<path d="M70.5,84.0Q92.9,71.1 115.4,58.1" stroke="#898989" stroke-width="0.98" fill="none"/>
<path d="M74.5,82.6Q93.3,71.8 112.1,60.9" stroke="#6d6d6d" stroke-width="0.85" fill="none"/>
<path d="M74.4,83.7Q93.8,72.5 113.1,61.4" stroke="#979797" stroke-width="0.72" fill="none"/>
<path d="M75.5,83.9Q94.1,73.2 112.8,62.4" stroke="#6b6b6b" stroke-width="0.77" fill="none"/>
<path d="M78.7,82.9Q94.5,73.8 110.3,64.7" stroke="#7b7b7b" stroke-width="0.58" fill="none"/>
<path d="M80.9,82.3Q94.8,74.3 108.7,66.2" stroke="#4c4c4c" stroke-width="0.80" fill="none"/>
<path d="M83.8,81.8Q95.3,75.1 106.8,68.5" stroke="#848484" stroke-width="0.87" fill="none"/>
<path d="M86.9,80.7Q95.6,75.7 104.3,70.6" stroke="#606060" stroke-width="0.75" fill="none"/>
<ellipse cx="52.0" cy="44.0" rx="44.0" ry="12.0" transform="rotate(8 52.0 44.0)" fill="#7d7d7d"/>
<path d="M40.0,30.8Q53.6,32.7 67.2,34.6" stroke="#b1b1b1" stroke-width="0.74" fill="none"/>
<path d="M34.0,30.8Q53.5,33.6 72.9,36.3" stroke="#7e7e7e" stroke-width="0.67" fill="none"/>
<path d="M31.7,31.1Q53.4,34.2 75.1,37.2" stroke="#b7b7b7" stroke-width="0.63" fill="none"/>
<path d="M27.7,31.6Q53.2,35.1 78.8,38.7" stroke="#727272" stroke-width="0.64" fill="none"/>
<path d="M25.3,32.0Q53.1,35.9 81.0,39.8" stroke="#9c9c9c" stroke-width="0.61" fill="none"/>
<path d="M21.6,32.2Q53.0,36.6 84.4,41.0" stroke="#6f6f6f" stroke-width="0.57" fill="none"/>
<path d="M19.8,32.8Q52.9,37.4 86.0,42.1" stroke="#bababa" stroke-width="0.58" fill="none"/>
<path d="M18.2,33.3Q52.8,38.2 87.4,43.1" stroke="#707070" stroke-width="1.02" fill="none"/>
<path d="M18.7,34.1Q52.7,38.9 86.7,43.7" stroke="#b3b3b3" stroke-width="0.64" fill="none"/>
<path d="M15.8,34.7Q52.6,39.8 89.4,45.0" stroke="#767676" stroke-width="0.58" fill="none"/>
<path d="M15.2,35.4Q52.5,40.6 89.7,45.9" stroke="#c2c2c2" stroke-width="0.78" fill="none"/>
<path d="M14.2,36.1Q52.4,41.5 90.5,46.8" stroke="#7d7d7d" stroke-width="0.69" fill="none"/>
<path d="M11.6,36.5Q52.3,42.2 92.9,47.9" stroke="#b1b1b1" stroke-width="0.60" fill="none"/>
<path d="M9.0,36.8Q52.2,42.9 95.3,49.0" stroke="#8b8b8b" stroke-width="0.56" fill="none"/>
<path d="M14.5,38.1Q52.1,43.4 89.7,48.7" stroke="#aaaaaa" stroke-width="0.58" fill="none"/>
<path d="M10.7,38.4Q52.0,44.2 93.3,50.0" stroke="#989898" stroke-width="0.66" fill="none"/>
<path d="M11.9,39.7Q51.8,45.3 91.7,50.9" stroke="#c3c3c3" stroke-width="1.00" fill="none"/>
<path d="M15.0,40.9Q51.7,46.1 88.4,51.2" stroke="#7f7f7f" stroke-width="0.85" fill="none"/>
<path d="M15.1,41.7Q51.6,46.9 88.1,52.0" stroke="#aeaeae" stroke-width="0.97" fill="none"/>
<path d="M13.5,42.0Q51.5,47.3 89.6,52.6" stroke="#808080" stroke-width="0.89" fill="none"/>
<path d="M15.9,43.4Q51.4,48.4 86.9,53.4" stroke="#bfbfbf" stroke-width="0.91" fill="none"/>
<path d="M14.6,44.0Q51.3,49.1 88.0,54.3" stroke="#959595" stroke-width="0.73" fill="none"/>
<path d="M17.4,45.0Q51.2,49.7 85.0,54.5" stroke="#bfbfbf" stroke-width="0.79" fill="none"/>
<path d="M19.0,45.9Q51.1,50.4 83.2,54.9" stroke="#8b8b8b" stroke-width="0.85" fill="none"/>
<path d="M20.0,47.0Q51.0,51.4 82.0,55.7" stroke="#b0b0b0" stroke-width="0.63" fill="none"/>
<path d="M23.8,48.3Q50.9,52.2 77.9,56.0" stroke="#7e7e7e" stroke-width="0.92" fill="none"/>
<path d="M25.8,49.4Q50.7,52.9 75.7,56.4" stroke="#a3a3a3" stroke-width="0.96" fill="none"/>
<path d="M25.7,50.2Q50.6,53.7 75.5,57.2" stroke="#8b8b8b" stroke-width="0.78" fill="none"/>
<path d="M31.1,51.8Q50.5,54.5 69.9,57.3" stroke="#a3a3a3" stroke-width="0.74" fill="none"/>
<path d="M35.2,52.8Q50.5,55.0 65.7,57.1" stroke="#8b8b8b" stroke-width="0.61" fill="none"/>
<polygon points="55.0,-1.0 109.0,-1.0 109.0,16.0 85.0,9.0 62.0,5.0" fill="#303030" />
<ellipse cx="80" cy="60" rx="12" ry="7" fill="#5c5c5c" transform="rotate(-20 80 60)" opacity="1"/>
<path d="M39.8,16.5Q54.2,-3.7 83.1,1.3" stroke="#a4a4a4" stroke-width="0.76" fill="none"/>
<path d="M34.2,5.5Q55.4,2.7 92.2,-3.6" stroke="#b4b4b4" stroke-width="0.82" fill="none"/>
<path d="M51.8,60.9Q56.2,52.1 78.7,66.9" stroke="#cccccc" stroke-width="0.54" fill="none"/>
<path d="M-24.8,83.6Q-9.0,77.3 29.9,72.9" stroke="#a8a8a8" stroke-width="0.84" fill="none"/>
<path d="M42.3,39.0Q62.2,54.9 90.6,65.0" stroke="#b5b5b5" stroke-width="0.54" fill="none"/>
<path d="M78.3,40.7Q91.3,47.1 102.2,55.6" stroke="#c6c6c6" stroke-width="0.52" fill="none"/>
<path d="M17.6,46.4Q44.0,37.1 57.2,32.0" stroke="#c1c1c1" stroke-width="0.74" fill="none"/>
<path d="M11.3,16.6Q21.2,16.8 35.0,40.1" stroke="#a8a8a8" stroke-width="0.56" fill="none"/>
<path d="M76.6,41.3Q103.7,70.9 124.5,76.4" stroke="#bbbbbb" stroke-width="0.67" fill="none"/>
<path d="M87.6,60.1Q110.0,70.5 117.1,86.2" stroke="#d6d6d6" stroke-width="0.88" fill="none"/>
<path d="M19.9,78.2Q37.8,69.9 43.2,73.2" stroke="#bababa" stroke-width="0.76" fill="none"/>
<path d="M-14.2,62.2Q0.0,67.1 22.9,58.5" stroke="#c7c7c7" stroke-width="0.61" fill="none"/>
<path d="M-0.4,23.5Q1.5,31.6 22.7,25.0" stroke="#c5c5c5" stroke-width="0.90" fill="none"/>
<path d="M92.6,70.7Q100.5,69.9 119.0,71.2" stroke="#bababa" stroke-width="0.72" fill="none"/>
<path d="M19.7,70.8Q49.7,77.7 58.0,67.4" stroke="#acacac" stroke-width="0.59" fill="none"/>
<path d="M67.3,6.4Q88.1,-8.5 107.0,-4.8" stroke="#9e9e9e" stroke-width="0.58" fill="none"/>
<path d="M64.5,20.0Q96.6,24.7 101.8,55.4" stroke="#a6a6a6" stroke-width="0.50" fill="none"/>
<path d="M27.2,35.0Q35.3,22.1 66.2,19.8" stroke="#a9a9a9" stroke-width="0.83" fill="none"/>
<path d="M27.9,28.0Q48.7,26.0 62.4,14.1" stroke="#d1d1d1" stroke-width="0.83" fill="none"/>
<path d="M4.0,-1.2Q27.0,20.3 49.5,23.1" stroke="#bcbcbc" stroke-width="0.61" fill="none"/>
<path d="M-8.0,-8.2Q29.6,0.5 44.5,10.9" stroke="#c2c2c2" stroke-width="0.88" fill="none"/>
<path d="M67.6,47.4Q78.7,39.9 108.2,50.2" stroke="#c4c4c4" stroke-width="0.91" fill="none"/>
<path d="M40.0,33.2Q67.6,31.7 78.2,32.9" stroke="#d4d4d4" stroke-width="0.56" fill="none"/>
<path d="M7.0,40.5Q43.2,54.4 61.0,44.1" stroke="#bfbfbf" stroke-width="0.50" fill="none"/>
<path d="M46.6,42.1Q67.9,56.1 77.4,47.0" stroke="#a1a1a1" stroke-width="0.77" fill="none"/>
<path d="M17.0,23.8Q44.1,33.2 63.2,59.6" stroke="#d2d2d2" stroke-width="0.57" fill="none"/>
<path d="M26.0,67.9Q54.0,79.5 56.8,66.3" stroke="#aeaeae" stroke-width="0.65" fill="none"/>
<path d="M1.1,14.5Q18.7,3.1 59.8,6.8" stroke="#a6a6a6" stroke-width="0.52" fill="none"/>
<path d="M38.0,47.6Q65.7,46.3 75.7,72.7" stroke="#ababab" stroke-width="0.89" fill="none"/>
<path d="M-7.7,19.3Q8.8,9.0 22.7,24.0" stroke="#a9a9a9" stroke-width="0.89" fill="none"/>
<path d="M-13.6,79.8Q20.5,77.5 44.7,66.9" stroke="#a3a3a3" stroke-width="0.51" fill="none"/>
<path d="M56.1,19.6Q92.5,1.6 107.9,8.9" stroke="#d4d4d4" stroke-width="0.71" fill="none"/>
<path d="M11.6,7.5Q35.2,-1.7 71.0,9.9" stroke="#a3a3a3" stroke-width="0.54" fill="none"/>
<path d="M25.0,78.8Q50.4,88.0 51.1,69.5" stroke="#d5d5d5" stroke-width="0.59" fill="none"/>
<path d="M14.5,73.3Q33.0,63.6 62.0,80.8" stroke="#afafaf" stroke-width="0.80" fill="none"/>
<path d="M63.9,43.4Q82.8,47.0 105.0,48.8" stroke="#cccccc" stroke-width="0.57" fill="none"/>
<path d="M53.0,67.9Q77.2,85.1 75.4,83.2" stroke="#a5a5a5" stroke-width="0.60" fill="none"/>
<path d="M8.7,-8.2Q32.3,-6.5 35.0,16.8" stroke="#9b9b9b" stroke-width="0.86" fill="none"/>
<path d="M66.9,72.3Q93.2,68.9 104.6,88.3" stroke="#bbbbbb" stroke-width="0.68" fill="none"/>
<path d="M-4.3,49.5Q12.3,43.5 35.9,47.8" stroke="#b0b0b0" stroke-width="0.74" fill="none"/>
<path d="M84.1,60.4Q99.9,89.2 127.7,91.3" stroke="#ababab" stroke-width="0.54" fill="none"/>
<path d="M31.2,59.8Q48.0,72.4 77.0,58.9" stroke="#b6b6b6" stroke-width="0.69" fill="none"/>
<path d="M42.6,56.6Q55.8,74.2 72.2,85.2" stroke="#9f9f9f" stroke-width="0.67" fill="none"/>
<path d="M66.2,72.6Q88.3,76.4 116.8,53.3" stroke="#b0b0b0" stroke-width="0.58" fill="none"/>
<path d="M32.0,69.1Q65.2,67.7 86.5,74.1" stroke="#adadad" stroke-width="0.70" fill="none"/>
<path d="M42.7,2.7Q45.5,20.3 43.5,57.7" stroke="#9e9e9e" stroke-width="0.65" fill="none"/>
<path d="M56.9,-2.1Q60.3,-1.9 75.8,24.7" stroke="#b1b1b1" stroke-width="0.88" fill="none"/>
<path d="M62.2,33.4Q69.3,58.1 53.2,86.1" stroke="#b9b9b9" stroke-width="0.54" fill="none"/>
<path d="M89.5,3.4Q89.1,22.0 100.6,57.9" stroke="#c2c2c2" stroke-width="0.74" fill="none"/>
<path d="M5.9,-7.3Q18.5,-6.6 12.5,11.9" stroke="#a1a1a1" stroke-width="0.65" fill="none"/>
<path d="M54.3,11.8Q53.5,23.7 56.2,58.2" stroke="#cbcbcb" stroke-width="0.78" fill="none"/>
<path d="M11.7,6.1Q-3.1,22.0 6.3,65.5" stroke="#adadad" stroke-width="0.67" fill="none"/>
<path d="M90.3,49.7Q98.9,77.7 102.9,84.2" stroke="#9d9d9d" stroke-width="0.65" fill="none"/>
<path d="M-8.3,29.5Q10.2,54.0 27.4,74.4" stroke="#969696" stroke-width="0.59" fill="none"/>
<path d="M48.5,53.9Q64.1,74.0 52.7,85.0" stroke="#b0b0b0" stroke-width="0.57" fill="none"/>
<path d="M21.3,55.4Q35.6,68.8 43.2,90.4" stroke="#bfbfbf" stroke-width="0.87" fill="none"/>
<path d="M87.4,49.9Q90.7,54.5 97.8,69.7" stroke="#9c9c9c" stroke-width="0.86" fill="none"/>
<path d="M26.8,54.7Q34.9,63.8 19.9,78.5" stroke="#9d9d9d" stroke-width="0.57" fill="none"/>
<path d="M-3.8,14.5Q13.4,28.0 11.9,66.3" stroke="#a9a9a9" stroke-width="0.65" fill="none"/>
<path d="M9.4,-1.5Q14.7,9.4 29.0,42.1" stroke="#9e9e9e" stroke-width="0.68" fill="none"/>
<path d="M61.5,5.6Q65.8,22.9 60.5,34.2" stroke="#9b9b9b" stroke-width="0.81" fill="none"/>
<path d="M41.0,21.2Q41.0,31.3 44.2,66.2" stroke="#c0c0c0" stroke-width="0.85" fill="none"/>
<path d="M41.6,21.3Q58.1,39.1 64.3,72.5" stroke="#c2c2c2" stroke-width="0.90" fill="none"/>
<path d="M34.8,67.3Q43.4,76.1 40.0,94.0" stroke="#bcbcbc" stroke-width="0.74" fill="none"/>
<path d="M15.4,23.6Q12.7,52.9 7.9,62.0" stroke="#ababab" stroke-width="0.70" fill="none"/>
</g>
<rect x="326" y="104.3" width="108.0" height="80.5" filter="url(#grain)" opacity="0.6" style="mix-blend-mode:overlay"/>
</g>
<rect x="326" y="184.8" width="108.0" height="5.2" fill="#050505"/>
<g fill="#aaa" font-size="1.7" font-weight="normal"><text x="371.4" y="188.5">x 100</text><text x="386.5" y="188.5">0 3mm</text><text x="418.9" y="188.5">HV 1kV</text></g>
<rect x="401.6" y="185.6" width="9.7" height="1" fill="#eee"/>
<rect x="327" y="107" width="15" height="14" fill="#fff"/>
<text x="334.5" y="116.5" font-size="8" text-anchor="middle" font-family="Liberation Serif,serif" fill="#333">c</text>
<clipPath id="cld"><rect x="438" y="105" width="106.4" height="79.8"/></clipPath>
<g clip-path="url(#cld)">
<rect x="438" y="105" width="106.4" height="79.8" fill="#2a2a2a"/>
<g transform="translate(438,105)" filter="url(#bl0)">
<polygon points="-10.1,4.6 117.9,9.4 118.1,3.4 -9.9,-1.4" fill="#303030" />
<line x1="-9.9" y1="-0.9" x2="118.1" y2="3.8" stroke="#222222" stroke-width="0.75"/>
<line x1="-9.9" y1="-0.1" x2="118.1" y2="4.6" stroke="#262626" stroke-width="0.75"/>
<line x1="-10.0" y1="1.0" x2="118.0" y2="5.7" stroke="#515151" stroke-width="0.93"/>
<line x1="-10.0" y1="1.5" x2="118.0" y2="6.3" stroke="#444444" stroke-width="0.69"/>
<line x1="-10.0" y1="2.3" x2="118.0" y2="7.1" stroke="#2c2c2c" stroke-width="0.66"/>
<line x1="-10.1" y1="3.4" x2="117.9" y2="8.2" stroke="#4d4d4d" stroke-width="0.95"/>
<line x1="-10.1" y1="4.2" x2="117.9" y2="8.9" stroke="#262626" stroke-width="0.71"/>
<polygon points="19.6,13.0 117.5,23.0 118.4,15.0 20.5,5.0" fill="#3d3d3d" />
<line x1="20.4" y1="5.7" x2="118.3" y2="15.7" stroke="#545454" stroke-width="0.97"/>
<line x1="20.3" y1="6.6" x2="118.2" y2="16.7" stroke="#393939" stroke-width="0.85"/>
<line x1="20.2" y1="7.4" x2="118.1" y2="17.4" stroke="#535353" stroke-width="0.65"/>
<line x1="20.1" y1="8.1" x2="118.0" y2="18.2" stroke="#3f3f3f" stroke-width="1.01"/>
<line x1="20.0" y1="9.1" x2="117.9" y2="19.2" stroke="#585858" stroke-width="0.70"/>
<line x1="19.9" y1="10.0" x2="117.8" y2="20.0" stroke="#585858" stroke-width="0.98"/>
<line x1="19.9" y1="10.8" x2="117.8" y2="20.8" stroke="#525252" stroke-width="0.76"/>
<line x1="19.8" y1="11.5" x2="117.7" y2="21.6" stroke="#4a4a4a" stroke-width="0.64"/>
<line x1="19.7" y1="12.3" x2="117.6" y2="22.3" stroke="#595959" stroke-width="0.58"/>
<polygon points="-10.1,14.6 59.9,17.4 60.1,11.4 -9.9,8.6" fill="#2d2d2d" />
<line x1="-9.9" y1="9.0" x2="60.1" y2="11.8" stroke="#383838" stroke-width="0.69"/>
<line x1="-9.9" y1="10.0" x2="60.1" y2="12.8" stroke="#373737" stroke-width="0.72"/>
<line x1="-10.0" y1="11.0" x2="60.0" y2="13.8" stroke="#2c2c2c" stroke-width="0.76"/>
<line x1="-10.0" y1="11.5" x2="60.0" y2="14.3" stroke="#444444" stroke-width="0.69"/>
<line x1="-10.0" y1="12.4" x2="60.0" y2="15.2" stroke="#494949" stroke-width="0.71"/>
<line x1="-10.1" y1="13.3" x2="59.9" y2="16.1" stroke="#4e4e4e" stroke-width="0.61"/>
<line x1="-10.1" y1="13.9" x2="59.9" y2="16.7" stroke="#262626" stroke-width="0.93"/>
<polygon points="29.8,24.4 117.8,29.6 118.2,23.6 30.2,18.4" fill="#303030" />
<line x1="30.2" y1="19.0" x2="118.1" y2="24.2" stroke="#2a2a2a" stroke-width="0.72"/>
<line x1="30.1" y1="19.7" x2="118.1" y2="24.8" stroke="#3a3a3a" stroke-width="0.58"/>
<line x1="30.1" y1="20.7" x2="118.0" y2="25.9" stroke="#565656" stroke-width="1.02"/>
<line x1="30.0" y1="21.5" x2="118.0" y2="26.7" stroke="#5a5a5a" stroke-width="0.57"/>
<line x1="30.0" y1="22.1" x2="117.9" y2="27.3" stroke="#595959" stroke-width="0.93"/>
<line x1="29.9" y1="23.0" x2="117.9" y2="28.2" stroke="#555555" stroke-width="0.86"/>
<line x1="29.9" y1="24.0" x2="117.8" y2="29.2" stroke="#2b2b2b" stroke-width="0.65"/>
<polygon points="-0.3,20.1 69.1,36.8 70.3,31.9 0.9,15.2" fill="#2d2d2d" />
<line x1="0.7" y1="15.7" x2="70.2" y2="32.4" stroke="#202020" stroke-width="0.74"/>
<line x1="0.5" y1="16.7" x2="70.0" y2="33.4" stroke="#323232" stroke-width="0.56"/>
<line x1="0.4" y1="17.1" x2="69.9" y2="33.8" stroke="#2b2b2b" stroke-width="0.94"/>
<line x1="0.2" y1="18.0" x2="69.6" y2="34.7" stroke="#313131" stroke-width="0.61"/>
<line x1="-0.0" y1="19.0" x2="69.4" y2="35.7" stroke="#343434" stroke-width="0.66"/>
<line x1="-0.1" y1="19.4" x2="69.3" y2="36.1" stroke="#1e1e1e" stroke-width="0.64"/>
<polygon points="59.8,31.4 117.7,37.5 118.2,32.6 60.3,26.5" fill="#343434" />
<line x1="60.3" y1="27.1" x2="118.1" y2="33.1" stroke="#2b2b2b" stroke-width="0.58"/>
<line x1="60.2" y1="27.8" x2="118.1" y2="33.9" stroke="#363636" stroke-width="1.04"/>
<line x1="60.1" y1="28.4" x2="118.0" y2="34.5" stroke="#474747" stroke-width="0.93"/>
<line x1="60.0" y1="29.3" x2="117.9" y2="35.4" stroke="#606060" stroke-width="0.79"/>
<line x1="59.9" y1="30.0" x2="117.8" y2="36.1" stroke="#3f3f3f" stroke-width="0.58"/>
<line x1="59.9" y1="30.9" x2="117.7" y2="37.0" stroke="#2f2f2f" stroke-width="0.99"/>
<polygon points="-11.2,84.3 115.0,142.7 119.2,133.7 -7.0,75.3" fill="#414141" />
<line x1="-7.3" y1="76.0" x2="118.8" y2="134.4" stroke="#4c4c4c" stroke-width="0.58"/>
<line x1="-7.5" y1="76.5" x2="118.6" y2="134.9" stroke="#424242" stroke-width="0.66"/>
<line x1="-7.9" y1="77.2" x2="118.3" y2="135.6" stroke="#676767" stroke-width="0.63"/>
<line x1="-8.2" y1="77.8" x2="118.0" y2="136.2" stroke="#6d6d6d" stroke-width="0.83"/>
<line x1="-8.7" y1="78.9" x2="117.5" y2="137.3" stroke="#555555" stroke-width="0.99"/>
<line x1="-8.9" y1="79.5" x2="117.2" y2="137.9" stroke="#6a6a6a" stroke-width="0.92"/>
<line x1="-9.2" y1="80.2" x2="116.9" y2="138.6" stroke="#454545" stroke-width="0.66"/>
<line x1="-9.6" y1="81.0" x2="116.5" y2="139.4" stroke="#6e6e6e" stroke-width="1.00"/>
<line x1="-9.9" y1="81.5" x2="116.3" y2="139.9" stroke="#606060" stroke-width="0.94"/>
<line x1="-10.3" y1="82.4" x2="115.9" y2="140.8" stroke="#656565" stroke-width="0.81"/>
<line x1="-10.6" y1="83.1" x2="115.6" y2="141.5" stroke="#595959" stroke-width="0.69"/>
<line x1="-11.0" y1="83.9" x2="115.2" y2="142.3" stroke="#626262" stroke-width="0.60"/>
<polygon points="-11.2,72.3 115.0,130.7 119.2,121.7 -7.0,63.3" fill="#474747" />
<line x1="-7.3" y1="64.0" x2="118.8" y2="122.4" stroke="#6d6d6d" stroke-width="0.88"/>
<line x1="-7.5" y1="64.4" x2="118.6" y2="122.8" stroke="#6d6d6d" stroke-width="0.62"/>
<line x1="-8.0" y1="65.5" x2="118.2" y2="123.9" stroke="#676767" stroke-width="0.59"/>
<line x1="-8.2" y1="65.9" x2="118.0" y2="124.3" stroke="#686868" stroke-width="0.83"/>
<line x1="-8.6" y1="66.8" x2="117.5" y2="125.2" stroke="#7a7a7a" stroke-width="0.66"/>
<line x1="-8.8" y1="67.3" x2="117.3" y2="125.7" stroke="#7b7b7b" stroke-width="0.57"/>
<line x1="-9.3" y1="68.3" x2="116.8" y2="126.7" stroke="#505050" stroke-width="0.95"/>
<line x1="-9.6" y1="69.0" x2="116.5" y2="127.4" stroke="#777777" stroke-width="0.82"/>
<line x1="-10.0" y1="69.7" x2="116.2" y2="128.1" stroke="#515151" stroke-width="0.88"/>
<line x1="-10.2" y1="70.3" x2="115.9" y2="128.7" stroke="#737373" stroke-width="0.93"/>
<line x1="-10.6" y1="71.0" x2="115.6" y2="129.4" stroke="#5a5a5a" stroke-width="0.57"/>
<line x1="-10.8" y1="71.6" x2="115.3" y2="130.0" stroke="#5a5a5a" stroke-width="0.79"/>
<polygon points="-11.2,60.3 115.0,118.7 119.2,109.7 -7.0,51.3" fill="#4a4a4a" />
<line x1="-7.3" y1="52.0" x2="118.8" y2="110.4" stroke="#5e5e5e" stroke-width="0.63"/>
<line x1="-7.6" y1="52.5" x2="118.6" y2="110.9" stroke="#6b6b6b" stroke-width="0.81"/>
<line x1="-7.8" y1="53.1" x2="118.3" y2="111.5" stroke="#737373" stroke-width="0.96"/>
<line x1="-8.2" y1="53.9" x2="118.0" y2="112.3" stroke="#686868" stroke-width="0.74"/>
<line x1="-8.6" y1="54.8" x2="117.5" y2="113.2" stroke="#5f5f5f" stroke-width="0.67"/>
<line x1="-8.9" y1="55.4" x2="117.2" y2="113.8" stroke="#828282" stroke-width="0.61"/>
<line x1="-9.2" y1="56.0" x2="117.0" y2="114.4" stroke="#707070" stroke-width="0.98"/>
<line x1="-9.6" y1="56.9" x2="116.6" y2="115.3" stroke="#656565" stroke-width="0.97"/>
<line x1="-10.0" y1="57.7" x2="116.2" y2="116.1" stroke="#4f4f4f" stroke-width="0.98"/>
<line x1="-10.2" y1="58.2" x2="116.0" y2="116.6" stroke="#595959" stroke-width="0.96"/>
<line x1="-10.6" y1="59.0" x2="115.6" y2="117.4" stroke="#6d6d6d" stroke-width="0.64"/>
<line x1="-11.0" y1="59.9" x2="115.2" y2="118.3" stroke="#454545" stroke-width="0.63"/>
<polygon points="-11.2,48.3 115.0,106.7 119.2,97.7 -7.0,39.3" fill="#515151" />
<line x1="-7.2" y1="39.8" x2="118.9" y2="98.2" stroke="#575757" stroke-width="0.82"/>
<line x1="-7.6" y1="40.7" x2="118.5" y2="99.1" stroke="#737373" stroke-width="0.56"/>
<line x1="-7.9" y1="41.2" x2="118.3" y2="99.6" stroke="#6e6e6e" stroke-width="0.79"/>
<line x1="-8.3" y1="42.1" x2="117.9" y2="100.5" stroke="#6f6f6f" stroke-width="0.60"/>
<line x1="-8.5" y1="42.6" x2="117.6" y2="101.0" stroke="#848484" stroke-width="0.73"/>
<line x1="-9.0" y1="43.5" x2="117.2" y2="101.9" stroke="#8d8d8d" stroke-width="0.86"/>
<line x1="-9.3" y1="44.2" x2="116.9" y2="102.6" stroke="#797979" stroke-width="0.71"/>
<line x1="-9.6" y1="45.0" x2="116.5" y2="103.4" stroke="#707070" stroke-width="1.00"/>
<line x1="-9.9" y1="45.5" x2="116.3" y2="103.9" stroke="#838383" stroke-width="0.94"/>
<line x1="-10.3" y1="46.4" x2="115.9" y2="104.8" stroke="#686868" stroke-width="0.63"/>
<line x1="-10.6" y1="47.1" x2="115.5" y2="105.5" stroke="#5e5e5e" stroke-width="0.88"/>
<line x1="-10.8" y1="47.6" x2="115.3" y2="106.0" stroke="#4b4b4b" stroke-width="0.63"/>
<polygon points="19.2,0.1 115.9,37.3 118.8,29.9 22.1,-7.3" fill="#414141" />
<line x1="21.8" y1="-6.6" x2="118.5" y2="30.6" stroke="#3c3c3c" stroke-width="0.99"/>
<line x1="21.6" y1="-6.0" x2="118.3" y2="31.2" stroke="#565656" stroke-width="0.73"/>
<line x1="21.3" y1="-5.1" x2="117.9" y2="32.1" stroke="#424242" stroke-width="0.75"/>
<line x1="20.9" y1="-4.2" x2="117.6" y2="33.0" stroke="#494949" stroke-width="0.87"/>
<line x1="20.7" y1="-3.7" x2="117.4" y2="33.5" stroke="#505050" stroke-width="0.57"/>
<line x1="20.4" y1="-3.0" x2="117.1" y2="34.2" stroke="#727272" stroke-width="0.96"/>
<line x1="20.0" y1="-1.9" x2="116.7" y2="35.3" stroke="#676767" stroke-width="1.02"/>
<line x1="19.8" y1="-1.4" x2="116.5" y2="35.8" stroke="#585858" stroke-width="0.80"/>
<line x1="19.4" y1="-0.4" x2="116.1" y2="36.8" stroke="#636363" stroke-width="0.92"/>
<polygon points="-12.7,29.3 113.3,90.0 120.7,74.7 -5.3,14.0" fill="#6b6b6b" />
<line x1="-5.8" y1="14.9" x2="120.3" y2="75.6" stroke="#6d6d6d" stroke-width="0.87"/>
<line x1="-6.1" y1="15.5" x2="120.0" y2="76.2" stroke="#929292" stroke-width="0.86"/>
<line x1="-6.4" y1="16.3" x2="119.6" y2="77.0" stroke="#818181" stroke-width="1.01"/>
<line x1="-6.7" y1="16.9" x2="119.3" y2="77.6" stroke="#949494" stroke-width="0.99"/>
<line x1="-7.1" y1="17.7" x2="118.9" y2="78.4" stroke="#898989" stroke-width="0.67"/>
<line x1="-7.4" y1="18.3" x2="118.6" y2="79.0" stroke="#9c9c9c" stroke-width="1.04"/>
<line x1="-7.9" y1="19.3" x2="118.2" y2="79.9" stroke="#939393" stroke-width="0.75"/>
<line x1="-8.2" y1="20.0" x2="117.8" y2="80.6" stroke="#8f8f8f" stroke-width="0.76"/>
<line x1="-8.4" y1="20.4" x2="117.6" y2="81.1" stroke="#8a8a8a" stroke-width="0.82"/>
<line x1="-8.9" y1="21.4" x2="117.2" y2="82.0" stroke="#a2a2a2" stroke-width="0.73"/>
<line x1="-9.3" y1="22.2" x2="116.8" y2="82.9" stroke="#a2a2a2" stroke-width="0.63"/>
<line x1="-9.5" y1="22.6" x2="116.6" y2="83.3" stroke="#b4b4b4" stroke-width="1.03"/>
<line x1="-10.0" y1="23.6" x2="116.1" y2="84.3" stroke="#9f9f9f" stroke-width="0.71"/>
<line x1="-10.2" y1="24.1" x2="115.9" y2="84.7" stroke="#8c8c8c" stroke-width="0.67"/>
<line x1="-10.7" y1="25.1" x2="115.4" y2="85.8" stroke="#a9a9a9" stroke-width="0.93"/>
<line x1="-10.9" y1="25.5" x2="115.1" y2="86.2" stroke="#858585" stroke-width="0.70"/>
<line x1="-11.4" y1="26.6" x2="114.7" y2="87.2" stroke="#7c7c7c" stroke-width="0.94"/>
<line x1="-11.7" y1="27.2" x2="114.4" y2="87.9" stroke="#8c8c8c" stroke-width="1.02"/>
<line x1="-11.9" y1="27.8" x2="114.1" y2="88.4" stroke="#878787" stroke-width="0.64"/>
<line x1="-12.3" y1="28.4" x2="113.8" y2="89.1" stroke="#686868" stroke-width="0.71"/>
<polygon points="41.5,-3.1 112.7,57.9 118.5,51.1 47.3,-9.9" fill="#5e5e5e" />
<line x1="47.0" y1="-9.5" x2="118.2" y2="51.5" stroke="#595959" stroke-width="1.04"/>
<line x1="46.4" y1="-8.8" x2="117.6" y2="52.2" stroke="#8e8e8e" stroke-width="0.90"/>
<line x1="45.7" y1="-8.1" x2="116.9" y2="53.0" stroke="#8a8a8a" stroke-width="1.02"/>
<line x1="45.1" y1="-7.4" x2="116.3" y2="53.6" stroke="#919191" stroke-width="0.83"/>
<line x1="44.6" y1="-6.8" x2="115.8" y2="54.2" stroke="#939393" stroke-width="0.83"/>
<line x1="44.1" y1="-6.2" x2="115.3" y2="54.8" stroke="#757575" stroke-width="0.97"/>
<line x1="43.6" y1="-5.5" x2="114.8" y2="55.5" stroke="#6f6f6f" stroke-width="0.64"/>
<line x1="42.9" y1="-4.8" x2="114.1" y2="56.2" stroke="#737373" stroke-width="0.75"/>
<line x1="42.4" y1="-4.2" x2="113.6" y2="56.8" stroke="#8d8d8d" stroke-width="0.72"/>
<line x1="41.9" y1="-3.6" x2="113.1" y2="57.4" stroke="#6e6e6e" stroke-width="0.57"/>
<polygon points="48.6,-4.3 114.2,48.2 117.4,44.3 51.8,-8.2" fill="#474747" />
<line x1="51.3" y1="-7.7" x2="117.0" y2="44.8" stroke="#3f3f3f" stroke-width="1.02"/>
<line x1="51.0" y1="-7.3" x2="116.6" y2="45.2" stroke="#4c4c4c" stroke-width="0.97"/>
<line x1="50.4" y1="-6.5" x2="116.0" y2="46.0" stroke="#565656" stroke-width="0.83"/>
<line x1="49.9" y1="-5.9" x2="115.6" y2="46.5" stroke="#707070" stroke-width="0.65"/>
<line x1="49.4" y1="-5.2" x2="115.0" y2="47.3" stroke="#787878" stroke-width="0.90"/>
<line x1="48.8" y1="-4.6" x2="114.5" y2="47.9" stroke="#6b6b6b" stroke-width="0.74"/>
</g>
<rect x="438" y="105" width="106.4" height="79.8" filter="url(#grain)" opacity="0.6" style="mix-blend-mode:overlay"/>
</g>
<rect x="438" y="184.8" width="106.4" height="5.2" fill="#050505"/>
<g fill="#aaa" font-size="1.7" font-weight="normal"><text x="482.7" y="188.5">x 100</text><text x="497.6" y="188.5">0 3mm</text><text x="529.5" y="188.5">HV 1kV</text></g>
<rect x="512.5" y="185.6" width="9.6" height="1" fill="#eee"/>
<rect x="439" y="106" width="14.2" height="15" fill="#fff"/>
<text x="446.1" y="116.2" font-size="8" text-anchor="middle" font-family="Liberation Serif,serif" fill="#333">d</text>
<clipPath id="cle"><rect x="326" y="193.3" width="108.0" height="80.5"/></clipPath>
<g clip-path="url(#cle)">
<rect x="326" y="193.3" width="108.0" height="80.5" fill="#3e3e3e"/>
<g transform="translate(326,193.3)" filter="url(#bl0)">
<ellipse cx="15.0" cy="16.0" rx="34.0" ry="18.0" transform="rotate(35 15.0 16.0)" fill="#2d2d2d"/>
<path d="M15.6,-4.2Q24.7,2.1 33.8,8.5" stroke="#555555" stroke-width="1.01" fill="none"/>
<path d="M11.2,-6.0Q24.1,3.0 37.0,12.0" stroke="#1c1c1c" stroke-width="0.78" fill="none"/>
<path d="M8.6,-6.6Q23.5,3.8 38.4,14.3" stroke="#5b5b5b" stroke-width="0.61" fill="none"/>
<path d="M7.7,-6.3Q23.1,4.5 38.5,15.2" stroke="#2d2d2d" stroke-width="0.84" fill="none"/>
<path d="M6.0,-6.5Q22.6,5.1 39.2,16.7" stroke="#4a4a4a" stroke-width="1.00" fill="none"/>
<path d="M3.8,-6.5Q21.9,6.2 40.0,18.8" stroke="#373737" stroke-width="0.63" fill="none"/>
<path d="M2.3,-6.4Q21.4,6.9 40.4,20.2" stroke="#444444" stroke-width="0.98" fill="none"/>
<path d="M0.8,-6.5Q20.9,7.6 41.1,21.7" stroke="#3e3e3e" stroke-width="0.98" fill="none"/>
<path d="M-3.4,-8.2Q20.3,8.4 44.0,25.0" stroke="#555555" stroke-width="0.89" fill="none"/>
<path d="M-4.6,-8.0Q19.8,9.1 44.2,26.3" stroke="#373737" stroke-width="1.02" fill="none"/>
<path d="M-3.8,-5.9Q19.1,10.2 42.0,26.2" stroke="#515151" stroke-width="0.64" fill="none"/>
<path d="M-3.7,-4.9Q18.7,10.7 41.1,26.4" stroke="#2c2c2c" stroke-width="0.85" fill="none"/>
<path d="M-7.0,-6.2Q18.2,11.5 43.4,29.1" stroke="#515151" stroke-width="0.71" fill="none"/>
<path d="M-7.5,-4.9Q17.4,12.5 42.4,30.0" stroke="#2d2d2d" stroke-width="0.79" fill="none"/>
<path d="M-6.6,-3.2Q16.9,13.3 40.4,29.7" stroke="#656565" stroke-width="0.57" fill="none"/>
<path d="M-10.6,-4.8Q16.3,14.1 43.3,33.0" stroke="#252525" stroke-width="0.94" fill="none"/>
<path d="M-10.1,-3.4Q15.9,14.8 41.9,33.0" stroke="#494949" stroke-width="0.58" fill="none"/>
<path d="M-12.3,-3.9Q15.4,15.5 43.0,34.9" stroke="#2a2a2a" stroke-width="0.92" fill="none"/>
<path d="M-13.0,-2.8Q14.6,16.5 42.2,35.9" stroke="#535353" stroke-width="0.73" fill="none"/>
<path d="M-12.7,-1.6Q14.2,17.2 41.0,36.0" stroke="#282828" stroke-width="0.92" fill="none"/>
<path d="M-13.5,-0.8Q13.5,18.1 40.5,37.0" stroke="#494949" stroke-width="1.01" fill="none"/>
<path d="M-11.5,1.4Q13.1,18.6 37.8,35.9" stroke="#363636" stroke-width="1.00" fill="none"/>
<path d="M-14.2,0.8Q12.5,19.5 39.3,38.2" stroke="#585858" stroke-width="0.71" fill="none"/>
<path d="M-11.4,4.0Q12.0,20.3 35.3,36.7" stroke="#262626" stroke-width="0.63" fill="none"/>
<path d="M-14.7,3.0Q11.3,21.2 37.4,39.5" stroke="#4c4c4c" stroke-width="0.58" fill="none"/>
<path d="M-12.9,5.6Q10.7,22.1 34.3,38.6" stroke="#2f2f2f" stroke-width="0.67" fill="none"/>
<path d="M-13.8,5.9Q10.2,22.8 34.3,39.6" stroke="#545454" stroke-width="0.76" fill="none"/>
<path d="M-14.0,6.7Q9.8,23.4 33.6,40.1" stroke="#222222" stroke-width="0.80" fill="none"/>
<path d="M-10.8,10.6Q9.1,24.5 28.9,38.3" stroke="#5a5a5a" stroke-width="1.02" fill="none"/>
<path d="M-12.5,10.4Q8.6,25.2 29.7,40.0" stroke="#232323" stroke-width="0.77" fill="none"/>
<path d="M-12.2,11.6Q8.1,25.8 28.4,40.0" stroke="#4c4c4c" stroke-width="0.78" fill="none"/>
<path d="M-11.0,14.0Q7.4,26.9 25.7,39.7" stroke="#3b3b3b" stroke-width="0.78" fill="none"/>
<path d="M-9.7,15.8Q6.9,27.5 23.6,39.2" stroke="#4f4f4f" stroke-width="0.70" fill="none"/>
<path d="M-7.0,18.9Q6.4,28.3 19.8,37.7" stroke="#272727" stroke-width="1.03" fill="none"/>
<path d="M-5.8,21.2Q5.7,29.3 17.2,37.3" stroke="#4d4d4d" stroke-width="0.72" fill="none"/>
<path d="M-3.5,23.6Q5.4,29.8 14.2,36.0" stroke="#313131" stroke-width="0.98" fill="none"/>
<ellipse cx="95.0" cy="52.0" rx="32.0" ry="16.0" transform="rotate(70 95.0 52.0)" fill="#5f5f5f"/>
<path d="M105.8,37.4Q109.2,46.8 112.6,56.2" stroke="#989898" stroke-width="0.89" fill="none"/>
<path d="M103.4,33.7Q108.3,47.2 113.2,60.6" stroke="#595959" stroke-width="0.90" fill="none"/>
<path d="M102.2,32.4Q107.6,47.4 113.1,62.4" stroke="#9b9b9b" stroke-width="0.89" fill="none"/>
<path d="M100.1,29.3Q106.8,47.7 113.5,66.1" stroke="#686868" stroke-width="0.84" fill="none"/>
<path d="M99.3,29.1Q106.1,48.0 113.0,66.8" stroke="#8a8a8a" stroke-width="0.88" fill="none"/>
<path d="M97.3,26.7Q105.1,48.3 113.0,69.9" stroke="#6b6b6b" stroke-width="0.94" fill="none"/>
<path d="M96.3,26.3Q104.4,48.6 112.5,70.8" stroke="#a0a0a0" stroke-width="0.96" fill="none"/>
<path d="M94.8,24.7Q103.6,48.9 112.3,73.0" stroke="#777777" stroke-width="0.89" fill="none"/>
<path d="M93.1,23.4Q102.5,49.3 111.9,75.1" stroke="#9a9a9a" stroke-width="0.81" fill="none"/>
<path d="M92.6,23.5Q102.0,49.4 111.5,75.4" stroke="#7c7c7c" stroke-width="0.79" fill="none"/>
<path d="M91.4,23.4Q101.0,49.8 110.6,76.2" stroke="#a5a5a5" stroke-width="0.64" fill="none"/>
<path d="M90.5,23.7Q100.2,50.1 109.8,76.6" stroke="#737373" stroke-width="0.76" fill="none"/>
<path d="M89.3,22.6Q99.4,50.4 109.5,78.2" stroke="#a2a2a2" stroke-width="0.91" fill="none"/>
<path d="M89.6,25.2Q98.8,50.6 108.1,76.0" stroke="#6b6b6b" stroke-width="0.87" fill="none"/>
<path d="M87.7,22.8Q97.9,50.9 108.2,79.0" stroke="#a3a3a3" stroke-width="0.58" fill="none"/>
<path d="M87.5,24.9Q97.0,51.3 106.6,77.6" stroke="#5c5c5c" stroke-width="0.62" fill="none"/>
<path d="M86.7,25.3Q96.3,51.5 105.8,77.8" stroke="#929292" stroke-width="0.58" fill="none"/>
<path d="M85.5,24.6Q95.4,51.8 105.3,79.1" stroke="#737373" stroke-width="0.84" fill="none"/>
<path d="M83.9,22.5Q94.7,52.1 105.5,81.7" stroke="#8b8b8b" stroke-width="0.75" fill="none"/>
<path d="M83.9,25.1Q93.9,52.4 103.8,79.7" stroke="#5f5f5f" stroke-width="0.96" fill="none"/>
<path d="M83.7,27.2Q93.0,52.7 102.3,78.2" stroke="#a3a3a3" stroke-width="0.61" fill="none"/>
<path d="M82.5,26.4Q92.1,53.0 101.8,79.6" stroke="#717171" stroke-width="1.02" fill="none"/>
<path d="M81.6,26.8Q91.2,53.4 100.9,79.9" stroke="#aaaaaa" stroke-width="0.87" fill="none"/>
<path d="M81.5,28.6Q90.6,53.6 99.7,78.7" stroke="#717171" stroke-width="0.83" fill="none"/>
<path d="M79.4,26.1Q89.6,54.0 99.7,81.9" stroke="#a0a0a0" stroke-width="0.73" fill="none"/>
<path d="M80.3,31.0Q88.8,54.3 97.2,77.5" stroke="#5b5b5b" stroke-width="0.83" fill="none"/>
<path d="M79.6,31.3Q88.1,54.5 96.5,77.8" stroke="#9f9f9f" stroke-width="0.99" fill="none"/>
<path d="M78.7,31.1Q87.3,54.8 96.0,78.5" stroke="#5e5e5e" stroke-width="0.70" fill="none"/>
<path d="M78.2,32.9Q86.3,55.2 94.4,77.4" stroke="#aaaaaa" stroke-width="1.00" fill="none"/>
<path d="M78.0,34.5Q85.6,55.4 93.3,76.3" stroke="#7a7a7a" stroke-width="0.80" fill="none"/>
<path d="M77.6,35.7Q84.9,55.7 92.2,75.7" stroke="#a9a9a9" stroke-width="0.80" fill="none"/>
<path d="M77.2,36.8Q84.1,56.0 91.1,75.1" stroke="#555555" stroke-width="0.86" fill="none"/>
<path d="M77.1,39.4Q83.3,56.3 89.4,73.1" stroke="#9e9e9e" stroke-width="0.96" fill="none"/>
<path d="M76.8,40.6Q82.6,56.5 88.4,72.4" stroke="#585858" stroke-width="1.01" fill="none"/>
<path d="M77.2,45.1Q81.5,56.9 85.8,68.7" stroke="#858585" stroke-width="0.63" fill="none"/>
<path d="M77.7,49.3Q80.6,57.2 83.5,65.2" stroke="#616161" stroke-width="0.79" fill="none"/>
<ellipse cx="98.0" cy="13.0" rx="26.0" ry="12.0" transform="rotate(-65 98.0 13.0)" fill="#737373"/>
<path d="M84.1,16.3Q89.7,9.1 91.6,0.3" stroke="#b5b5b5" stroke-width="0.62" fill="none"/>
<path d="M83.7,19.2Q90.5,9.5 93.5,-2.0" stroke="#787878" stroke-width="0.72" fill="none"/>
<path d="M83.2,21.6Q91.0,9.7 95.1,-3.8" stroke="#adadad" stroke-width="0.73" fill="none"/>
<path d="M83.0,24.3Q91.9,10.1 97.0,-5.7" stroke="#676767" stroke-width="0.68" fill="none"/>
<path d="M82.6,26.6Q92.5,10.4 98.6,-7.5" stroke="#c5c5c5" stroke-width="0.82" fill="none"/>
<path d="M82.9,27.5Q93.0,10.7 99.4,-7.9" stroke="#7c7c7c" stroke-width="0.84" fill="none"/>
<path d="M83.4,28.9Q94.0,11.1 100.8,-8.5" stroke="#b7b7b7" stroke-width="1.00" fill="none"/>
<path d="M84.0,29.2Q94.6,11.4 101.4,-8.2" stroke="#939393" stroke-width="0.65" fill="none"/>
<path d="M83.7,31.6Q95.2,11.7 103.0,-9.9" stroke="#a7a7a7" stroke-width="0.96" fill="none"/>
<path d="M84.8,31.4Q96.1,12.1 103.6,-9.0" stroke="#7d7d7d" stroke-width="0.93" fill="none"/>
<path d="M85.8,31.3Q96.9,12.5 104.2,-8.1" stroke="#bdbdbd" stroke-width="0.82" fill="none"/>
<path d="M85.9,32.5Q97.4,12.7 105.2,-8.8" stroke="#797979" stroke-width="0.84" fill="none"/>
<path d="M87.0,32.3Q98.2,13.1 105.7,-7.8" stroke="#b3b3b3" stroke-width="0.95" fill="none"/>
<path d="M86.7,34.8Q98.9,13.4 107.4,-9.7" stroke="#747474" stroke-width="0.91" fill="none"/>
<path d="M86.8,36.5Q99.7,13.8 108.8,-10.6" stroke="#c9c9c9" stroke-width="0.58" fill="none"/>
<path d="M88.8,34.0Q100.4,14.1 108.2,-7.6" stroke="#909090" stroke-width="1.02" fill="none"/>
<path d="M89.6,33.9Q101.0,14.4 108.6,-6.9" stroke="#b6b6b6" stroke-width="1.00" fill="none"/>
<path d="M89.4,35.7Q101.5,14.6 109.9,-8.2" stroke="#858585" stroke-width="0.64" fill="none"/>
<path d="M91.3,33.8Q102.4,15.0 109.7,-5.5" stroke="#adadad" stroke-width="0.74" fill="none"/>
<path d="M91.9,33.8Q102.9,15.3 110.1,-5.0" stroke="#8b8b8b" stroke-width="0.92" fill="none"/>
<path d="M93.1,33.9Q103.9,15.7 110.9,-4.2" stroke="#b9b9b9" stroke-width="0.71" fill="none"/>
<path d="M93.4,34.9Q104.5,16.0 111.8,-4.6" stroke="#999999" stroke-width="0.74" fill="none"/>
<path d="M93.9,35.2Q105.0,16.3 112.4,-4.5" stroke="#aaaaaa" stroke-width="0.86" fill="none"/>
<path d="M94.9,35.2Q105.9,16.7 113.0,-3.6" stroke="#848484" stroke-width="0.86" fill="none"/>
<path d="M96.4,33.6Q106.5,17.0 112.7,-1.4" stroke="#ababab" stroke-width="0.92" fill="none"/>
<path d="M98.4,31.5Q107.3,17.3 112.4,1.4" stroke="#727272" stroke-width="0.74" fill="none"/>
<path d="M99.8,30.4Q108.1,17.7 112.5,3.2" stroke="#bbbbbb" stroke-width="0.87" fill="none"/>
<path d="M100.3,30.6Q108.5,17.9 113.0,3.4" stroke="#676767" stroke-width="0.62" fill="none"/>
<path d="M102.8,27.5Q109.4,18.3 112.2,7.4" stroke="#bdbdbd" stroke-width="0.79" fill="none"/>
<path d="M104.3,26.0Q110.0,18.6 112.0,9.4" stroke="#5f5f5f" stroke-width="0.91" fill="none"/>
<ellipse cx="50.0" cy="22.0" rx="25.0" ry="11.0" transform="rotate(-42 50.0 22.0)" fill="#7d7d7d"/>
<path d="M38.0,18.7Q41.3,12.4 48.0,9.7" stroke="#c7c7c7" stroke-width="0.89" fill="none"/>
<path d="M35.8,21.8Q41.9,13.0 51.3,7.8" stroke="#969696" stroke-width="0.88" fill="none"/>
<path d="M34.2,24.6Q42.5,13.7 54.2,6.6" stroke="#c0c0c0" stroke-width="0.73" fill="none"/>
<path d="M33.3,26.1Q42.9,14.1 55.9,5.8" stroke="#8b8b8b" stroke-width="0.73" fill="none"/>
<path d="M33.0,27.5Q43.5,14.7 57.2,5.7" stroke="#cdcdcd" stroke-width="0.87" fill="none"/>
<path d="M31.9,29.8Q44.1,15.4 59.6,4.8" stroke="#9b9b9b" stroke-width="0.81" fill="none"/>
<path d="M31.3,31.2Q44.5,15.9 61.1,4.4" stroke="#cecece" stroke-width="0.75" fill="none"/>
<path d="M32.5,30.9Q44.9,16.3 60.6,5.5" stroke="#818181" stroke-width="0.58" fill="none"/>
<path d="M31.4,33.4Q45.6,17.1 63.2,4.7" stroke="#d2d2d2" stroke-width="0.56" fill="none"/>
<path d="M30.3,35.1Q46.0,17.6 65.1,3.8" stroke="#969696" stroke-width="0.77" fill="none"/>
<path d="M32.6,34.0Q46.5,18.1 63.8,6.0" stroke="#b8b8b8" stroke-width="0.64" fill="none"/>
<path d="M32.1,35.5Q47.0,18.7 65.3,5.6" stroke="#a4a4a4" stroke-width="0.63" fill="none"/>
<path d="M32.7,35.9Q47.5,19.2 65.6,6.3" stroke="#bababa" stroke-width="0.70" fill="none"/>
<path d="M32.6,37.1Q48.0,19.8 66.8,6.2" stroke="#7e7e7e" stroke-width="1.00" fill="none"/>
<path d="M31.8,38.8Q48.5,20.4 68.6,5.7" stroke="#d2d2d2" stroke-width="0.88" fill="none"/>
<path d="M32.4,39.3Q49.1,21.0 69.1,6.3" stroke="#828282" stroke-width="0.88" fill="none"/>
<path d="M33.8,39.0Q49.5,21.5 68.6,7.7" stroke="#d3d3d3" stroke-width="0.64" fill="none"/>
<path d="M36.3,37.8Q50.0,22.0 67.1,10.0" stroke="#868686" stroke-width="0.60" fill="none"/>
<path d="M34.7,40.4Q50.6,22.7 69.9,8.7" stroke="#c1c1c1" stroke-width="0.71" fill="none"/>
<path d="M37.5,38.9Q51.1,23.2 68.1,11.3" stroke="#9a9a9a" stroke-width="0.90" fill="none"/>
<path d="M38.4,38.9Q51.6,23.7 68.0,12.3" stroke="#cccccc" stroke-width="1.01" fill="none"/>
<path d="M39.4,39.3Q52.2,24.4 68.3,13.3" stroke="#a2a2a2" stroke-width="0.56" fill="none"/>
<path d="M39.5,39.9Q52.5,24.8 68.9,13.4" stroke="#bdbdbd" stroke-width="0.58" fill="none"/>
<path d="M40.9,39.9Q53.2,25.5 68.8,14.8" stroke="#898989" stroke-width="0.73" fill="none"/>
<path d="M44.0,37.9Q53.6,26.0 66.5,17.7" stroke="#cfcfcf" stroke-width="0.80" fill="none"/>
<path d="M46.7,37.0Q54.3,26.8 65.3,20.3" stroke="#777777" stroke-width="0.58" fill="none"/>
<path d="M48.3,36.3Q54.7,27.2 64.4,21.8" stroke="#acacac" stroke-width="0.76" fill="none"/>
<path d="M50.9,34.9Q55.2,27.7 62.8,24.3" stroke="#696969" stroke-width="1.03" fill="none"/>
<ellipse cx="18.0" cy="58.0" rx="34.0" ry="20.0" transform="rotate(50 18.0 58.0)" fill="#737373"/>
<path d="M26.6,38.5Q30.0,47.9 38.7,52.9" stroke="#a4a4a4" stroke-width="0.82" fill="none"/>
<path d="M23.9,36.7Q29.4,48.5 40.0,55.8" stroke="#636363" stroke-width="0.82" fill="none"/>
<path d="M20.3,34.2Q28.4,49.2 41.8,59.9" stroke="#bdbdbd" stroke-width="0.66" fill="none"/>
<path d="M19.2,33.7Q28.0,49.6 42.1,61.1" stroke="#787878" stroke-width="0.83" fill="none"/>
<path d="M16.8,32.5Q27.3,50.2 42.9,63.6" stroke="#bbbbbb" stroke-width="1.00" fill="none"/>
<path d="M15.5,32.3Q26.6,50.8 42.9,64.9" stroke="#8b8b8b" stroke-width="0.67" fill="none"/>
<path d="M14.4,32.2Q26.0,51.3 42.8,66.0" stroke="#a1a1a1" stroke-width="0.93" fill="none"/>
<path d="M12.5,31.8Q25.1,52.0 42.9,67.9" stroke="#6f6f6f" stroke-width="0.60" fill="none"/>
<path d="M12.1,32.3Q24.6,52.5 42.3,68.3" stroke="#b3b3b3" stroke-width="0.84" fill="none"/>
<path d="M10.9,32.3Q23.9,53.0 42.1,69.4" stroke="#8b8b8b" stroke-width="0.58" fill="none"/>
<path d="M9.1,31.4Q23.3,53.6 42.6,71.4" stroke="#b3b3b3" stroke-width="0.61" fill="none"/>
<path d="M7.8,31.3Q22.5,54.2 42.5,72.7" stroke="#8f8f8f" stroke-width="0.83" fill="none"/>
<path d="M5.4,30.2Q21.7,54.9 43.2,75.2" stroke="#c7c7c7" stroke-width="0.84" fill="none"/>
<path d="M4.1,29.7Q21.2,55.4 43.5,76.6" stroke="#8d8d8d" stroke-width="1.02" fill="none"/>
<path d="M3.3,30.3Q20.4,56.0 42.7,77.3" stroke="#b2b2b2" stroke-width="0.95" fill="none"/>
<path d="M4.2,32.6Q19.8,56.5 40.6,76.0" stroke="#747474" stroke-width="0.64" fill="none"/>
<path d="M1.6,30.8Q19.2,57.0 41.9,78.8" stroke="#b4b4b4" stroke-width="0.59" fill="none"/>
<path d="M0.9,31.7Q18.4,57.7 41.0,79.4" stroke="#737373" stroke-width="0.58" fill="none"/>
<path d="M1.0,32.7Q17.9,58.1 40.0,79.1" stroke="#cfcfcf" stroke-width="1.02" fill="none"/>
<path d="M0.4,33.7Q17.0,58.8 38.9,79.5" stroke="#868686" stroke-width="0.73" fill="none"/>
<path d="M0.5,35.0Q16.5,59.3 37.6,79.2" stroke="#c3c3c3" stroke-width="0.96" fill="none"/>
<path d="M-0.6,35.3Q15.7,60.0 37.2,80.3" stroke="#8b8b8b" stroke-width="0.64" fill="none"/>
<path d="M-2.4,34.5Q15.0,60.5 37.6,82.2" stroke="#d3d3d3" stroke-width="0.94" fill="none"/>
<path d="M-2.5,35.4Q14.5,60.9 36.7,82.1" stroke="#9c9c9c" stroke-width="0.78" fill="none"/>
<path d="M-3.6,35.7Q13.7,61.6 36.2,83.1" stroke="#cbcbcb" stroke-width="1.01" fill="none"/>
<path d="M-5.9,34.4Q13.0,62.2 37.1,85.6" stroke="#8d8d8d" stroke-width="0.61" fill="none"/>
<path d="M-4.7,37.4Q12.3,62.8 34.4,83.9" stroke="#aaaaaa" stroke-width="1.03" fill="none"/>
<path d="M-5.5,37.3Q11.8,63.2 34.3,84.7" stroke="#878787" stroke-width="0.98" fill="none"/>
<path d="M-4.8,39.6Q11.0,63.8 32.1,83.7" stroke="#b3b3b3" stroke-width="0.66" fill="none"/>
<path d="M-5.7,40.1Q10.3,64.5 31.5,84.5" stroke="#929292" stroke-width="0.68" fill="none"/>
<path d="M-5.7,41.3Q9.7,65.0 30.3,84.2" stroke="#d2d2d2" stroke-width="0.96" fill="none"/>
<path d="M-7.2,41.3Q8.9,65.7 30.1,85.7" stroke="#818181" stroke-width="0.63" fill="none"/>
<path d="M-7.0,42.8Q8.2,66.2 28.6,85.3" stroke="#a5a5a5" stroke-width="0.64" fill="none"/>
<path d="M-7.8,42.8Q7.8,66.6 28.5,86.0" stroke="#959595" stroke-width="0.66" fill="none"/>
<path d="M-6.8,45.7Q6.9,67.3 25.8,84.6" stroke="#c0c0c0" stroke-width="0.97" fill="none"/>
<path d="M-8.2,45.4Q6.2,67.9 25.8,85.9" stroke="#7b7b7b" stroke-width="0.56" fill="none"/>
<path d="M-7.6,47.4Q5.6,68.4 24.0,85.0" stroke="#a7a7a7" stroke-width="0.75" fill="none"/>
<path d="M-6.1,50.4Q5.0,68.9 21.3,83.1" stroke="#757575" stroke-width="0.74" fill="none"/>
<path d="M-7.5,50.3Q4.3,69.5 21.2,84.4" stroke="#aeaeae" stroke-width="1.03" fill="none"/>
<path d="M-7.5,51.8Q3.5,70.2 19.7,84.2" stroke="#838383" stroke-width="0.88" fill="none"/>
<path d="M-6.7,53.9Q2.9,70.7 17.7,83.1" stroke="#a9a9a9" stroke-width="0.84" fill="none"/>
<path d="M-5.5,56.9Q2.2,71.3 15.0,81.3" stroke="#6d6d6d" stroke-width="0.60" fill="none"/>
<path d="M-4.5,59.0Q1.7,71.7 13.1,80.0" stroke="#afafaf" stroke-width="0.92" fill="none"/>
<path d="M-2.6,63.1Q0.8,72.4 9.4,77.4" stroke="#868686" stroke-width="0.69" fill="none"/>
<ellipse cx="69.0" cy="54.0" rx="26.0" ry="12.0" transform="rotate(66 69.0 54.0)" fill="#848484"/>
<path d="M75.9,42.0Q77.3,50.3 82.5,56.9" stroke="#c6c6c6" stroke-width="0.88" fill="none"/>
<path d="M73.1,37.8Q76.5,50.7 83.8,61.8" stroke="#919191" stroke-width="0.96" fill="none"/>
<path d="M71.8,36.7Q75.9,50.9 83.7,63.5" stroke="#b3b3b3" stroke-width="0.81" fill="none"/>
<path d="M70.6,36.1Q75.1,51.3 83.4,64.8" stroke="#a3a3a3" stroke-width="0.82" fill="none"/>
<path d="M69.9,35.9Q74.6,51.5 83.1,65.4" stroke="#c0c0c0" stroke-width="0.65" fill="none"/>
<path d="M67.4,32.5Q73.8,51.9 83.9,69.6" stroke="#a4a4a4" stroke-width="0.85" fill="none"/>
<path d="M67.4,34.2Q73.2,52.1 82.7,68.4" stroke="#d1d1d1" stroke-width="0.83" fill="none"/>
<path d="M65.8,32.8Q72.3,52.5 82.7,70.6" stroke="#a6a6a6" stroke-width="0.66" fill="none"/>
<path d="M65.2,32.8Q71.8,52.8 82.2,71.0" stroke="#d1d1d1" stroke-width="0.99" fill="none"/>
<path d="M63.7,31.3Q71.1,53.1 82.3,73.1" stroke="#a3a3a3" stroke-width="0.67" fill="none"/>
<path d="M62.9,31.4Q70.4,53.4 81.8,73.7" stroke="#dddddd" stroke-width="0.98" fill="none"/>
<path d="M62.0,31.8Q69.5,53.8 80.8,74.1" stroke="#969696" stroke-width="0.81" fill="none"/>
<path d="M61.3,32.2Q68.7,54.1 80.0,74.3" stroke="#c6c6c6" stroke-width="0.85" fill="none"/>
<path d="M60.6,32.8Q68.0,54.4 79.1,74.4" stroke="#858585" stroke-width="0.62" fill="none"/>
<path d="M59.4,31.5Q67.4,54.7 79.3,76.2" stroke="#c2c2c2" stroke-width="0.65" fill="none"/>
<path d="M58.6,31.7Q66.7,55.0 78.6,76.7" stroke="#a3a3a3" stroke-width="0.91" fill="none"/>
<path d="M58.4,32.6Q66.2,55.2 77.8,76.2" stroke="#dfdfdf" stroke-width="1.02" fill="none"/>
<path d="M57.1,31.8Q65.4,55.6 77.5,77.7" stroke="#a0a0a0" stroke-width="1.00" fill="none"/>
<path d="M56.8,32.9Q64.7,55.9 76.5,77.2" stroke="#dfdfdf" stroke-width="0.79" fill="none"/>
<path d="M57.0,35.3Q64.1,56.2 74.9,75.4" stroke="#898989" stroke-width="0.60" fill="none"/>
<path d="M55.9,34.7Q63.3,56.5 74.6,76.7" stroke="#bcbcbc" stroke-width="0.92" fill="none"/>
<path d="M55.0,35.2Q62.4,56.9 73.6,77.0" stroke="#a4a4a4" stroke-width="0.90" fill="none"/>
<path d="M54.4,36.0Q61.6,57.3 72.6,76.9" stroke="#d0d0d0" stroke-width="1.02" fill="none"/>
<path d="M55.4,39.3Q61.2,57.5 70.8,74.0" stroke="#808080" stroke-width="0.66" fill="none"/>
<path d="M54.6,39.7Q60.4,57.8 70.0,74.3" stroke="#cfcfcf" stroke-width="0.92" fill="none"/>
<path d="M54.5,41.1Q59.8,58.1 68.9,73.4" stroke="#919191" stroke-width="0.74" fill="none"/>
<path d="M54.2,42.3Q59.1,58.4 67.8,72.8" stroke="#bdbdbd" stroke-width="0.89" fill="none"/>
<path d="M53.9,44.0Q58.2,58.8 66.3,71.9" stroke="#9e9e9e" stroke-width="0.59" fill="none"/>
<path d="M54.6,47.6Q57.4,59.1 64.1,69.0" stroke="#b4b4b4" stroke-width="0.62" fill="none"/>
<path d="M55.4,51.1Q56.8,59.4 62.1,66.1" stroke="#8f8f8f" stroke-width="1.00" fill="none"/>
<path d="M25.6,19.1Q53.2,32.1 69.3,42.2" stroke="#7b7b7b" stroke-width="0.63" fill="none"/>
<path d="M73.3,48.1Q87.9,50.2 112.9,45.7" stroke="#696969" stroke-width="0.60" fill="none"/>
<path d="M9.1,24.5Q17.1,52.6 29.8,63.3" stroke="#6b6b6b" stroke-width="0.64" fill="none"/>
<path d="M76.5,-3.3Q79.8,5.4 102.4,24.0" stroke="#888888" stroke-width="0.65" fill="none"/>
<path d="M31.4,9.5Q59.5,13.2 89.9,18.0" stroke="#6a6a6a" stroke-width="0.61" fill="none"/>
<path d="M91.8,52.4Q101.4,64.4 115.4,65.2" stroke="#868686" stroke-width="0.74" fill="none"/>
<path d="M88.0,47.8Q88.9,61.2 108.8,63.8" stroke="#858585" stroke-width="0.86" fill="none"/>
<path d="M62.7,65.0Q96.0,82.8 119.2,85.0" stroke="#6f6f6f" stroke-width="0.82" fill="none"/>
<path d="M43.9,64.6Q49.8,74.4 58.9,93.5" stroke="#898989" stroke-width="0.61" fill="none"/>
<path d="M54.9,17.0Q66.8,16.4 95.8,20.5" stroke="#ababab" stroke-width="0.86" fill="none"/>
<path d="M10.8,-11.5Q31.2,4.0 47.7,34.1" stroke="#767676" stroke-width="0.88" fill="none"/>
<path d="M82.0,10.1Q97.2,17.3 121.8,14.3" stroke="#818181" stroke-width="0.82" fill="none"/>
<path d="M13.0,25.1Q16.7,39.0 36.8,68.5" stroke="#979797" stroke-width="0.65" fill="none"/>
<path d="M21.7,27.6Q41.0,45.3 70.6,60.2" stroke="#797979" stroke-width="0.72" fill="none"/>
<path d="M59.5,8.3Q71.8,24.9 103.9,30.6" stroke="#858585" stroke-width="0.70" fill="none"/>
<path d="M48.6,67.4Q60.6,64.0 91.1,65.2" stroke="#7f7f7f" stroke-width="0.50" fill="none"/>
<path d="M16.8,24.0Q36.6,42.6 61.5,59.9" stroke="#9d9d9d" stroke-width="0.88" fill="none"/>
<path d="M88.1,76.4Q111.7,71.7 118.0,83.9" stroke="#878787" stroke-width="0.80" fill="none"/>
<path d="M52.3,22.6Q62.9,44.2 71.3,52.6" stroke="#6f6f6f" stroke-width="0.64" fill="none"/>
<path d="M38.2,47.5Q49.6,41.9 78.7,52.9" stroke="#7f7f7f" stroke-width="0.55" fill="none"/>
<path d="M79.2,23.1Q109.6,23.9 130.4,34.3" stroke="#a6a6a6" stroke-width="0.75" fill="none"/>
<path d="M31.2,51.6Q55.6,53.4 64.9,57.7" stroke="#ababab" stroke-width="0.56" fill="none"/>
<path d="M7.6,-2.0Q13.6,4.6 39.3,29.4" stroke="#a5a5a5" stroke-width="0.70" fill="none"/>
<path d="M83.4,4.6Q99.8,15.0 107.4,21.0" stroke="#949494" stroke-width="0.58" fill="none"/>
<path d="M78.6,19.0Q94.9,9.2 127.5,16.8" stroke="#888888" stroke-width="0.76" fill="none"/>
<path d="M73.7,62.1Q104.3,53.6 121.2,60.3" stroke="#a0a0a0" stroke-width="0.60" fill="none"/>
<path d="M24.3,-5.4Q47.3,9.4 54.2,25.6" stroke="#707070" stroke-width="0.58" fill="none"/>
<path d="M21.9,75.4Q32.9,68.8 49.7,79.0" stroke="#868686" stroke-width="0.75" fill="none"/>
<path d="M52.7,21.4Q77.5,21.4 94.8,23.4" stroke="#919191" stroke-width="0.87" fill="none"/>
<path d="M4.8,18.9Q32.2,30.1 43.6,39.1" stroke="#989898" stroke-width="0.67" fill="none"/>
<path d="M23.7,29.6Q28.5,31.7 39.0,37.3" stroke="#858585" stroke-width="0.60" fill="none"/>
<path d="M20.0,18.7Q28.4,23.7 30.4,32.6" stroke="#565656" stroke-width="0.76" fill="none"/>
<path d="M17.3,18.3Q32.4,24.9 50.2,28.3" stroke="#7b7b7b" stroke-width="0.60" fill="none"/>
<path d="M8.6,10.5Q18.9,12.1 24.0,15.8" stroke="#848484" stroke-width="0.52" fill="none"/>
<path d="M2.7,-5.1Q16.8,7.3 21.4,19.5" stroke="#565656" stroke-width="0.66" fill="none"/>
<path d="M0.8,-5.3Q4.3,1.2 17.3,7.4" stroke="#878787" stroke-width="0.89" fill="none"/>
<path d="M12.6,-2.1Q19.1,-0.9 24.7,10.3" stroke="#8b8b8b" stroke-width="0.72" fill="none"/>
<path d="M3.7,0.5Q16.6,7.4 31.3,21.3" stroke="#6e6e6e" stroke-width="0.88" fill="none"/>
<path d="M8.6,16.9Q19.0,25.7 21.9,33.8" stroke="#585858" stroke-width="0.51" fill="none"/>
<path d="M23.5,9.6Q38.4,18.6 51.6,27.7" stroke="#616161" stroke-width="0.80" fill="none"/>
</g>
<rect x="326" y="193.3" width="108.0" height="80.5" filter="url(#grain)" opacity="0.6" style="mix-blend-mode:overlay"/>
</g>
<rect x="326" y="273.8" width="108.0" height="5.2" fill="#050505"/>
<g fill="#aaa" font-size="1.7" font-weight="normal"><text x="371.4" y="277.5">x 100</text><text x="386.5" y="277.5">0 3mm</text><text x="418.9" y="277.5">HV 1kV</text></g>
<rect x="401.6" y="274.6" width="9.7" height="1" fill="#eee"/>
<rect x="328" y="195" width="13.5" height="14.5" fill="#fff"/>
<text x="334.8" y="204.9" font-size="8" text-anchor="middle" font-family="Liberation Serif,serif" fill="#333">e</text>
<clipPath id="clf"><rect x="438.3" y="194.3" width="106.5" height="79.9"/></clipPath>
<g clip-path="url(#clf)">
<rect x="438.3" y="194.3" width="106.5" height="79.9" fill="#1a1a1a"/>
<g transform="translate(438.3,194.3)" filter="url(#bl0)">
<circle cx="85.7" cy="66.6" r="1.8" fill="#242424"/>
<circle cx="0.0" cy="53.7" r="1.8" fill="#363636"/>
<circle cx="40.3" cy="62.4" r="1.4" fill="#373737"/>
<circle cx="78.8" cy="33.5" r="1.9" fill="#333333"/>
<circle cx="20.8" cy="44.8" r="2.3" fill="#242424"/>
<circle cx="86.8" cy="55.5" r="2.4" fill="#272727"/>
<circle cx="10.1" cy="64.8" r="2.3" fill="#2b2b2b"/>
<circle cx="10.1" cy="16.0" r="2.0" fill="#252525"/>
<circle cx="102.7" cy="47.7" r="1.3" fill="#323232"/>
<circle cx="38.9" cy="75.6" r="2.5" fill="#2d2d2d"/>
<circle cx="69.6" cy="56.5" r="2.3" fill="#3e3e3e"/>
<circle cx="3.1" cy="29.3" r="2.0" fill="#252525"/>
<circle cx="63.6" cy="7.3" r="2.4" fill="#2d2d2d"/>
<circle cx="12.6" cy="53.7" r="1.5" fill="#222222"/>
<circle cx="52.2" cy="11.2" r="1.3" fill="#3a3a3a"/>
<circle cx="75.4" cy="1.0" r="2.2" fill="#1b1b1b"/>
<circle cx="36.0" cy="73.3" r="2.0" fill="#262626"/>
<circle cx="40.8" cy="31.5" r="1.2" fill="#3e3e3e"/>
<circle cx="5.8" cy="34.3" r="2.2" fill="#292929"/>
<circle cx="105.9" cy="19.9" r="2.6" fill="#3b3b3b"/>
<circle cx="72.4" cy="72.1" r="1.7" fill="#383838"/>
<circle cx="86.0" cy="41.9" r="1.8" fill="#343434"/>
<circle cx="44.2" cy="7.0" r="2.2" fill="#242424"/>
<circle cx="52.7" cy="63.5" r="1.3" fill="#1b1b1b"/>
<circle cx="13.3" cy="47.7" r="1.6" fill="#242424"/>
<circle cx="48.8" cy="75.1" r="1.4" fill="#292929"/>
<circle cx="95.0" cy="49.6" r="1.4" fill="#2c2c2c"/>
<circle cx="51.7" cy="11.5" r="1.6" fill="#262626"/>
<circle cx="86.9" cy="26.2" r="2.1" fill="#3d3d3d"/>
<circle cx="99.7" cy="30.5" r="2.0" fill="#262626"/>
<circle cx="43.0" cy="39.5" r="2.3" fill="#3c3c3c"/>
<circle cx="31.4" cy="0.5" r="1.7" fill="#1d1d1d"/>
<circle cx="3.3" cy="62.7" r="1.2" fill="#343434"/>
<circle cx="39.1" cy="76.0" r="2.4" fill="#1d1d1d"/>
<circle cx="20.8" cy="76.7" r="2.0" fill="#2a2a2a"/>
<circle cx="84.5" cy="65.9" r="1.8" fill="#2b2b2b"/>
<circle cx="10.8" cy="29.3" r="1.2" fill="#313131"/>
<circle cx="65.5" cy="11.7" r="2.0" fill="#1e1e1e"/>
<circle cx="11.4" cy="52.3" r="1.7" fill="#3b3b3b"/>
<circle cx="68.0" cy="56.8" r="1.2" fill="#383838"/>
<circle cx="9.0" cy="50.1" r="2.5" fill="#3b3b3b"/>
<circle cx="96.5" cy="36.6" r="2.1" fill="#373737"/>
<circle cx="14.8" cy="76.4" r="2.5" fill="#2a2a2a"/>
<circle cx="84.1" cy="36.2" r="1.4" fill="#343434"/>
<circle cx="6.9" cy="64.8" r="2.6" fill="#252525"/>
<circle cx="101.5" cy="6.8" r="2.4" fill="#252525"/>
<circle cx="104.4" cy="34.9" r="2.5" fill="#1c1c1c"/>
<circle cx="9.2" cy="66.1" r="2.0" fill="#2e2e2e"/>
<circle cx="3.5" cy="14.0" r="1.6" fill="#1c1c1c"/>
<circle cx="107.2" cy="62.0" r="2.5" fill="#343434"/>
<circle cx="37.1" cy="6.3" r="2.2" fill="#1f1f1f"/>
<circle cx="59.1" cy="37.6" r="1.8" fill="#1d1d1d"/>
<circle cx="8.0" cy="42.1" r="1.0" fill="#2d2d2d"/>
<circle cx="16.2" cy="22.8" r="1.2" fill="#2f2f2f"/>
<circle cx="41.9" cy="18.1" r="1.4" fill="#2f2f2f"/>
<circle cx="98.3" cy="33.9" r="1.3" fill="#262626"/>
<circle cx="26.0" cy="46.4" r="2.3" fill="#2f2f2f"/>
<circle cx="20.3" cy="26.3" r="1.6" fill="#2a2a2a"/>
<circle cx="42.9" cy="80.8" r="1.9" fill="#323232"/>
<circle cx="77.4" cy="52.3" r="2.3" fill="#282828"/>
<circle cx="72.0" cy="78.8" r="1.3" fill="#313131"/>
<circle cx="41.5" cy="4.9" r="1.1" fill="#363636"/>
<circle cx="12.4" cy="57.6" r="1.2" fill="#282828"/>
<circle cx="3.5" cy="44.0" r="2.3" fill="#232323"/>
<circle cx="61.1" cy="74.7" r="1.5" fill="#2b2b2b"/>
<circle cx="78.2" cy="70.0" r="1.3" fill="#323232"/>
<circle cx="13.0" cy="9.1" r="2.6" fill="#1c1c1c"/>
<circle cx="99.3" cy="60.8" r="2.1" fill="#353535"/>
<circle cx="70.3" cy="23.2" r="1.7" fill="#222222"/>
<circle cx="92.8" cy="63.1" r="2.3" fill="#222222"/>
<circle cx="64.0" cy="20.7" r="2.3" fill="#353535"/>
<circle cx="107.5" cy="57.4" r="2.1" fill="#363636"/>
<circle cx="10.1" cy="48.2" r="1.1" fill="#282828"/>
<circle cx="12.6" cy="76.8" r="1.0" fill="#3c3c3c"/>
<circle cx="102.4" cy="35.3" r="2.3" fill="#1c1c1c"/>
<circle cx="15.1" cy="0.8" r="1.1" fill="#1b1b1b"/>
<circle cx="89.5" cy="7.1" r="1.9" fill="#242424"/>
<circle cx="14.3" cy="34.0" r="1.3" fill="#3e3e3e"/>
<circle cx="41.5" cy="48.1" r="1.9" fill="#313131"/>
<circle cx="51.9" cy="21.9" r="1.2" fill="#3a3a3a"/>
<circle cx="20.8" cy="36.3" r="2.3" fill="#2f2f2f"/>
<circle cx="102.4" cy="65.6" r="1.8" fill="#1f1f1f"/>
<circle cx="64.0" cy="38.4" r="2.4" fill="#2e2e2e"/>
<circle cx="75.0" cy="65.7" r="1.8" fill="#393939"/>
<circle cx="97.1" cy="12.5" r="2.5" fill="#3a3a3a"/>
<circle cx="92.3" cy="27.4" r="1.4" fill="#1f1f1f"/>
<circle cx="40.1" cy="69.3" r="1.6" fill="#1b1b1b"/>
<circle cx="32.9" cy="6.7" r="2.0" fill="#363636"/>
<circle cx="100.1" cy="7.2" r="1.6" fill="#1f1f1f"/>
<circle cx="98.3" cy="67.8" r="1.8" fill="#3d3d3d"/>
<circle cx="56.2" cy="62.9" r="1.8" fill="#282828"/>
<circle cx="107.4" cy="68.2" r="1.9" fill="#3a3a3a"/>
<circle cx="70.1" cy="64.6" r="1.1" fill="#1f1f1f"/>
<circle cx="11.8" cy="48.9" r="2.2" fill="#202020"/>
<circle cx="54.6" cy="9.2" r="2.1" fill="#373737"/>
<circle cx="9.4" cy="79.4" r="2.1" fill="#1f1f1f"/>
<circle cx="37.9" cy="12.8" r="2.2" fill="#3c3c3c"/>
<circle cx="18.9" cy="14.9" r="2.0" fill="#393939"/>
<circle cx="79.8" cy="37.1" r="1.2" fill="#313131"/>
<circle cx="49.2" cy="65.1" r="1.9" fill="#353535"/>
<circle cx="104.9" cy="50.7" r="2.5" fill="#242424"/>
<circle cx="0.2" cy="71.5" r="1.0" fill="#3e3e3e"/>
<circle cx="49.2" cy="5.0" r="1.4" fill="#343434"/>
<circle cx="41.5" cy="50.5" r="1.2" fill="#393939"/>
<circle cx="40.3" cy="67.5" r="1.2" fill="#333333"/>
<circle cx="50.7" cy="32.8" r="1.0" fill="#2e2e2e"/>
<circle cx="90.5" cy="8.4" r="1.7" fill="#1b1b1b"/>
<circle cx="107.4" cy="78.5" r="2.1" fill="#2c2c2c"/>
<circle cx="7.6" cy="9.8" r="2.1" fill="#373737"/>
<circle cx="106.8" cy="69.8" r="1.7" fill="#242424"/>
<circle cx="58.5" cy="28.0" r="1.9" fill="#3a3a3a"/>
<circle cx="48.9" cy="79.5" r="2.1" fill="#1c1c1c"/>
<circle cx="80.7" cy="53.6" r="2.0" fill="#1b1b1b"/>
<circle cx="94.9" cy="40.1" r="1.9" fill="#212121"/>
<circle cx="3.8" cy="1.1" r="1.3" fill="#252525"/>
<circle cx="16.6" cy="4.7" r="2.2" fill="#343434"/>
<circle cx="95.3" cy="17.6" r="2.2" fill="#303030"/>
<circle cx="9.7" cy="70.9" r="1.6" fill="#212121"/>
<circle cx="19.8" cy="74.9" r="1.4" fill="#282828"/>
<circle cx="59.1" cy="29.1" r="2.0" fill="#1e1e1e"/>
<circle cx="46.4" cy="47.3" r="2.0" fill="#303030"/>
<circle cx="29.1" cy="51.7" r="2.6" fill="#2c2c2c"/>
<circle cx="69.6" cy="67.8" r="1.4" fill="#242424"/>
<circle cx="104.8" cy="24.4" r="1.7" fill="#282828"/>
<circle cx="107.3" cy="44.2" r="2.4" fill="#202020"/>
<circle cx="30.0" cy="52.6" r="1.5" fill="#323232"/>
<circle cx="54.8" cy="6.3" r="1.2" fill="#2a2a2a"/>
<circle cx="57.6" cy="14.3" r="1.4" fill="#1b1b1b"/>
<circle cx="28.7" cy="25.0" r="1.6" fill="#303030"/>
<circle cx="92.1" cy="58.1" r="2.2" fill="#252525"/>
<circle cx="53.5" cy="58.9" r="2.4" fill="#232323"/>
<circle cx="1.6" cy="4.1" r="1.8" fill="#3a3a3a"/>
<circle cx="16.6" cy="63.5" r="2.0" fill="#3a3a3a"/>
<circle cx="97.3" cy="8.7" r="2.3" fill="#1f1f1f"/>
<circle cx="12.8" cy="32.3" r="1.8" fill="#1d1d1d"/>
<circle cx="29.8" cy="14.2" r="1.2" fill="#1e1e1e"/>
<circle cx="2.6" cy="17.6" r="1.5" fill="#2a2a2a"/>
<circle cx="75.0" cy="49.6" r="1.8" fill="#262626"/>
<circle cx="66.4" cy="15.6" r="1.3" fill="#1f1f1f"/>
<circle cx="72.3" cy="11.3" r="1.4" fill="#272727"/>
<circle cx="60.9" cy="52.5" r="1.9" fill="#303030"/>
<circle cx="20.8" cy="73.9" r="2.2" fill="#292929"/>
<circle cx="42.8" cy="46.7" r="1.2" fill="#323232"/>
<circle cx="97.5" cy="29.5" r="1.8" fill="#242424"/>
<circle cx="98.2" cy="30.5" r="1.6" fill="#343434"/>
<circle cx="40.2" cy="73.3" r="1.7" fill="#303030"/>
<circle cx="32.9" cy="47.7" r="1.8" fill="#1e1e1e"/>
<circle cx="96.0" cy="13.0" r="1.9" fill="#333333"/>
<circle cx="50.6" cy="26.5" r="1.7" fill="#3e3e3e"/>
<circle cx="1.3" cy="71.7" r="2.0" fill="#2c2c2c"/>
<circle cx="68.9" cy="51.8" r="2.3" fill="#3e3e3e"/>
<circle cx="55.6" cy="28.5" r="1.6" fill="#3b3b3b"/>
<circle cx="51.8" cy="5.7" r="1.9" fill="#1f1f1f"/>
<circle cx="37.4" cy="52.7" r="2.0" fill="#2e2e2e"/>
<circle cx="89.6" cy="49.3" r="2.6" fill="#383838"/>
<circle cx="28.5" cy="63.3" r="1.6" fill="#3d3d3d"/>
<circle cx="66.9" cy="33.9" r="1.3" fill="#393939"/>
<circle cx="38.1" cy="1.3" r="2.3" fill="#1b1b1b"/>
<circle cx="4.8" cy="2.5" r="2.0" fill="#2f2f2f"/>
<circle cx="52.2" cy="75.7" r="1.8" fill="#222222"/>
<polygon points="-8.8,-0.1 46.2,48.1 48.8,45.1 -6.2,-3.1" fill="#343434" />
<line x1="-6.7" y1="-2.5" x2="48.3" y2="45.7" stroke="#242424" stroke-width="0.58"/>
<line x1="-7.1" y1="-2.0" x2="47.9" y2="46.1" stroke="#636363" stroke-width="0.76"/>
<line x1="-7.8" y1="-1.3" x2="47.3" y2="46.9" stroke="#3b3b3b" stroke-width="0.74"/>
<line x1="-8.5" y1="-0.4" x2="46.5" y2="47.7" stroke="#444444" stroke-width="0.69"/>
<polygon points="-9.4,16.1 52.2,57.2 54.4,53.9 -7.2,12.8" fill="#2d2d2d" />
<line x1="-7.5" y1="13.2" x2="54.2" y2="54.3" stroke="#474747" stroke-width="0.83"/>
<line x1="-8.1" y1="14.1" x2="53.6" y2="55.2" stroke="#252525" stroke-width="1.03"/>
<line x1="-8.6" y1="14.9" x2="53.1" y2="56.0" stroke="#565656" stroke-width="0.88"/>
<line x1="-9.1" y1="15.7" x2="52.5" y2="56.8" stroke="#121212" stroke-width="1.00"/>
<polygon points="41.7,-3.0 113.4,53.3 118.3,47.0 46.6,-9.3" fill="#444444" />
<line x1="46.1" y1="-8.7" x2="117.9" y2="47.6" stroke="#323232" stroke-width="0.60"/>
<line x1="45.7" y1="-8.1" x2="117.4" y2="48.2" stroke="#606060" stroke-width="0.65"/>
<line x1="45.1" y1="-7.4" x2="116.8" y2="49.0" stroke="#3f3f3f" stroke-width="0.83"/>
<line x1="44.7" y1="-6.8" x2="116.4" y2="49.5" stroke="#515151" stroke-width="0.88"/>
<line x1="44.2" y1="-6.2" x2="115.9" y2="50.2" stroke="#6f6f6f" stroke-width="0.93"/>
<line x1="43.7" y1="-5.7" x2="115.5" y2="50.7" stroke="#515151" stroke-width="0.82"/>
<line x1="43.1" y1="-4.9" x2="114.9" y2="51.4" stroke="#606060" stroke-width="0.57"/>
<line x1="42.7" y1="-4.3" x2="114.4" y2="52.0" stroke="#565656" stroke-width="0.66"/>
<line x1="42.1" y1="-3.6" x2="113.8" y2="52.7" stroke="#494949" stroke-width="0.85"/>
<polygon points="60.2,37.1 115.9,66.4 117.8,62.9 62.1,33.6" fill="#2d2d2d" />
<line x1="61.8" y1="34.1" x2="117.5" y2="63.5" stroke="#3a3a3a" stroke-width="0.80"/>
<line x1="61.4" y1="34.9" x2="117.1" y2="64.2" stroke="#525252" stroke-width="0.97"/>
<line x1="60.9" y1="35.9" x2="116.6" y2="65.2" stroke="#575757" stroke-width="0.88"/>
<line x1="60.5" y1="36.5" x2="116.2" y2="65.8" stroke="#424242" stroke-width="0.70"/>
<polygon points="-10.4,38.5 46.3,91.1 52.4,84.5 -4.3,31.9" fill="#616161" />
<line x1="-4.7" y1="32.3" x2="52.0" y2="84.9" stroke="#6c6c6c" stroke-width="0.58"/>
<line x1="-5.3" y1="33.0" x2="51.4" y2="85.6" stroke="#686868" stroke-width="0.67"/>
<line x1="-5.9" y1="33.6" x2="50.8" y2="86.2" stroke="#949494" stroke-width="0.87"/>
<line x1="-6.4" y1="34.2" x2="50.3" y2="86.8" stroke="#969696" stroke-width="0.75"/>
<line x1="-7.0" y1="34.8" x2="49.7" y2="87.4" stroke="#848484" stroke-width="0.70"/>
<line x1="-7.5" y1="35.4" x2="49.1" y2="88.0" stroke="#aaaaaa" stroke-width="0.85"/>
<line x1="-8.2" y1="36.2" x2="48.4" y2="88.8" stroke="#8f8f8f" stroke-width="0.80"/>
<line x1="-8.8" y1="36.8" x2="47.8" y2="89.4" stroke="#626262" stroke-width="0.59"/>
<line x1="-9.4" y1="37.4" x2="47.3" y2="90.0" stroke="#7a7a7a" stroke-width="0.57"/>
<line x1="-9.9" y1="37.9" x2="46.8" y2="90.5" stroke="#676767" stroke-width="1.02"/>
<polygon points="-0.9,35.5 60.5,86.2 66.9,78.5 5.5,27.8" fill="#6b6b6b" />
<line x1="5.0" y1="28.4" x2="66.4" y2="79.1" stroke="#626262" stroke-width="0.75"/>
<line x1="4.6" y1="28.8" x2="66.0" y2="79.6" stroke="#6f6f6f" stroke-width="0.70"/>
<line x1="3.9" y1="29.6" x2="65.3" y2="80.4" stroke="#acacac" stroke-width="0.69"/>
<line x1="3.5" y1="30.2" x2="64.9" y2="80.9" stroke="#7b7b7b" stroke-width="0.86"/>
<line x1="3.2" y1="30.6" x2="64.6" y2="81.3" stroke="#a0a0a0" stroke-width="0.85"/>
<line x1="2.4" y1="31.5" x2="63.8" y2="82.2" stroke="#9e9e9e" stroke-width="1.00"/>
<line x1="2.1" y1="31.9" x2="63.5" y2="82.6" stroke="#a2a2a2" stroke-width="0.66"/>
<line x1="1.6" y1="32.4" x2="63.1" y2="83.2" stroke="#b8b8b8" stroke-width="0.57"/>
<line x1="1.1" y1="33.1" x2="62.5" y2="83.8" stroke="#888888" stroke-width="0.66"/>
<line x1="0.4" y1="33.9" x2="61.9" y2="84.6" stroke="#9f9f9f" stroke-width="0.74"/>
<line x1="0.0" y1="34.4" x2="61.4" y2="85.1" stroke="#9e9e9e" stroke-width="0.59"/>
<line x1="-0.5" y1="35.0" x2="60.9" y2="85.8" stroke="#969696" stroke-width="0.85"/>
<polygon points="-9.6,51.9 35.8,89.7 39.6,85.1 -5.8,47.3" fill="#474747" />
<line x1="-6.1" y1="47.7" x2="39.2" y2="85.5" stroke="#424242" stroke-width="0.64"/>
<line x1="-6.6" y1="48.2" x2="38.8" y2="86.1" stroke="#515151" stroke-width="0.70"/>
<line x1="-7.2" y1="49.1" x2="38.1" y2="86.9" stroke="#4a4a4a" stroke-width="0.62"/>
<line x1="-7.8" y1="49.7" x2="37.6" y2="87.5" stroke="#5f5f5f" stroke-width="0.61"/>
<line x1="-8.3" y1="50.3" x2="37.1" y2="88.1" stroke="#414141" stroke-width="0.74"/>
<line x1="-8.7" y1="50.8" x2="36.7" y2="88.6" stroke="#5d5d5d" stroke-width="0.67"/>
<line x1="-9.4" y1="51.6" x2="36.0" y2="89.4" stroke="#565656" stroke-width="0.72"/>
<polygon points="37.1,-5.8 103.3,80.1 108.9,75.8 42.7,-10.1" fill="#4e4e4e" />
<line x1="42.2" y1="-9.7" x2="108.4" y2="76.2" stroke="#535353" stroke-width="0.83"/>
<line x1="41.5" y1="-9.2" x2="107.7" y2="76.7" stroke="#535353" stroke-width="0.98"/>
<line x1="41.0" y1="-8.8" x2="107.2" y2="77.1" stroke="#858585" stroke-width="0.76"/>
<line x1="40.2" y1="-8.2" x2="106.4" y2="77.7" stroke="#515151" stroke-width="0.81"/>
<line x1="39.6" y1="-7.7" x2="105.8" y2="78.1" stroke="#747474" stroke-width="0.89"/>
<line x1="39.0" y1="-7.3" x2="105.2" y2="78.6" stroke="#4d4d4d" stroke-width="0.99"/>
<line x1="38.3" y1="-6.7" x2="104.6" y2="79.1" stroke="#707070" stroke-width="0.91"/>
<line x1="37.5" y1="-6.1" x2="103.7" y2="79.8" stroke="#383838" stroke-width="0.87"/>
<polygon points="28.3,-5.9 76.1,92.1 88.7,85.9 40.9,-12.1" fill="#969696" />
<line x1="40.1" y1="-11.7" x2="87.9" y2="86.3" stroke="#919191" stroke-width="0.56"/>
<line x1="39.3" y1="-11.3" x2="87.1" y2="86.7" stroke="#c6c6c6" stroke-width="0.90"/>
<line x1="38.6" y1="-10.9" x2="86.4" y2="87.0" stroke="#c7c7c7" stroke-width="0.66"/>
<line x1="38.1" y1="-10.7" x2="85.9" y2="87.3" stroke="#a3a3a3" stroke-width="0.88"/>
<line x1="37.2" y1="-10.2" x2="84.9" y2="87.7" stroke="#ebebeb" stroke-width="0.68"/>
<line x1="36.6" y1="-10.0" x2="84.4" y2="88.0" stroke="#c4c4c4" stroke-width="1.01"/>
<line x1="35.8" y1="-9.6" x2="83.6" y2="88.4" stroke="#e8e8e8" stroke-width="0.87"/>
<line x1="34.9" y1="-9.1" x2="82.7" y2="88.9" stroke="#b6b6b6" stroke-width="0.95"/>
<line x1="34.3" y1="-8.8" x2="82.0" y2="89.2" stroke="#e0e0e0" stroke-width="0.58"/>
<line x1="33.6" y1="-8.5" x2="81.3" y2="89.5" stroke="#d4d4d4" stroke-width="0.69"/>
<line x1="32.7" y1="-8.1" x2="80.5" y2="89.9" stroke="#b2b2b2" stroke-width="0.68"/>
<line x1="32.0" y1="-7.7" x2="79.7" y2="90.3" stroke="#bdbdbd" stroke-width="1.03"/>
<line x1="31.3" y1="-7.4" x2="79.1" y2="90.6" stroke="#b7b7b7" stroke-width="0.75"/>
<line x1="30.5" y1="-7.0" x2="78.2" y2="91.0" stroke="#b1b1b1" stroke-width="1.03"/>
<line x1="29.9" y1="-6.7" x2="77.6" y2="91.3" stroke="#bebebe" stroke-width="0.98"/>
<line x1="29.1" y1="-6.3" x2="76.9" y2="91.7" stroke="#9e9e9e" stroke-width="0.81"/>
<circle cx="81.0" cy="69.5" r="0.7" fill="#a7a7a7"/>
<circle cx="34.7" cy="74.9" r="0.4" fill="#6f6f6f"/>
<circle cx="60.3" cy="6.3" r="0.3" fill="#7d7d7d"/>
<circle cx="89.0" cy="25.9" r="0.7" fill="#b9b9b9"/>
<circle cx="43.3" cy="13.0" r="0.4" fill="#a1a1a1"/>
<circle cx="71.4" cy="29.6" r="0.7" fill="#737373"/>
<circle cx="31.5" cy="32.6" r="0.6" fill="#b1b1b1"/>
<circle cx="86.8" cy="74.0" r="0.8" fill="#9e9e9e"/>
<circle cx="56.1" cy="9.0" r="0.6" fill="#b7b7b7"/>
<circle cx="77.2" cy="40.7" r="0.6" fill="#ababab"/>
<circle cx="89.7" cy="59.6" r="0.6" fill="#bababa"/>
<circle cx="88.1" cy="5.0" r="0.8" fill="#858585"/>
<circle cx="30.1" cy="27.6" r="0.4" fill="#6e6e6e"/>
<circle cx="78.2" cy="33.3" r="0.4" fill="#a7a7a7"/>
<circle cx="42.1" cy="31.3" r="0.5" fill="#878787"/>
<circle cx="74.0" cy="19.6" r="0.7" fill="#929292"/>
<circle cx="55.8" cy="30.1" r="0.8" fill="#818181"/>
<circle cx="54.9" cy="24.9" r="0.4" fill="#6f6f6f"/>
<circle cx="70.9" cy="66.9" r="0.5" fill="#919191"/>
<circle cx="79.0" cy="9.1" r="0.4" fill="#a8a8a8"/>
<circle cx="44.9" cy="23.9" r="0.6" fill="#838383"/>
<circle cx="39.4" cy="9.0" r="0.8" fill="#aeaeae"/>
<circle cx="44.5" cy="13.9" r="0.6" fill="#999999"/>
<circle cx="86.1" cy="34.2" r="0.4" fill="#b1b1b1"/>
<circle cx="38.9" cy="23.6" r="0.4" fill="#b3b3b3"/>
<circle cx="87.9" cy="34.0" r="0.6" fill="#a6a6a6"/>
<circle cx="57.2" cy="66.5" r="0.5" fill="#a8a8a8"/>
<circle cx="39.9" cy="15.8" r="0.4" fill="#7c7c7c"/>
<circle cx="87.8" cy="23.7" r="0.6" fill="#6f6f6f"/>
<circle cx="82.1" cy="61.7" r="0.6" fill="#bdbdbd"/>
</g>
<rect x="438.3" y="194.3" width="106.5" height="79.9" filter="url(#grain)" opacity="0.6" style="mix-blend-mode:overlay"/>
</g>
<rect x="438.3" y="274.2" width="106.5" height="5.2" fill="#050505"/>
<g fill="#aaa" font-size="1.7" font-weight="normal"><text x="483.0" y="277.9">x 100</text><text x="497.9" y="277.9">0 3mm</text><text x="529.9" y="277.9">HV 1kV</text></g>
<rect x="512.8" y="275.0" width="9.6" height="1" fill="#eee"/>
<rect x="439.6" y="196" width="13.6" height="15" fill="#fff"/>
<text x="446.4" y="206.2" font-size="8" text-anchor="middle" font-family="Liberation Serif,serif" fill="#333">f</text>
<text x="322.6" y="11.6" font-size="10.8" text-anchor="middle" font-weight="normal" fill="#1a1a1a" font-family="Liberation Serif,serif">B</text>
<text x="11.7" y="11.8" font-size="10.8" text-anchor="middle" font-weight="normal" fill="#1a1a1a" font-family="Liberation Serif,serif">A</text>
</svg>
</body></html>
